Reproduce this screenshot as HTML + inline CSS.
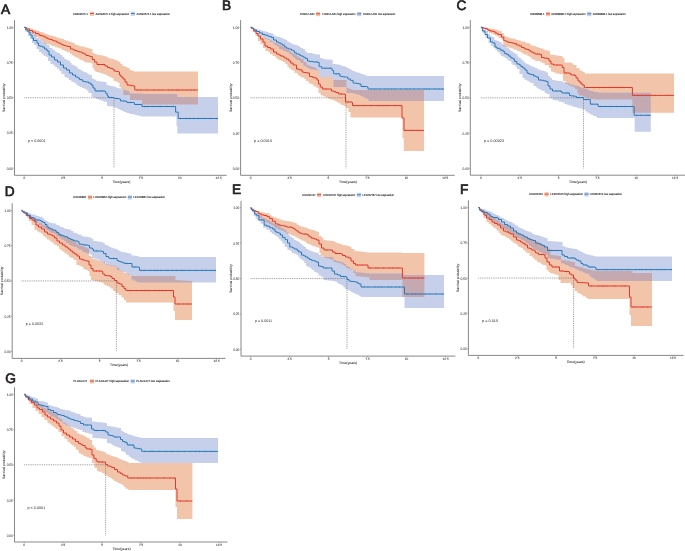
<!DOCTYPE html>
<html><head><meta charset="utf-8"><title>Kaplan-Meier survival curves</title>
<style>html,body{margin:0;padding:0;background:#fff;width:685px;height:551px;overflow:hidden;font-family:"Liberation Sans",sans-serif;}svg{display:block;will-change:transform}</style>
</head><body>
<svg width="685" height="551" viewBox="0 0 685 551" font-family="Liberation Sans, sans-serif" text-rendering="geometricPrecision">
<rect width="685" height="551" fill="#fff"/>
<clipPath id="cA"><path d="M24.3 27.3 L24.84 27.3 L24.84 27.52 L27.18 27.52 L27.18 27.69 L28.92 27.69 L28.92 28 L30 28 L30.67 28 L30.67 28.71 L33.67 28.71 L33.67 30 L35 30 L36.33 30 L36.33 30.55 L37.62 30.55 L37.62 31.11 L39.72 31.11 L39.72 32 L41 32 L41.9 32 L41.9 32.62 L44.48 32.62 L44.48 33.41 L45.55 33.41 L45.55 34 L47 34 L47.62 34 L47.62 34.97 L49.81 34.97 L49.81 35.54 L52.32 35.54 L52.32 36 L53 36 L53.87 36 L53.87 36.47 L56.05 36.47 L56.05 37.21 L57.56 37.21 L57.56 38 L59 38 L59.93 38 L59.93 38.46 L61.81 38.46 L61.81 39.03 L64.09 39.03 L64.09 40 L65 40 L66.2 40 L66.2 40.63 L67.74 40.63 L67.74 41.15 L70.07 41.15 L70.07 42 L71 42 L71.79 42 L71.79 42.85 L74.48 42.85 L74.48 43.98 L75.62 43.98 L75.62 45 L77 45 L77.99 45 L77.99 45.49 L79.54 45.49 L79.54 46.15 L82.17 46.15 L82.17 46.5 L83 46.5 L84.34 46.5 L84.34 47.2 L86.48 47.2 L86.48 47.79 L88.71 47.79 L88.71 48.55 L90.83 48.55 L90.83 49 L92 49 L92.5 49 L92.5 53 L93 53 L94.22 53 L94.22 53.96 L96.96 53.96 L96.96 55 L98 55 L99.74 55 L99.74 55.19 L101.88 55.19 L101.88 55.61 L103.58 55.61 L103.58 56 L105 56 L105.52 56 L105.52 56.86 L107.96 56.86 L107.96 58 L109 58 L109.56 58 L109.56 58.52 L112.27 58.52 L112.27 59 L113 59 L113.89 59 L113.89 59.69 L116.37 59.69 L116.37 60.5 L117 60.5 L118.5 60.5 L118.5 62 L120 62 L120.5 62 L120.5 64 L121 64 L122.5 64 L122.5 66 L124 66 L125.05 66 L125.05 66.76 L127.38 66.76 L127.38 68 L128 68 L129.5 68 L129.5 70 L131 70 L131.78 70 L131.78 70.74 L133.92 70.74 L133.92 71.5 L135 71.5 L198 71.5 L198 72 L198 104.5 L142 104.5 L142 100 L141.5 100 L130 100 L130 95 L129.5 95 L124.5 95 L123.25 95 L123.25 89 L122 89 L121 89 L121 87 L120 87 L119.5 87 L119.5 83 L119 83 L118.24 83 L118.24 82.02 L116.32 82.02 L116.32 81 L115 81 L113.5 81 L113.5 78 L112 78 L111.48 78 L111.48 77.07 L109.31 77.07 L109.31 76 L108 76 L107.28 76 L107.28 74.69 L105.03 74.69 L105.03 74 L104 74 L102.68 74 L102.68 73.3 L100.22 73.3 L100.22 72.53 L98.4 72.53 L98.4 72 L97 72 L95.53 72 L95.53 70.46 L94.04 70.46 L94.04 68 L93 68 L92.5 68 L92.5 63.5 L92 63.5 L91.36 63.5 L91.36 62.82 L87.94 62.82 L87.94 62.43 L85.77 62.43 L85.77 62 L85 62 L84 62 L84 60.5 L83 60.5 L81.6 60.5 L81.6 59.74 L79.59 59.74 L79.59 58.56 L77.98 58.56 L77.98 57.5 L77 57.5 L75.62 57.5 L75.62 56.45 L73.86 56.45 L73.86 55.55 L71.85 55.55 L71.85 54 L71 54 L70.22 54 L70.22 52.23 L66.66 52.23 L66.66 51 L66 51 L64.31 51 L64.31 50.01 L61.63 50.01 L61.63 48.5 L61 48.5 L59.33 48.5 L59.33 47.75 L56.89 47.75 L56.89 47 L56 47 L54.92 47 L54.92 46 L51.75 46 L51.75 45 L51 45 L50.12 45 L50.12 44.28 L47.72 44.28 L47.72 43.5 L46 43.5 L44.19 43.5 L44.19 41.67 L42.47 41.67 L42.47 40 L41 40 L40.19 40 L40.19 38.35 L38.45 38.35 L38.45 37 L37 37 L35.92 37 L35.92 35.76 L33.5 35.76 L33.5 34 L33 34 L31.98 34 L31.98 32.44 L29.73 32.44 L29.73 31 L29 31 L27.41 31 L27.41 28.72 L26.01 28.72 L26.01 27.3 L24.3 27.3 Z"/></clipPath>
<path d="M24.3 27.3 L24.84 27.3 L24.84 27.52 L27.18 27.52 L27.18 27.69 L28.92 27.69 L28.92 28 L30 28 L30.67 28 L30.67 28.71 L33.67 28.71 L33.67 30 L35 30 L36.33 30 L36.33 30.55 L37.62 30.55 L37.62 31.11 L39.72 31.11 L39.72 32 L41 32 L41.9 32 L41.9 32.62 L44.48 32.62 L44.48 33.41 L45.55 33.41 L45.55 34 L47 34 L47.62 34 L47.62 34.97 L49.81 34.97 L49.81 35.54 L52.32 35.54 L52.32 36 L53 36 L53.87 36 L53.87 36.47 L56.05 36.47 L56.05 37.21 L57.56 37.21 L57.56 38 L59 38 L59.93 38 L59.93 38.46 L61.81 38.46 L61.81 39.03 L64.09 39.03 L64.09 40 L65 40 L66.2 40 L66.2 40.63 L67.74 40.63 L67.74 41.15 L70.07 41.15 L70.07 42 L71 42 L71.79 42 L71.79 42.85 L74.48 42.85 L74.48 43.98 L75.62 43.98 L75.62 45 L77 45 L77.99 45 L77.99 45.49 L79.54 45.49 L79.54 46.15 L82.17 46.15 L82.17 46.5 L83 46.5 L84.34 46.5 L84.34 47.2 L86.48 47.2 L86.48 47.79 L88.71 47.79 L88.71 48.55 L90.83 48.55 L90.83 49 L92 49 L92.5 49 L92.5 53 L93 53 L94.22 53 L94.22 53.96 L96.96 53.96 L96.96 55 L98 55 L99.74 55 L99.74 55.19 L101.88 55.19 L101.88 55.61 L103.58 55.61 L103.58 56 L105 56 L105.52 56 L105.52 56.86 L107.96 56.86 L107.96 58 L109 58 L109.56 58 L109.56 58.52 L112.27 58.52 L112.27 59 L113 59 L113.89 59 L113.89 59.69 L116.37 59.69 L116.37 60.5 L117 60.5 L118.5 60.5 L118.5 62 L120 62 L120.5 62 L120.5 64 L121 64 L122.5 64 L122.5 66 L124 66 L125.05 66 L125.05 66.76 L127.38 66.76 L127.38 68 L128 68 L129.5 68 L129.5 70 L131 70 L131.78 70 L131.78 70.74 L133.92 70.74 L133.92 71.5 L135 71.5 L198 71.5 L198 72 L198 104.5 L142 104.5 L142 100 L141.5 100 L130 100 L130 95 L129.5 95 L124.5 95 L123.25 95 L123.25 89 L122 89 L121 89 L121 87 L120 87 L119.5 87 L119.5 83 L119 83 L118.24 83 L118.24 82.02 L116.32 82.02 L116.32 81 L115 81 L113.5 81 L113.5 78 L112 78 L111.48 78 L111.48 77.07 L109.31 77.07 L109.31 76 L108 76 L107.28 76 L107.28 74.69 L105.03 74.69 L105.03 74 L104 74 L102.68 74 L102.68 73.3 L100.22 73.3 L100.22 72.53 L98.4 72.53 L98.4 72 L97 72 L95.53 72 L95.53 70.46 L94.04 70.46 L94.04 68 L93 68 L92.5 68 L92.5 63.5 L92 63.5 L91.36 63.5 L91.36 62.82 L87.94 62.82 L87.94 62.43 L85.77 62.43 L85.77 62 L85 62 L84 62 L84 60.5 L83 60.5 L81.6 60.5 L81.6 59.74 L79.59 59.74 L79.59 58.56 L77.98 58.56 L77.98 57.5 L77 57.5 L75.62 57.5 L75.62 56.45 L73.86 56.45 L73.86 55.55 L71.85 55.55 L71.85 54 L71 54 L70.22 54 L70.22 52.23 L66.66 52.23 L66.66 51 L66 51 L64.31 51 L64.31 50.01 L61.63 50.01 L61.63 48.5 L61 48.5 L59.33 48.5 L59.33 47.75 L56.89 47.75 L56.89 47 L56 47 L54.92 47 L54.92 46 L51.75 46 L51.75 45 L51 45 L50.12 45 L50.12 44.28 L47.72 44.28 L47.72 43.5 L46 43.5 L44.19 43.5 L44.19 41.67 L42.47 41.67 L42.47 40 L41 40 L40.19 40 L40.19 38.35 L38.45 38.35 L38.45 37 L37 37 L35.92 37 L35.92 35.76 L33.5 35.76 L33.5 34 L33 34 L31.98 34 L31.98 32.44 L29.73 32.44 L29.73 31 L29 31 L27.41 31 L27.41 28.72 L26.01 28.72 L26.01 27.3 L24.3 27.3 Z" fill="#f2c5aa"/>
<path d="M24.3 27.3 L25.31 27.3 L25.31 28.42 L27.27 28.42 L27.27 30 L29 30 L30.5 30 L30.5 32 L32 32 L33.5 32 L33.5 35 L35 35 L36.5 35 L36.5 38 L38 38 L39.5 38 L39.5 40 L41 40 L42.5 40 L42.5 42 L44 42 L44.76 42 L44.76 43.21 L47.19 43.21 L47.19 45 L48 45 L49.5 45 L49.5 48 L51 48 L52.44 48 L52.44 49.82 L54.49 49.82 L54.49 51 L55 51 L55.72 51 L55.72 52.25 L57.73 52.25 L57.73 53 L59 53 L60.12 53 L60.12 54.99 L62.4 54.99 L62.4 57 L63 57 L64.15 57 L64.15 58.73 L66.3 58.73 L66.3 60 L67 60 L68.41 60 L68.41 61.01 L70.28 61.01 L70.28 63 L71 63 L71.68 63 L71.68 64.68 L74.29 64.68 L74.29 66 L75 66 L76.47 66 L76.47 67.17 L77.9 67.17 L77.9 69 L79 69 L79.67 69 L79.67 69.76 L81.63 69.76 L81.63 70.97 L83.65 70.97 L83.65 72 L85 72 L86.33 72 L86.33 73.26 L88.48 73.26 L88.48 74.42 L90.16 74.42 L90.16 75 L91 75 L92 75 L92 78.5 L93 78.5 L93.79 78.5 L93.79 79.62 L96.14 79.62 L96.14 81 L98 81 L99.67 81 L99.67 81.4 L101.42 81.4 L101.42 81.72 L104.27 81.72 L104.27 82 L105 82 L106.5 82 L106.5 85 L108 85 L108.79 85 L108.79 85.71 L110.74 85.71 L110.74 86.1 L113.09 86.1 L113.09 86.5 L114 86.5 L115.41 86.5 L115.41 87.16 L116.85 87.16 L116.85 87.95 L118.96 87.95 L118.96 88.5 L120 88.5 L121.04 88.5 L121.04 89.15 L123.84 89.15 L123.84 90 L124.5 90 L125.65 90 L125.65 90.49 L127.33 90.49 L127.33 91 L129 91 L129.5 91 L129.5 93.5 L130 93.5 L142 93.5 L142 94 L177 94 L177 94.5 L177.5 94.5 L177.5 97 L178 97 L218 97 L218 133.6 L178.2 133.6 L177.35 133.6 L177.35 126 L176.5 126 L176.5 116.6 L176 116.6 L176 116.5 L142 116.5 L140.77 116.5 L140.77 115.79 L138.6 115.79 L138.6 115.52 L137.47 115.52 L137.47 115.04 L135.29 115.04 L135.29 114.5 L134 114.5 L132.83 114.5 L132.83 113.93 L130.52 113.93 L130.52 113.66 L128.94 113.66 L128.94 113 L128 113 L126.52 113 L126.52 112.1 L123.87 112.1 L123.87 111 L123 111 L121.93 111 L121.93 110.06 L119.66 110.06 L119.66 109 L119 109 L117.73 109 L117.73 107.66 L115.12 107.66 L115.12 107 L114 107 L113.47 107 L113.47 106.62 L111.38 106.62 L111.38 106.22 L108.64 106.22 L108.64 106 L108 106 L107 106 L107 102 L106 102 L105.4 102 L105.4 101.39 L103.28 101.39 L103.28 100.61 L101.17 100.61 L101.17 100 L100 100 L98.77 100 L98.77 98.95 L96.06 98.95 L96.06 97.83 L93.74 97.83 L93.74 97 L93 97 L91.5 97 L91.5 93 L90 93 L88.45 93 L88.45 90.86 L86.8 90.86 L86.8 89 L85 89 L84.44 89 L84.44 88.1 L81.98 88.1 L81.98 86.96 L80.03 86.96 L80.03 86 L79 86 L78.01 86 L78.01 84.8 L76.11 84.8 L76.11 83 L75 83 L74.07 83 L74.07 81.67 L71.33 81.67 L71.33 80 L70 80 L68.78 80 L68.78 78.09 L66.75 78.09 L66.75 77 L66 77 L64.5 77 L64.5 74 L63 74 L61.5 74 L61.5 71 L60 71 L59.28 71 L59.28 68.79 L57.06 68.79 L57.06 67 L56 67 L55.06 67 L55.06 65.23 L53.23 65.23 L53.23 64 L52 64 L50.5 64 L50.5 61 L49 61 L48 61 L48 57 L47 57 L46.3 57 L46.3 55.74 L43.5 55.74 L43.5 54 L43 54 L41.5 54 L41.5 52 L40 52 L39 52 L39 49 L38 49 L36.5 49 L36.5 45 L35 45 L34 45 L34 43 L33 43 L32 43 L32 39 L31 39 L30 39 L30 36 L29 36 L28 36 L28 32 L27 32 L25.65 32 L25.65 27.3 L24.3 27.3 Z" fill="#c7d0ea"/>
<path d="M24.3 27.3 L25.31 27.3 L25.31 28.42 L27.27 28.42 L27.27 30 L29 30 L30.5 30 L30.5 32 L32 32 L33.5 32 L33.5 35 L35 35 L36.5 35 L36.5 38 L38 38 L39.5 38 L39.5 40 L41 40 L42.5 40 L42.5 42 L44 42 L44.76 42 L44.76 43.21 L47.19 43.21 L47.19 45 L48 45 L49.5 45 L49.5 48 L51 48 L52.44 48 L52.44 49.82 L54.49 49.82 L54.49 51 L55 51 L55.72 51 L55.72 52.25 L57.73 52.25 L57.73 53 L59 53 L60.12 53 L60.12 54.99 L62.4 54.99 L62.4 57 L63 57 L64.15 57 L64.15 58.73 L66.3 58.73 L66.3 60 L67 60 L68.41 60 L68.41 61.01 L70.28 61.01 L70.28 63 L71 63 L71.68 63 L71.68 64.68 L74.29 64.68 L74.29 66 L75 66 L76.47 66 L76.47 67.17 L77.9 67.17 L77.9 69 L79 69 L79.67 69 L79.67 69.76 L81.63 69.76 L81.63 70.97 L83.65 70.97 L83.65 72 L85 72 L86.33 72 L86.33 73.26 L88.48 73.26 L88.48 74.42 L90.16 74.42 L90.16 75 L91 75 L92 75 L92 78.5 L93 78.5 L93.79 78.5 L93.79 79.62 L96.14 79.62 L96.14 81 L98 81 L99.67 81 L99.67 81.4 L101.42 81.4 L101.42 81.72 L104.27 81.72 L104.27 82 L105 82 L106.5 82 L106.5 85 L108 85 L108.79 85 L108.79 85.71 L110.74 85.71 L110.74 86.1 L113.09 86.1 L113.09 86.5 L114 86.5 L115.41 86.5 L115.41 87.16 L116.85 87.16 L116.85 87.95 L118.96 87.95 L118.96 88.5 L120 88.5 L121.04 88.5 L121.04 89.15 L123.84 89.15 L123.84 90 L124.5 90 L125.65 90 L125.65 90.49 L127.33 90.49 L127.33 91 L129 91 L129.5 91 L129.5 93.5 L130 93.5 L142 93.5 L142 94 L177 94 L177 94.5 L177.5 94.5 L177.5 97 L178 97 L218 97 L218 133.6 L178.2 133.6 L177.35 133.6 L177.35 126 L176.5 126 L176.5 116.6 L176 116.6 L176 116.5 L142 116.5 L140.77 116.5 L140.77 115.79 L138.6 115.79 L138.6 115.52 L137.47 115.52 L137.47 115.04 L135.29 115.04 L135.29 114.5 L134 114.5 L132.83 114.5 L132.83 113.93 L130.52 113.93 L130.52 113.66 L128.94 113.66 L128.94 113 L128 113 L126.52 113 L126.52 112.1 L123.87 112.1 L123.87 111 L123 111 L121.93 111 L121.93 110.06 L119.66 110.06 L119.66 109 L119 109 L117.73 109 L117.73 107.66 L115.12 107.66 L115.12 107 L114 107 L113.47 107 L113.47 106.62 L111.38 106.62 L111.38 106.22 L108.64 106.22 L108.64 106 L108 106 L107 106 L107 102 L106 102 L105.4 102 L105.4 101.39 L103.28 101.39 L103.28 100.61 L101.17 100.61 L101.17 100 L100 100 L98.77 100 L98.77 98.95 L96.06 98.95 L96.06 97.83 L93.74 97.83 L93.74 97 L93 97 L91.5 97 L91.5 93 L90 93 L88.45 93 L88.45 90.86 L86.8 90.86 L86.8 89 L85 89 L84.44 89 L84.44 88.1 L81.98 88.1 L81.98 86.96 L80.03 86.96 L80.03 86 L79 86 L78.01 86 L78.01 84.8 L76.11 84.8 L76.11 83 L75 83 L74.07 83 L74.07 81.67 L71.33 81.67 L71.33 80 L70 80 L68.78 80 L68.78 78.09 L66.75 78.09 L66.75 77 L66 77 L64.5 77 L64.5 74 L63 74 L61.5 74 L61.5 71 L60 71 L59.28 71 L59.28 68.79 L57.06 68.79 L57.06 67 L56 67 L55.06 67 L55.06 65.23 L53.23 65.23 L53.23 64 L52 64 L50.5 64 L50.5 61 L49 61 L48 61 L48 57 L47 57 L46.3 57 L46.3 55.74 L43.5 55.74 L43.5 54 L43 54 L41.5 54 L41.5 52 L40 52 L39 52 L39 49 L38 49 L36.5 49 L36.5 45 L35 45 L34 45 L34 43 L33 43 L32 43 L32 39 L31 39 L30 39 L30 36 L29 36 L28 36 L28 32 L27 32 L25.65 32 L25.65 27.3 L24.3 27.3 Z" fill="#c4a9b1" clip-path="url(#cA)"/>
<path d="M24.3 97.75 H114 V168.2" fill="none" stroke="#6a6a6a" stroke-width="0.7" stroke-dasharray="0.9 0.9"/>
<path d="M24.3 27.3 L25.01 27.3 L25.01 27.8 L26.73 27.8 L26.73 29 L28 29 L29.5 29 L29.5 30.5 L31 30.5 L32.5 30.5 L32.5 32 L34 32 L35.5 32 L35.5 33.5 L37 33.5 L38.32 33.5 L38.32 34.29 L39.76 34.29 L39.76 35.5 L41 35.5 L42.07 35.5 L42.07 35.97 L44.2 35.97 L44.2 37 L45 37 L46.19 37 L46.19 38.03 L47.93 38.03 L47.93 39 L49 39 L50.13 39 L50.13 39.43 L52.3 39.43 L52.3 40.5 L53 40.5 L53.57 40.5 L53.57 40.95 L56.36 40.95 L56.36 42 L57 42 L58.05 42 L58.05 43.06 L60.43 43.06 L60.43 44 L61 44 L62.03 44 L62.03 44.82 L63.74 44.82 L63.74 45.5 L65 45.5 L65.55 45.5 L65.55 45.98 L67.7 45.98 L67.7 46.5 L69 46.5 L70.5 46.5 L70.5 49 L72 49 L73.26 49 L73.26 49.75 L74.79 49.75 L74.79 50.5 L76 50.5 L77.06 50.5 L77.06 51.39 L79.15 51.39 L79.15 52 L81 52 L82.23 52 L82.23 53.19 L84.05 53.19 L84.05 54 L85 54 L86 54 L86 55.5 L87 55.5 L88.61 55.5 L88.61 55.91 L89.93 55.91 L89.93 56.5 L91.5 56.5 L92.25 56.5 L92.25 59.5 L93 59.5 L94.5 59.5 L94.5 62 L96 62 L97 62 L97 64.5 L98 64.5 L104 64.5 L105 64.5 L105 66 L106 66 L107.5 66 L107.5 67.5 L109 67.5 L110 67.5 L110 68.38 L112.33 68.38 L112.33 69 L113 69 L114 69 L114 71 L115 71 L116.19 71 L116.19 71.47 L118.48 71.47 L118.48 72 L119 72 L119.5 72 L119.5 75 L120 75 L121 75 L121 77 L122 77 L123 77 L123 79 L124 79 L125 79 L125 82 L126 82 L127 82 L127 85 L128 85 L129.14 85 L129.14 85.25 L130.9 85.25 L130.9 85.64 L132.85 85.64 L132.85 86 L134 86 L134.75 86 L134.75 90 L135.5 90 L198 90" fill="none" stroke="#e2392c" stroke-width="1.0"/>
<path d="M24.3 27.3 L25.65 27.3 L25.65 30 L27 30 L28 30 L28 32 L29 32 L30 32 L30 35 L31 35 L32 35 L32 38 L33 38 L33.5 38 L33.5 40.5 L34 40.5 L36 40.5 L37 40.5 L37 43 L38 43 L38.5 43 L38.5 45.5 L39 45.5 L39.57 45.5 L39.57 46.2 L42.24 46.2 L42.24 47 L43 47 L44.5 47 L44.5 49 L46 49 L47 49 L47 51 L48 51 L49 51 L49 55 L50 55 L51.5 55 L51.5 57 L53 57 L54.5 57 L54.5 60 L56 60 L57.5 60 L57.5 62 L59 62 L60.5 62 L60.5 65 L62 65 L63.5 65 L63.5 68 L65 68 L66.5 68 L66.5 70 L68 70 L69.5 70 L69.5 73 L71 73 L72.5 73 L72.5 75 L74 75 L75.5 75 L75.5 77 L77 77 L78 77 L78 78 L79 78 L79.58 78 L79.58 79.6 L82.34 79.6 L82.34 81 L83 81 L83.78 81 L83.78 81.54 L85.74 81.54 L85.74 82 L87 82 L88.5 82 L88.5 83 L90 83 L91 83 L91 85 L92 85 L93 85 L93 88 L94 88 L95 88 L95 91 L96 91 L105 91 L105 91.5 L105.75 91.5 L105.75 93.5 L106.5 93.5 L107.25 93.5 L107.25 96 L108 96 L108.5 96 L108.5 97.5 L113.5 97.5 L113.5 98 L115 98 L115 98.5 L119 98.5 L119 99 L120.5 99 L120.5 101 L122 101 L126 101 L126 101.5 L127 101.5 L127 102.5 L128 102.5 L134 102.5 L134 103 L134.5 103 L134.5 104.5 L141.5 104.5 L142 104.5 L142 106.5 L175.6 106.5 L175.6 112.1 L178.2 112.1 L178.2 118.5 L218 118.5" fill="none" stroke="#2a7ab8" stroke-width="1.0"/>
<path d="M99.39 63.7 v1.6 M103.68 63.7 v1.6 M137.19 89.2 v1.6 M140.51 89.2 v1.6 M147.32 89.2 v1.6 M154.18 89.2 v1.6 M158.92 89.2 v1.6 M162.14 89.2 v1.6 M168.97 89.2 v1.6 M172.51 89.2 v1.6 M176.3 89.2 v1.6 M178.3 89.2 v1.6 M182.21 89.2 v1.6 M186.58 89.2 v1.6 M191.1 89.2 v1.6 M194.1 89.2 v1.6" stroke="#e2392c" stroke-width="0.5" fill="none"/>
<path d="M96.81 90.2 v1.6 M100.13 90.2 v1.6 M102.58 90.2 v1.6 M109.38 96.7 v1.6 M111.5 96.7 v1.6 M116.27 97.7 v1.6 M123.86 100.2 v1.6 M130.12 101.7 v1.6 M137.06 103.7 v1.6 M141.01 103.7 v1.6 M144.77 105.7 v1.6 M147.52 105.7 v1.6 M153.14 105.7 v1.6 M158.35 105.7 v1.6 M160.57 105.7 v1.6 M166.75 105.7 v1.6 M173.21 105.7 v1.6 M180.47 117.7 v1.6 M186.53 117.7 v1.6 M189.23 117.7 v1.6 M193.84 117.7 v1.6 M198.37 117.7 v1.6 M204.54 117.7 v1.6 M210.56 117.7 v1.6 M216.7 117.7 v1.6" stroke="#2a7ab8" stroke-width="0.5" fill="none"/>
<path d="M14.5 20.1 V175.3 H226.7" fill="none" stroke="#7a7a7a" stroke-width="0.9"/>
<text x="6.7" y="169.65" font-size="3.5" fill="#333" stroke="#333" stroke-width="0.04" textLength="6.2" lengthAdjust="spacingAndGlyphs">0.00</text>
<text x="6.7" y="134.42" font-size="3.5" fill="#333" stroke="#333" stroke-width="0.04" textLength="6.2" lengthAdjust="spacingAndGlyphs">0.25</text>
<text x="6.7" y="99.2" font-size="3.5" fill="#333" stroke="#333" stroke-width="0.04" textLength="6.2" lengthAdjust="spacingAndGlyphs">0.50</text>
<text x="6.7" y="63.98" font-size="3.5" fill="#333" stroke="#333" stroke-width="0.04" textLength="6.2" lengthAdjust="spacingAndGlyphs">0.75</text>
<text x="6.7" y="28.75" font-size="3.5" fill="#333" stroke="#333" stroke-width="0.04" textLength="6.2" lengthAdjust="spacingAndGlyphs">1.00</text>
<text x="24.3" y="179.2" font-size="3.1" text-anchor="middle" fill="#333" stroke="#333" stroke-width="0.05">0</text>
<text x="63.16" y="179.2" font-size="3.1" text-anchor="middle" fill="#333" stroke="#333" stroke-width="0.05">2.5</text>
<text x="102.02" y="179.2" font-size="3.1" text-anchor="middle" fill="#333" stroke="#333" stroke-width="0.05">5</text>
<text x="140.88" y="179.2" font-size="3.1" text-anchor="middle" fill="#333" stroke="#333" stroke-width="0.05">7.5</text>
<text x="179.74" y="179.2" font-size="3.1" text-anchor="middle" fill="#333" stroke="#333" stroke-width="0.05">10</text>
<text x="218.6" y="179.2" font-size="3.1" text-anchor="middle" fill="#333" stroke="#333" stroke-width="0.05">12.5</text>
<path d="M13.3 168.2 H14.5 M13.3 132.97 H14.5 M13.3 97.75 H14.5 M13.3 62.53 H14.5 M13.3 27.3 H14.5 M24.3 175.3 V176.5 M63.16 175.3 V176.5 M102.02 175.3 V176.5 M140.88 175.3 V176.5 M179.74 175.3 V176.5 M218.6 175.3 V176.5" stroke="#7a7a7a" stroke-width="0.6"/>
<text x="121.45" y="182.9" font-size="3.4" text-anchor="middle" fill="#222" stroke="#222" stroke-width="0.05">Time(years)</text>
<text transform="translate(4.2 97.75) rotate(-90)" x="0" y="1.2" font-size="3.4" text-anchor="middle" fill="#222" stroke="#222" stroke-width="0.06">Survival probability</text>
<text x="28" y="141.9" font-size="3.7" fill="#222" textLength="17.5" lengthAdjust="spacingAndGlyphs">p < 0.0001</text>
<text x="73.1" y="14.5" font-size="2.9" fill="#111" stroke="#111" stroke-width="0.08" textLength="14.9" lengthAdjust="spacingAndGlyphs">AC092675.1</text>
<rect x="89.9" y="11.6" width="4.1" height="4.3" fill="#f2c5aa"/>
<path d="M89.9 13.5 h4.1" stroke="#e2392c" stroke-width="0.9"/>
<text x="95.6" y="14.5" font-size="2.9" fill="#111" stroke="#111" stroke-width="0.08" textLength="33.6" lengthAdjust="spacingAndGlyphs">AC092675.1 high expression</text>
<rect x="130.8" y="11.6" width="4.1" height="4.3" fill="#c7d0ea"/>
<path d="M130.8 13.5 h4.1" stroke="#2a7ab8" stroke-width="0.9"/>
<text x="136.6" y="14.5" font-size="2.9" fill="#111" stroke="#111" stroke-width="0.08" textLength="33.4" lengthAdjust="spacingAndGlyphs">AC092675.1 low expression</text>
<text x="0.9" y="14" font-size="13.7" fill="#231f20" stroke="#231f20" stroke-width="0.7">A</text>
<clipPath id="cB"><path d="M250.6 27.3 L251.91 27.3 L251.91 28.49 L253.6 28.49 L253.6 29.5 L255 29.5 L256.5 29.5 L256.5 33 L258 33 L259.5 33 L259.5 35.5 L261 35.5 L262.5 35.5 L262.5 37 L264 37 L264.86 37 L264.86 37.91 L266.6 37.91 L266.6 39 L268 39 L269.41 39 L269.41 40.39 L271.91 40.39 L271.91 41.5 L273 41.5 L273.63 41.5 L273.63 42.86 L277.12 42.86 L277.12 44 L278 44 L279.04 44 L279.04 45.11 L281.16 45.11 L281.16 46 L282 46 L282.75 46 L282.75 46.78 L284.57 46.78 L284.57 48.5 L286 48.5 L286.71 48.5 L286.71 49.46 L289.24 49.46 L289.24 51 L290 51 L290.88 51 L290.88 52.79 L292.98 52.79 L292.98 54 L294 54 L295.12 54 L295.12 55.21 L297.14 55.21 L297.14 56.5 L298 56.5 L298.75 56.5 L298.75 57.68 L301.24 57.68 L301.24 59 L302 59 L303.5 59 L303.5 62 L305 62 L306.5 62 L306.5 65 L308 65 L308.64 65 L308.64 65.86 L311.2 65.86 L311.2 67 L313 67 L314.49 67 L314.49 68.19 L316.97 68.19 L316.97 70 L318 70 L319 70 L319 77 L320 77 L333 77 L333.5 77 L333.5 80 L346 80 L346.5 80 L346.5 87.5 L347.55 87.5 L347.55 88.21 L349.34 88.21 L349.34 89.13 L352.34 89.13 L352.34 90 L353 90 L424 90 L424 151 L405 151 L403.75 151 L403.75 138 L402.5 138 L402.5 118 L402 118 L402 117.5 L352 117.5 L350.48 117.5 L350.48 112.1 L348.43 112.1 L348.43 108 L347 108 L346 108 L346 106 L345 106 L344.23 106 L344.23 105.19 L341.55 105.19 L341.55 104.5 L341 104.5 L340.44 104.5 L340.44 103.34 L338.41 103.34 L338.41 102 L337 102 L336.38 102 L336.38 100.88 L334.46 100.88 L334.46 100 L333 100 L331.76 100 L331.76 99.31 L328.96 99.31 L328.96 98 L328 98 L326.79 98 L326.79 97.27 L325.33 97.27 L325.33 96.24 L322.6 96.24 L322.6 95 L322 95 L320.5 95 L320.5 93 L319 93 L318.5 93 L318.5 88 L318 88 L316.5 88 L316.5 86.5 L315 86.5 L313.58 86.5 L313.58 84.62 L311.36 84.62 L311.36 83.5 L310 83.5 L308.59 83.5 L308.59 81.09 L305.99 81.09 L305.99 79 L305 79 L304.28 79 L304.28 77.45 L300.78 77.45 L300.78 76 L300 76 L298.5 76 L298.5 74.53 L297.34 74.53 L297.34 73 L296 73 L294.64 73 L294.64 70.79 L292.8 70.79 L292.8 69.67 L290.95 69.67 L290.95 68.5 L290 68.5 L288.99 68.5 L288.99 66.8 L287.4 66.8 L287.4 64 L286 64 L285.39 64 L285.39 61.97 L283.01 61.97 L283.01 61 L282 61 L281.45 61 L281.45 60.26 L279.02 60.26 L279.02 59 L278 59 L276.71 59 L276.71 57.56 L275.45 57.56 L275.45 56 L274 56 L272.5 56 L272.5 54 L271 54 L269.95 54 L269.95 52.26 L268.47 52.26 L268.47 51 L267 51 L265.5 51 L265.5 48 L264 48 L263 48 L263 44 L262 44 L260.5 44 L260.5 41 L259 41 L258 41 L258 36 L257 36 L255.5 36 L255.5 32 L254 32 L252.74 32 L252.74 28.81 L251.82 28.81 L251.82 27.3 L250.6 27.3 Z"/></clipPath>
<path d="M250.6 27.3 L251.91 27.3 L251.91 28.49 L253.6 28.49 L253.6 29.5 L255 29.5 L256.5 29.5 L256.5 33 L258 33 L259.5 33 L259.5 35.5 L261 35.5 L262.5 35.5 L262.5 37 L264 37 L264.86 37 L264.86 37.91 L266.6 37.91 L266.6 39 L268 39 L269.41 39 L269.41 40.39 L271.91 40.39 L271.91 41.5 L273 41.5 L273.63 41.5 L273.63 42.86 L277.12 42.86 L277.12 44 L278 44 L279.04 44 L279.04 45.11 L281.16 45.11 L281.16 46 L282 46 L282.75 46 L282.75 46.78 L284.57 46.78 L284.57 48.5 L286 48.5 L286.71 48.5 L286.71 49.46 L289.24 49.46 L289.24 51 L290 51 L290.88 51 L290.88 52.79 L292.98 52.79 L292.98 54 L294 54 L295.12 54 L295.12 55.21 L297.14 55.21 L297.14 56.5 L298 56.5 L298.75 56.5 L298.75 57.68 L301.24 57.68 L301.24 59 L302 59 L303.5 59 L303.5 62 L305 62 L306.5 62 L306.5 65 L308 65 L308.64 65 L308.64 65.86 L311.2 65.86 L311.2 67 L313 67 L314.49 67 L314.49 68.19 L316.97 68.19 L316.97 70 L318 70 L319 70 L319 77 L320 77 L333 77 L333.5 77 L333.5 80 L346 80 L346.5 80 L346.5 87.5 L347.55 87.5 L347.55 88.21 L349.34 88.21 L349.34 89.13 L352.34 89.13 L352.34 90 L353 90 L424 90 L424 151 L405 151 L403.75 151 L403.75 138 L402.5 138 L402.5 118 L402 118 L402 117.5 L352 117.5 L350.48 117.5 L350.48 112.1 L348.43 112.1 L348.43 108 L347 108 L346 108 L346 106 L345 106 L344.23 106 L344.23 105.19 L341.55 105.19 L341.55 104.5 L341 104.5 L340.44 104.5 L340.44 103.34 L338.41 103.34 L338.41 102 L337 102 L336.38 102 L336.38 100.88 L334.46 100.88 L334.46 100 L333 100 L331.76 100 L331.76 99.31 L328.96 99.31 L328.96 98 L328 98 L326.79 98 L326.79 97.27 L325.33 97.27 L325.33 96.24 L322.6 96.24 L322.6 95 L322 95 L320.5 95 L320.5 93 L319 93 L318.5 93 L318.5 88 L318 88 L316.5 88 L316.5 86.5 L315 86.5 L313.58 86.5 L313.58 84.62 L311.36 84.62 L311.36 83.5 L310 83.5 L308.59 83.5 L308.59 81.09 L305.99 81.09 L305.99 79 L305 79 L304.28 79 L304.28 77.45 L300.78 77.45 L300.78 76 L300 76 L298.5 76 L298.5 74.53 L297.34 74.53 L297.34 73 L296 73 L294.64 73 L294.64 70.79 L292.8 70.79 L292.8 69.67 L290.95 69.67 L290.95 68.5 L290 68.5 L288.99 68.5 L288.99 66.8 L287.4 66.8 L287.4 64 L286 64 L285.39 64 L285.39 61.97 L283.01 61.97 L283.01 61 L282 61 L281.45 61 L281.45 60.26 L279.02 60.26 L279.02 59 L278 59 L276.71 59 L276.71 57.56 L275.45 57.56 L275.45 56 L274 56 L272.5 56 L272.5 54 L271 54 L269.95 54 L269.95 52.26 L268.47 52.26 L268.47 51 L267 51 L265.5 51 L265.5 48 L264 48 L263 48 L263 44 L262 44 L260.5 44 L260.5 41 L259 41 L258 41 L258 36 L257 36 L255.5 36 L255.5 32 L254 32 L252.74 32 L252.74 28.81 L251.82 28.81 L251.82 27.3 L250.6 27.3 Z" fill="#f2c5aa"/>
<path d="M250.6 27.3 L251.64 27.3 L251.64 27.66 L253.63 27.66 L253.63 28.59 L255.72 28.59 L255.72 29 L257 29 L257.95 29 L257.95 29.68 L260.94 29.68 L260.94 30.5 L262 30.5 L262.67 30.5 L262.67 30.94 L264.66 30.94 L264.66 31.51 L266.71 31.51 L266.71 32 L268 32 L268.72 32 L268.72 32.88 L271.41 32.88 L271.41 33.5 L272 33.5 L273.5 33.5 L273.5 35.5 L275 35.5 L275.8 35.5 L275.8 36.42 L278.37 36.42 L278.37 37 L280 37 L280.59 37 L280.59 37.82 L282.74 37.82 L282.74 39 L284 39 L285.39 39 L285.39 40.04 L287.25 40.04 L287.25 41.5 L288 41.5 L289.02 41.5 L289.02 42.5 L290.88 42.5 L290.88 43.5 L292 43.5 L292.78 43.5 L292.78 44.4 L295.47 44.4 L295.47 45 L296 45 L297.13 45 L297.13 45.77 L299.36 45.77 L299.36 47 L300 47 L300.75 47 L300.75 47.96 L302.9 47.96 L302.9 49 L304 49 L305 49 L305 51.5 L306 51.5 L307 51.5 L307 53 L308 53 L312 53 L312 53.5 L313.6 53.5 L313.6 53.75 L314.94 53.75 L314.94 54.14 L317.29 54.14 L317.29 54.5 L319 54.5 L320 54.5 L320 58 L321 58 L322.22 58 L322.22 58.7 L324.86 58.7 L324.86 59.5 L326 59.5 L331.5 59.5 L331.5 60 L332.75 60 L332.75 64 L334 64 L335.33 64 L335.33 64.18 L337.36 64.18 L337.36 64.49 L339.47 64.49 L339.47 65 L340 65 L341.02 65 L341.02 65.74 L343.18 65.74 L343.18 66.35 L345.44 66.35 L345.44 67 L346 67 L347.26 67 L347.26 68.03 L348.96 68.03 L348.96 69 L350 69 L351.28 69 L351.28 70.32 L352.73 70.32 L352.73 71 L354 71 L354.63 71 L354.63 71.84 L356.75 71.84 L356.75 72.52 L359.14 72.52 L359.14 73 L360 73 L360.57 73 L360.57 73.99 L363.02 73.99 L363.02 74.5 L364 74.5 L364.72 74.5 L364.72 75.32 L367.1 75.32 L367.1 76 L368 76 L444 76 L444 101 L369 101 L368.5 101 L368.5 99 L368 99 L367.46 99 L367.46 98.18 L364.85 98.18 L364.85 97.15 L362.78 97.15 L362.78 96.08 L360.5 96.08 L360.5 95 L360 95 L359.16 95 L359.16 94.54 L356.53 94.54 L356.53 94 L356 94 L354.69 94 L354.69 93.51 L352.83 93.51 L352.83 93 L352 93 L346.5 93 L346.5 87 L346 87 L333.5 87 L333.5 77 L333 77 L320 77 L319 77 L319 70.5 L318 70.5 L317.23 70.5 L317.23 70.05 L315.38 70.05 L315.38 69.78 L313.4 69.78 L313.4 69.5 L312 69.5 L310.64 69.5 L310.64 68.83 L309.47 68.83 L309.47 68 L308 68 L306.5 68 L306.5 66 L305 66 L303.5 66 L303.5 63 L302 63 L300.65 63 L300.65 61.32 L299.45 61.32 L299.45 60 L298 60 L296.72 60 L296.72 58.78 L294.69 58.78 L294.69 57 L294 57 L292.79 57 L292.79 55.51 L291.26 55.51 L291.26 54 L290 54 L289.15 54 L289.15 51.97 L286.01 51.97 L286.01 51 L285 51 L283.76 51 L283.76 49.7 L281.55 49.7 L281.55 49 L280 49 L279.18 49 L279.18 46.56 L276.92 46.56 L276.92 45 L276 45 L274.41 45 L274.41 43.18 L272.78 43.18 L272.78 42 L271 42 L269.65 42 L269.65 40.03 L267.47 40.03 L267.47 39 L266 39 L264.81 39 L264.81 37.02 L263.2 37.02 L263.2 36 L262 36 L260.73 36 L260.73 34.63 L258.98 34.63 L258.98 33.5 L258 33.5 L256.5 33.5 L256.5 31.5 L255 31.5 L254.4 31.5 L254.4 28.93 L251.66 28.93 L251.66 27.3 L250.6 27.3 Z" fill="#c7d0ea"/>
<path d="M250.6 27.3 L251.64 27.3 L251.64 27.66 L253.63 27.66 L253.63 28.59 L255.72 28.59 L255.72 29 L257 29 L257.95 29 L257.95 29.68 L260.94 29.68 L260.94 30.5 L262 30.5 L262.67 30.5 L262.67 30.94 L264.66 30.94 L264.66 31.51 L266.71 31.51 L266.71 32 L268 32 L268.72 32 L268.72 32.88 L271.41 32.88 L271.41 33.5 L272 33.5 L273.5 33.5 L273.5 35.5 L275 35.5 L275.8 35.5 L275.8 36.42 L278.37 36.42 L278.37 37 L280 37 L280.59 37 L280.59 37.82 L282.74 37.82 L282.74 39 L284 39 L285.39 39 L285.39 40.04 L287.25 40.04 L287.25 41.5 L288 41.5 L289.02 41.5 L289.02 42.5 L290.88 42.5 L290.88 43.5 L292 43.5 L292.78 43.5 L292.78 44.4 L295.47 44.4 L295.47 45 L296 45 L297.13 45 L297.13 45.77 L299.36 45.77 L299.36 47 L300 47 L300.75 47 L300.75 47.96 L302.9 47.96 L302.9 49 L304 49 L305 49 L305 51.5 L306 51.5 L307 51.5 L307 53 L308 53 L312 53 L312 53.5 L313.6 53.5 L313.6 53.75 L314.94 53.75 L314.94 54.14 L317.29 54.14 L317.29 54.5 L319 54.5 L320 54.5 L320 58 L321 58 L322.22 58 L322.22 58.7 L324.86 58.7 L324.86 59.5 L326 59.5 L331.5 59.5 L331.5 60 L332.75 60 L332.75 64 L334 64 L335.33 64 L335.33 64.18 L337.36 64.18 L337.36 64.49 L339.47 64.49 L339.47 65 L340 65 L341.02 65 L341.02 65.74 L343.18 65.74 L343.18 66.35 L345.44 66.35 L345.44 67 L346 67 L347.26 67 L347.26 68.03 L348.96 68.03 L348.96 69 L350 69 L351.28 69 L351.28 70.32 L352.73 70.32 L352.73 71 L354 71 L354.63 71 L354.63 71.84 L356.75 71.84 L356.75 72.52 L359.14 72.52 L359.14 73 L360 73 L360.57 73 L360.57 73.99 L363.02 73.99 L363.02 74.5 L364 74.5 L364.72 74.5 L364.72 75.32 L367.1 75.32 L367.1 76 L368 76 L444 76 L444 101 L369 101 L368.5 101 L368.5 99 L368 99 L367.46 99 L367.46 98.18 L364.85 98.18 L364.85 97.15 L362.78 97.15 L362.78 96.08 L360.5 96.08 L360.5 95 L360 95 L359.16 95 L359.16 94.54 L356.53 94.54 L356.53 94 L356 94 L354.69 94 L354.69 93.51 L352.83 93.51 L352.83 93 L352 93 L346.5 93 L346.5 87 L346 87 L333.5 87 L333.5 77 L333 77 L320 77 L319 77 L319 70.5 L318 70.5 L317.23 70.5 L317.23 70.05 L315.38 70.05 L315.38 69.78 L313.4 69.78 L313.4 69.5 L312 69.5 L310.64 69.5 L310.64 68.83 L309.47 68.83 L309.47 68 L308 68 L306.5 68 L306.5 66 L305 66 L303.5 66 L303.5 63 L302 63 L300.65 63 L300.65 61.32 L299.45 61.32 L299.45 60 L298 60 L296.72 60 L296.72 58.78 L294.69 58.78 L294.69 57 L294 57 L292.79 57 L292.79 55.51 L291.26 55.51 L291.26 54 L290 54 L289.15 54 L289.15 51.97 L286.01 51.97 L286.01 51 L285 51 L283.76 51 L283.76 49.7 L281.55 49.7 L281.55 49 L280 49 L279.18 49 L279.18 46.56 L276.92 46.56 L276.92 45 L276 45 L274.41 45 L274.41 43.18 L272.78 43.18 L272.78 42 L271 42 L269.65 42 L269.65 40.03 L267.47 40.03 L267.47 39 L266 39 L264.81 39 L264.81 37.02 L263.2 37.02 L263.2 36 L262 36 L260.73 36 L260.73 34.63 L258.98 34.63 L258.98 33.5 L258 33.5 L256.5 33.5 L256.5 31.5 L255 31.5 L254.4 31.5 L254.4 28.93 L251.66 28.93 L251.66 27.3 L250.6 27.3 Z" fill="#c4a9b1" clip-path="url(#cB)"/>
<path d="M250.6 97.8 H346 V168.3" fill="none" stroke="#6a6a6a" stroke-width="0.7" stroke-dasharray="0.9 0.9"/>
<path d="M250.6 27.3 L251.38 27.3 L251.38 28.41 L253.74 28.41 L253.74 31 L255 31 L256 31 L256 33.5 L257 33.5 L258 33.5 L258 36 L259 36 L260.5 36 L260.5 39 L262 39 L263 39 L263 42 L264 42 L265 42 L265 46 L266 46 L267.5 46 L267.5 47.5 L269 47.5 L270.5 47.5 L270.5 49 L272 49 L273.5 49 L273.5 52 L275 52 L276.5 52 L276.5 54 L278 54 L278.93 54 L278.93 55 L280.55 55 L280.55 56 L282 56 L283.42 56 L283.42 57.05 L284.69 57.05 L284.69 58 L286 58 L286.53 58 L286.53 59.15 L288.91 59.15 L288.91 61 L290 61 L290.68 61 L290.68 63.04 L293.17 63.04 L293.17 65 L295 65 L296.5 65 L296.5 69 L298 69 L298.95 69 L298.95 69.85 L302.06 69.85 L302.06 72 L303 72 L303.97 72 L303.97 72.63 L307.32 72.63 L307.32 73 L308 73 L309.5 73 L309.5 76.5 L311 76.5 L312.52 76.5 L312.52 77.39 L314.52 77.39 L314.52 78 L316 78 L317 78 L317 80 L318 80 L318.5 80 L318.5 84 L319 84 L320.26 84 L320.26 87.03 L322.42 87.03 L322.42 89 L323 89 L330 89 L331.5 89 L331.5 91 L333 91 L333.52 91 L333.52 91.66 L335.73 91.66 L335.73 92.5 L337 92.5 L338.5 92.5 L338.5 94 L340 94 L345 94 L345 94.5 L345.5 94.5 L345.5 102 L346 102 L352 102 L352 102.5 L352.5 102.5 L352.5 105.6 L353 105.6 L402 105.6 L402 118 L404 118 L404 130.4 L424 130.4" fill="none" stroke="#e2392c" stroke-width="1.0"/>
<path d="M250.6 27.3 L252.2 27.3 L252.2 28.38 L253.78 28.38 L253.78 30 L255 30 L256.5 30 L256.5 31.5 L258 31.5 L259.5 31.5 L259.5 33 L261 33 L262.5 33 L262.5 34.5 L264 34.5 L264.99 34.5 L264.99 35.17 L267.43 35.17 L267.43 36 L268 36 L269.24 36 L269.24 36.52 L271.32 36.52 L271.32 37.5 L272 37.5 L273.5 37.5 L273.5 40 L275 40 L276.5 40 L276.5 42 L278 42 L278.83 42 L278.83 43.07 L280.82 43.07 L280.82 44 L282 44 L282.58 44 L282.58 45.21 L284.7 45.21 L284.7 47 L286 47 L286.56 47 L286.56 48.25 L288.53 48.25 L288.53 49 L290 49 L291.48 49 L291.48 50.12 L293.38 50.12 L293.38 51 L294 51 L294.58 51 L294.58 52.98 L296.6 52.98 L296.6 54 L298 54 L298.95 54 L298.95 54.9 L300.73 54.9 L300.73 56 L302 56 L303.17 56 L303.17 57.13 L305.25 57.13 L305.25 58.5 L306 58.5 L307.5 58.5 L307.5 61 L309 61 L309.78 61 L309.78 61.54 L313.18 61.54 L313.18 62 L314 62 L318 62 L318 62.5 L319.15 62.5 L319.15 66.6 L320.3 66.6 L321.65 66.6 L321.65 68.2 L323 68.2 L331.4 68.2 L332.05 68.2 L332.05 70.5 L332.7 70.5 L333.7 70.5 L333.7 73.8 L334.7 73.8 L339.3 73.8 L339.3 74.1 L339.95 74.1 L339.95 76.4 L340.6 76.4 L341.82 76.4 L341.82 76.6 L343.25 76.6 L343.25 76.88 L345.27 76.88 L345.27 77.1 L346.5 77.1 L347.85 77.1 L347.85 79 L349.2 79 L350.5 79 L350.5 80.4 L351.8 80.4 L353.1 80.4 L353.1 83 L354.4 83 L355.41 83 L355.41 83.27 L357.04 83.27 L357.04 83.5 L358.97 83.5 L358.97 84 L360 84 L361 84 L361 86.5 L362 86.5 L367 86.5 L367 87 L368 87 L368 89 L369 89 L444 89" fill="none" stroke="#2a7ab8" stroke-width="1.0"/>
<path d="M325.78 88.2 v1.6 M341.26 93.2 v1.6 M348.11 101.2 v1.6 M354 104.8 v1.6 M358.38 104.8 v1.6 M364.47 104.8 v1.6 M370.68 104.8 v1.6 M377.25 104.8 v1.6 M379.45 104.8 v1.6 M382.92 104.8 v1.6 M385.51 104.8 v1.6 M388.46 104.8 v1.6 M395.33 104.8 v1.6 M400.24 104.8 v1.6 M405.54 129.6 v1.6 M411.88 129.6 v1.6 M416.12 129.6 v1.6 M419.42 129.6 v1.6" stroke="#e2392c" stroke-width="0.5" fill="none"/>
<path d="M316.69 61.2 v1.6 M324.99 67.4 v1.6 M330.09 67.4 v1.6 M336.24 73 v1.6 M338.94 73 v1.6 M363.31 85.7 v1.6 M371.1 88.2 v1.6 M374.12 88.2 v1.6 M376.18 88.2 v1.6 M379.81 88.2 v1.6 M385.21 88.2 v1.6 M388.13 88.2 v1.6 M391.69 88.2 v1.6 M394.71 88.2 v1.6 M400.69 88.2 v1.6 M405.43 88.2 v1.6 M407.74 88.2 v1.6 M410.25 88.2 v1.6 M414.23 88.2 v1.6 M418.98 88.2 v1.6 M424.17 88.2 v1.6 M426.63 88.2 v1.6 M429.45 88.2 v1.6 M434.92 88.2 v1.6 M438.97 88.2 v1.6 M442.39 88.2 v1.6" stroke="#2a7ab8" stroke-width="0.5" fill="none"/>
<path d="M240.6 20.1 V175.3 H454.7" fill="none" stroke="#7a7a7a" stroke-width="0.9"/>
<text x="232.8" y="169.75" font-size="3.5" fill="#333" stroke="#333" stroke-width="0.04" textLength="6.2" lengthAdjust="spacingAndGlyphs">0.00</text>
<text x="232.8" y="134.5" font-size="3.5" fill="#333" stroke="#333" stroke-width="0.04" textLength="6.2" lengthAdjust="spacingAndGlyphs">0.25</text>
<text x="232.8" y="99.25" font-size="3.5" fill="#333" stroke="#333" stroke-width="0.04" textLength="6.2" lengthAdjust="spacingAndGlyphs">0.50</text>
<text x="232.8" y="64" font-size="3.5" fill="#333" stroke="#333" stroke-width="0.04" textLength="6.2" lengthAdjust="spacingAndGlyphs">0.75</text>
<text x="232.8" y="28.75" font-size="3.5" fill="#333" stroke="#333" stroke-width="0.04" textLength="6.2" lengthAdjust="spacingAndGlyphs">1.00</text>
<text x="250.6" y="179.2" font-size="3.1" text-anchor="middle" fill="#333" stroke="#333" stroke-width="0.05">0</text>
<text x="289.54" y="179.2" font-size="3.1" text-anchor="middle" fill="#333" stroke="#333" stroke-width="0.05">2.5</text>
<text x="328.48" y="179.2" font-size="3.1" text-anchor="middle" fill="#333" stroke="#333" stroke-width="0.05">5</text>
<text x="367.42" y="179.2" font-size="3.1" text-anchor="middle" fill="#333" stroke="#333" stroke-width="0.05">7.5</text>
<text x="406.36" y="179.2" font-size="3.1" text-anchor="middle" fill="#333" stroke="#333" stroke-width="0.05">10</text>
<text x="445.3" y="179.2" font-size="3.1" text-anchor="middle" fill="#333" stroke="#333" stroke-width="0.05">12.5</text>
<path d="M239.4 168.3 H240.6 M239.4 133.05 H240.6 M239.4 97.8 H240.6 M239.4 62.55 H240.6 M239.4 27.3 H240.6 M250.6 175.3 V176.5 M289.54 175.3 V176.5 M328.48 175.3 V176.5 M367.42 175.3 V176.5 M406.36 175.3 V176.5 M445.3 175.3 V176.5" stroke="#7a7a7a" stroke-width="0.6"/>
<text x="347.95" y="182.9" font-size="3.4" text-anchor="middle" fill="#222" stroke="#222" stroke-width="0.05">Time(years)</text>
<text transform="translate(230.3 97.8) rotate(-90)" x="0" y="1.2" font-size="3.4" text-anchor="middle" fill="#222" stroke="#222" stroke-width="0.06">Survival probability</text>
<text x="254" y="141.8" font-size="3.7" fill="#222" textLength="18.1" lengthAdjust="spacingAndGlyphs">p = 0.0015</text>
<text x="299.9" y="14.8" font-size="2.9" fill="#111" stroke="#111" stroke-width="0.08" textLength="14.8" lengthAdjust="spacingAndGlyphs">FOXD2-AS1</text>
<rect x="316" y="11.9" width="4.1" height="4.3" fill="#f2c5aa"/>
<path d="M316 13.8 h4.1" stroke="#e2392c" stroke-width="0.9"/>
<text x="322.3" y="14.8" font-size="2.9" fill="#111" stroke="#111" stroke-width="0.08" textLength="33.2" lengthAdjust="spacingAndGlyphs">FOXD2-AS1 high expression</text>
<rect x="357.2" y="11.9" width="4.1" height="4.3" fill="#c7d0ea"/>
<path d="M357.2 13.8 h4.1" stroke="#2a7ab8" stroke-width="0.9"/>
<text x="363" y="14.8" font-size="2.9" fill="#111" stroke="#111" stroke-width="0.08" textLength="32.3" lengthAdjust="spacingAndGlyphs">FOXD2-AS1 low expression</text>
<text x="222.1" y="9.9" font-size="13.7" fill="#231f20" stroke="#231f20" stroke-width="0.7">B</text>
<clipPath id="cC"><path d="M480.9 27.3 L486 27.3 L486 27.5 L487.33 27.5 L487.33 28.14 L489.57 28.14 L489.57 28.5 L491 28.5 L492.87 28.5 L492.87 28.9 L494.58 28.9 L494.58 29.5 L496 29.5 L496.7 29.5 L496.7 30.04 L498.51 30.04 L498.51 31 L500 31 L501.5 31 L501.5 33 L503 33 L503.75 33 L503.75 36 L504.5 36 L505.66 36 L505.66 36.6 L507.04 36.6 L507.04 37 L508 37 L508.83 37 L508.83 37.89 L511.14 37.89 L511.14 38.5 L513 38.5 L514.76 38.5 L514.76 39.22 L516.24 39.22 L516.24 40 L518 40 L519.26 40 L519.26 40.84 L521.31 40.84 L521.31 41.5 L523 41.5 L524.78 41.5 L524.78 42.15 L526.26 42.15 L526.26 43 L528 43 L529.47 43 L529.47 44.08 L530.7 44.08 L530.7 45.5 L532 45.5 L533.84 45.5 L533.84 45.95 L535.73 45.95 L535.73 47 L537 47 L538.5 47 L538.5 48 L540 48 L540.89 48 L540.89 48.42 L543.4 48.42 L543.4 49.5 L544 49.5 L544.83 49.5 L544.83 50.19 L548.11 50.19 L548.11 51 L549 51 L550 51 L550 54.5 L551 54.5 L551.72 54.5 L551.72 54.72 L553.9 54.72 L553.9 54.99 L556.02 54.99 L556.02 55.39 L557.88 55.39 L557.88 55.79 L559.62 55.79 L559.62 56 L561 56 L562.5 56 L562.5 58 L564 58 L564.5 58 L564.5 62.5 L565 62.5 L571 62.5 L571 63 L572.4 63 L572.4 63.76 L573.54 63.76 L573.54 65 L575 65 L576.5 65 L576.5 68 L578 68 L579.5 68 L579.5 70.5 L581 70.5 L582.5 70.5 L582.5 72 L584 72 L584.75 72 L584.75 73.5 L585.5 73.5 L674 73.5 L674 112.7 L632.4 112.7 L632.4 99.6 L632 99.6 L598 99.6 L596.86 99.6 L596.86 99.42 L595.08 99.42 L595.08 99.2 L593.49 99.2 L593.49 98.9 L590.76 98.9 L590.76 98.78 L589.3 98.78 L589.3 98.5 L588 98.5 L586.85 98.5 L586.85 97.65 L584.32 97.65 L584.32 96.52 L582.22 96.52 L582.22 95.5 L580.5 95.5 L578.94 95.5 L578.94 93.39 L577.45 93.39 L577.45 89 L576 89 L575.18 89 L575.18 87.62 L573.44 87.62 L573.44 86.2 L572 86.2 L570.17 86.2 L570.17 84.95 L568.02 84.95 L568.02 84 L567 84 L565.75 84 L565.75 81 L564.5 81 L563 81 L563 74.3 L561.5 74.3 L559.72 74.3 L559.72 73.81 L557.95 73.81 L557.95 73.5 L556 73.5 L555.32 73.5 L555.32 72.14 L552.77 72.14 L552.77 71.5 L552 71.5 L551 71.5 L551 68 L550 68 L549 68 L549 65.5 L548 65.5 L547.26 65.5 L547.26 64.93 L544.85 64.93 L544.85 63.5 L544 63.5 L543.29 63.5 L543.29 62.51 L540.67 62.51 L540.67 61.5 L540 61.5 L540 61 L537 61 L535.74 61 L535.74 60.31 L533.85 60.31 L533.85 59 L532 59 L531.23 59 L531.23 56.96 L529.5 56.96 L529.5 56 L528 56 L527.31 56 L527.31 54.39 L524.1 54.39 L524.1 53.5 L523 53.5 L521.76 53.5 L521.76 51.8 L519.6 51.8 L519.6 51 L518 51 L516.92 51 L516.92 49.71 L513.68 49.71 L513.68 48.5 L513 48.5 L511.24 48.5 L511.24 47.74 L509.16 47.74 L509.16 47 L508 47 L507.1 47 L507.1 46.57 L505.09 46.57 L505.09 46 L504.5 46 L503.25 46 L503.25 39.5 L502 39.5 L501.26 39.5 L501.26 38.09 L498.74 38.09 L498.74 36.5 L498 36.5 L496.52 36.5 L496.52 35.6 L494.94 35.6 L494.94 34.5 L494 34.5 L492.93 34.5 L492.93 33.7 L491.08 33.7 L491.08 33 L490 33 L489.13 33 L489.13 31.4 L487.05 31.4 L487.05 30.5 L486 30.5 L485.16 30.5 L485.16 28.77 L481.59 28.77 L481.59 27.3 L480.9 27.3 Z"/></clipPath>
<path d="M480.9 27.3 L486 27.3 L486 27.5 L487.33 27.5 L487.33 28.14 L489.57 28.14 L489.57 28.5 L491 28.5 L492.87 28.5 L492.87 28.9 L494.58 28.9 L494.58 29.5 L496 29.5 L496.7 29.5 L496.7 30.04 L498.51 30.04 L498.51 31 L500 31 L501.5 31 L501.5 33 L503 33 L503.75 33 L503.75 36 L504.5 36 L505.66 36 L505.66 36.6 L507.04 36.6 L507.04 37 L508 37 L508.83 37 L508.83 37.89 L511.14 37.89 L511.14 38.5 L513 38.5 L514.76 38.5 L514.76 39.22 L516.24 39.22 L516.24 40 L518 40 L519.26 40 L519.26 40.84 L521.31 40.84 L521.31 41.5 L523 41.5 L524.78 41.5 L524.78 42.15 L526.26 42.15 L526.26 43 L528 43 L529.47 43 L529.47 44.08 L530.7 44.08 L530.7 45.5 L532 45.5 L533.84 45.5 L533.84 45.95 L535.73 45.95 L535.73 47 L537 47 L538.5 47 L538.5 48 L540 48 L540.89 48 L540.89 48.42 L543.4 48.42 L543.4 49.5 L544 49.5 L544.83 49.5 L544.83 50.19 L548.11 50.19 L548.11 51 L549 51 L550 51 L550 54.5 L551 54.5 L551.72 54.5 L551.72 54.72 L553.9 54.72 L553.9 54.99 L556.02 54.99 L556.02 55.39 L557.88 55.39 L557.88 55.79 L559.62 55.79 L559.62 56 L561 56 L562.5 56 L562.5 58 L564 58 L564.5 58 L564.5 62.5 L565 62.5 L571 62.5 L571 63 L572.4 63 L572.4 63.76 L573.54 63.76 L573.54 65 L575 65 L576.5 65 L576.5 68 L578 68 L579.5 68 L579.5 70.5 L581 70.5 L582.5 70.5 L582.5 72 L584 72 L584.75 72 L584.75 73.5 L585.5 73.5 L674 73.5 L674 112.7 L632.4 112.7 L632.4 99.6 L632 99.6 L598 99.6 L596.86 99.6 L596.86 99.42 L595.08 99.42 L595.08 99.2 L593.49 99.2 L593.49 98.9 L590.76 98.9 L590.76 98.78 L589.3 98.78 L589.3 98.5 L588 98.5 L586.85 98.5 L586.85 97.65 L584.32 97.65 L584.32 96.52 L582.22 96.52 L582.22 95.5 L580.5 95.5 L578.94 95.5 L578.94 93.39 L577.45 93.39 L577.45 89 L576 89 L575.18 89 L575.18 87.62 L573.44 87.62 L573.44 86.2 L572 86.2 L570.17 86.2 L570.17 84.95 L568.02 84.95 L568.02 84 L567 84 L565.75 84 L565.75 81 L564.5 81 L563 81 L563 74.3 L561.5 74.3 L559.72 74.3 L559.72 73.81 L557.95 73.81 L557.95 73.5 L556 73.5 L555.32 73.5 L555.32 72.14 L552.77 72.14 L552.77 71.5 L552 71.5 L551 71.5 L551 68 L550 68 L549 68 L549 65.5 L548 65.5 L547.26 65.5 L547.26 64.93 L544.85 64.93 L544.85 63.5 L544 63.5 L543.29 63.5 L543.29 62.51 L540.67 62.51 L540.67 61.5 L540 61.5 L540 61 L537 61 L535.74 61 L535.74 60.31 L533.85 60.31 L533.85 59 L532 59 L531.23 59 L531.23 56.96 L529.5 56.96 L529.5 56 L528 56 L527.31 56 L527.31 54.39 L524.1 54.39 L524.1 53.5 L523 53.5 L521.76 53.5 L521.76 51.8 L519.6 51.8 L519.6 51 L518 51 L516.92 51 L516.92 49.71 L513.68 49.71 L513.68 48.5 L513 48.5 L511.24 48.5 L511.24 47.74 L509.16 47.74 L509.16 47 L508 47 L507.1 47 L507.1 46.57 L505.09 46.57 L505.09 46 L504.5 46 L503.25 46 L503.25 39.5 L502 39.5 L501.26 39.5 L501.26 38.09 L498.74 38.09 L498.74 36.5 L498 36.5 L496.52 36.5 L496.52 35.6 L494.94 35.6 L494.94 34.5 L494 34.5 L492.93 34.5 L492.93 33.7 L491.08 33.7 L491.08 33 L490 33 L489.13 33 L489.13 31.4 L487.05 31.4 L487.05 30.5 L486 30.5 L485.16 30.5 L485.16 28.77 L481.59 28.77 L481.59 27.3 L480.9 27.3 Z" fill="#f2c5aa"/>
<path d="M480.9 27.3 L481.59 27.3 L481.59 28.85 L484.22 28.85 L484.22 30 L485 30 L485.75 30 L485.75 31.17 L488.14 31.17 L488.14 34 L489 34 L490.16 34 L490.16 35.73 L491.81 35.73 L491.81 37 L493 37 L494.5 37 L494.5 40 L496 40 L496.65 40 L496.65 40.97 L499.12 40.97 L499.12 42 L500 42 L501.4 42 L501.4 43.44 L502.63 43.44 L502.63 45 L504 45 L504.52 45 L504.52 45.97 L506.5 45.97 L506.5 47.5 L508 47.5 L508.86 47.5 L508.86 49.55 L510.72 49.55 L510.72 51 L512 51 L512.7 51 L512.7 52.5 L515.12 52.5 L515.12 54 L516 54 L517.44 54 L517.44 56.42 L518.74 56.42 L518.74 58 L520 58 L521.14 58 L521.14 59.83 L523.37 59.83 L523.37 61.5 L524 61.5 L524.76 61.5 L524.76 62.97 L526.51 62.97 L526.51 64 L528 64 L528.85 64 L528.85 65.3 L531.15 65.3 L531.15 66.5 L532 66.5 L533.23 66.5 L533.23 67.09 L534.75 67.09 L534.75 68 L536 68 L537.29 68 L537.29 69.44 L539.63 69.44 L539.63 70 L541 70 L541.51 70 L541.51 70.72 L544.05 70.72 L544.05 71.26 L546.44 71.26 L546.44 72.5 L547 72.5 L548 72.5 L548 76 L549 76 L550.11 76 L550.11 77.91 L552.01 77.91 L552.01 80 L553 80 L553.94 80 L553.94 80.36 L556.27 80.36 L556.27 80.78 L558.31 80.78 L558.31 81 L560 81 L561.52 81 L561.52 81.62 L563.13 81.62 L563.13 82.2 L565 82.2 L566.21 82.2 L566.21 83.13 L569.05 83.13 L569.05 84 L570 84 L570.76 84 L570.76 84.85 L573.42 84.85 L573.42 85.5 L575 85.5 L576.56 85.5 L576.56 86.09 L578.99 86.09 L578.99 87 L580 87 L580.96 87 L580.96 87.79 L583.82 87.79 L583.82 88.5 L585 88.5 L586.28 88.5 L586.28 89.34 L588.46 89.34 L588.46 90.5 L590 90.5 L590.9 90.5 L590.9 91.16 L594.23 91.16 L594.23 92 L595 92 L595.92 92 L595.92 92.28 L599.05 92.28 L599.05 92.7 L600 92.7 L650.8 92.7 L650.8 93 L650.8 131.8 L635 131.8 L634.7 131.8 L634.7 118 L634.4 118 L598.9 118 L597.11 118 L597.11 116.76 L595.87 116.76 L595.87 115.88 L593.21 115.88 L593.21 114.7 L591.7 114.7 L590.7 114.7 L590.7 113.4 L589.7 113.4 L589.05 113.4 L589.05 112.46 L586.46 112.46 L586.46 111.09 L585.29 111.09 L585.29 109.5 L584 109.5 L582.65 109.5 L582.65 108.79 L580.82 108.79 L580.82 108.37 L578.09 108.37 L578.09 107.5 L577 107.5 L576.24 107.5 L576.24 106.93 L573.5 106.93 L573.5 106.34 L571.71 106.34 L571.71 105.5 L570 105.5 L568.78 105.5 L568.78 104.65 L566.76 104.65 L566.76 103.92 L564.52 103.92 L564.52 102.62 L562.92 102.62 L562.92 102 L562 102 L560.6 102 L560.6 101.48 L558.79 101.48 L558.79 100.87 L557.13 100.87 L557.13 100.25 L555.33 100.25 L555.33 100 L554 100 L552.5 100 L552.5 98 L551 98 L549.5 98 L549.5 94 L548 94 L546.61 94 L546.61 93.11 L544.71 93.11 L544.71 91 L544 91 L543.27 91 L543.27 90.42 L540.71 90.42 L540.71 89 L539 89 L538.32 89 L538.32 87.67 L536.32 87.67 L536.32 86 L535 86 L533.5 86 L533.5 83 L532 83 L530.57 83 L530.57 81.97 L529.24 81.97 L529.24 81 L528 81 L527.19 81 L527.19 79.64 L524.54 79.64 L524.54 78 L524 78 L522.5 78 L522.5 74 L521 74 L519.5 74 L519.5 69 L518 69 L516.84 69 L516.84 66.86 L515.43 66.86 L515.43 65 L514 65 L512.64 65 L512.64 63.64 L511.41 63.64 L511.41 61 L510 61 L508.71 61 L508.71 59.6 L506.81 59.6 L506.81 58 L506 58 L504.94 58 L504.94 57.06 L503.36 57.06 L503.36 56 L502 56 L500.97 56 L500.97 54.02 L499.48 54.02 L499.48 52 L498 52 L497.13 52 L497.13 50.11 L495.41 50.11 L495.41 48 L494 48 L493.38 48 L493.38 45.68 L490.83 45.68 L490.83 43 L490 43 L488.5 43 L488.5 38 L487 38 L485.5 38 L485.5 33 L484 33 L482.45 33 L482.45 27.3 L480.9 27.3 Z" fill="#c7d0ea"/>
<path d="M480.9 27.3 L481.59 27.3 L481.59 28.85 L484.22 28.85 L484.22 30 L485 30 L485.75 30 L485.75 31.17 L488.14 31.17 L488.14 34 L489 34 L490.16 34 L490.16 35.73 L491.81 35.73 L491.81 37 L493 37 L494.5 37 L494.5 40 L496 40 L496.65 40 L496.65 40.97 L499.12 40.97 L499.12 42 L500 42 L501.4 42 L501.4 43.44 L502.63 43.44 L502.63 45 L504 45 L504.52 45 L504.52 45.97 L506.5 45.97 L506.5 47.5 L508 47.5 L508.86 47.5 L508.86 49.55 L510.72 49.55 L510.72 51 L512 51 L512.7 51 L512.7 52.5 L515.12 52.5 L515.12 54 L516 54 L517.44 54 L517.44 56.42 L518.74 56.42 L518.74 58 L520 58 L521.14 58 L521.14 59.83 L523.37 59.83 L523.37 61.5 L524 61.5 L524.76 61.5 L524.76 62.97 L526.51 62.97 L526.51 64 L528 64 L528.85 64 L528.85 65.3 L531.15 65.3 L531.15 66.5 L532 66.5 L533.23 66.5 L533.23 67.09 L534.75 67.09 L534.75 68 L536 68 L537.29 68 L537.29 69.44 L539.63 69.44 L539.63 70 L541 70 L541.51 70 L541.51 70.72 L544.05 70.72 L544.05 71.26 L546.44 71.26 L546.44 72.5 L547 72.5 L548 72.5 L548 76 L549 76 L550.11 76 L550.11 77.91 L552.01 77.91 L552.01 80 L553 80 L553.94 80 L553.94 80.36 L556.27 80.36 L556.27 80.78 L558.31 80.78 L558.31 81 L560 81 L561.52 81 L561.52 81.62 L563.13 81.62 L563.13 82.2 L565 82.2 L566.21 82.2 L566.21 83.13 L569.05 83.13 L569.05 84 L570 84 L570.76 84 L570.76 84.85 L573.42 84.85 L573.42 85.5 L575 85.5 L576.56 85.5 L576.56 86.09 L578.99 86.09 L578.99 87 L580 87 L580.96 87 L580.96 87.79 L583.82 87.79 L583.82 88.5 L585 88.5 L586.28 88.5 L586.28 89.34 L588.46 89.34 L588.46 90.5 L590 90.5 L590.9 90.5 L590.9 91.16 L594.23 91.16 L594.23 92 L595 92 L595.92 92 L595.92 92.28 L599.05 92.28 L599.05 92.7 L600 92.7 L650.8 92.7 L650.8 93 L650.8 131.8 L635 131.8 L634.7 131.8 L634.7 118 L634.4 118 L598.9 118 L597.11 118 L597.11 116.76 L595.87 116.76 L595.87 115.88 L593.21 115.88 L593.21 114.7 L591.7 114.7 L590.7 114.7 L590.7 113.4 L589.7 113.4 L589.05 113.4 L589.05 112.46 L586.46 112.46 L586.46 111.09 L585.29 111.09 L585.29 109.5 L584 109.5 L582.65 109.5 L582.65 108.79 L580.82 108.79 L580.82 108.37 L578.09 108.37 L578.09 107.5 L577 107.5 L576.24 107.5 L576.24 106.93 L573.5 106.93 L573.5 106.34 L571.71 106.34 L571.71 105.5 L570 105.5 L568.78 105.5 L568.78 104.65 L566.76 104.65 L566.76 103.92 L564.52 103.92 L564.52 102.62 L562.92 102.62 L562.92 102 L562 102 L560.6 102 L560.6 101.48 L558.79 101.48 L558.79 100.87 L557.13 100.87 L557.13 100.25 L555.33 100.25 L555.33 100 L554 100 L552.5 100 L552.5 98 L551 98 L549.5 98 L549.5 94 L548 94 L546.61 94 L546.61 93.11 L544.71 93.11 L544.71 91 L544 91 L543.27 91 L543.27 90.42 L540.71 90.42 L540.71 89 L539 89 L538.32 89 L538.32 87.67 L536.32 87.67 L536.32 86 L535 86 L533.5 86 L533.5 83 L532 83 L530.57 83 L530.57 81.97 L529.24 81.97 L529.24 81 L528 81 L527.19 81 L527.19 79.64 L524.54 79.64 L524.54 78 L524 78 L522.5 78 L522.5 74 L521 74 L519.5 74 L519.5 69 L518 69 L516.84 69 L516.84 66.86 L515.43 66.86 L515.43 65 L514 65 L512.64 65 L512.64 63.64 L511.41 63.64 L511.41 61 L510 61 L508.71 61 L508.71 59.6 L506.81 59.6 L506.81 58 L506 58 L504.94 58 L504.94 57.06 L503.36 57.06 L503.36 56 L502 56 L500.97 56 L500.97 54.02 L499.48 54.02 L499.48 52 L498 52 L497.13 52 L497.13 50.11 L495.41 50.11 L495.41 48 L494 48 L493.38 48 L493.38 45.68 L490.83 45.68 L490.83 43 L490 43 L488.5 43 L488.5 38 L487 38 L485.5 38 L485.5 33 L484 33 L482.45 33 L482.45 27.3 L480.9 27.3 Z" fill="#c4a9b1" clip-path="url(#cC)"/>
<path d="M480.9 97.85 H583.5 V168.4" fill="none" stroke="#6a6a6a" stroke-width="0.7" stroke-dasharray="0.9 0.9"/>
<path d="M480.9 27.3 L482.55 27.3 L482.55 27.9 L484.32 27.9 L484.32 28.5 L486 28.5 L487.33 28.5 L487.33 29.58 L488.76 29.58 L488.76 30.5 L490 30.5 L490.71 30.5 L490.71 31.15 L493.2 31.15 L493.2 31.5 L494 31.5 L495 31.5 L495 33 L496 33 L497.14 33 L497.14 33.93 L498.58 33.93 L498.58 34.5 L500 34.5 L501.5 34.5 L501.5 37 L503 37 L503.75 37 L503.75 40.5 L504.5 40.5 L505.63 40.5 L505.63 41.28 L507.24 41.28 L507.24 42 L508 42 L509.12 42 L509.12 42.49 L512.24 42.49 L512.24 43 L513 43 L513.66 43 L513.66 43.59 L516.38 43.59 L516.38 45 L518 45 L519.25 45 L519.25 45.88 L521.6 45.88 L521.6 47.5 L523 47.5 L524.2 47.5 L524.2 48.81 L526.79 48.81 L526.79 49.5 L528 49.5 L529.15 49.5 L529.15 50.75 L530.85 50.75 L530.85 52 L532 52 L533.34 52 L533.34 53.12 L535.16 53.12 L535.16 54 L536 54 L540 54 L540 54.5 L541.5 54.5 L541.5 57.5 L543 57.5 L544.17 57.5 L544.17 58.15 L547.09 58.15 L547.09 58.5 L548 58.5 L549 58.5 L549 61 L550 61 L551 61 L551 64 L552 64 L553.5 64 L553.5 65 L555 65 L561.5 65 L562.25 65 L562.25 67.5 L563 67.5 L564 67.5 L564 73 L565 73 L570 73 L570 73.5 L571 73.5 L571 75 L572 75 L575 75 L575 75.5 L576 75.5 L576 78 L577 78 L578 78 L578 81 L579 81 L580 81 L580 83 L581 83 L582 83 L582 85 L583 85 L584.25 85 L584.25 87.5 L585.5 87.5 L632 87.5 L632.4 87.5 L632.4 95.4 L674 95.4" fill="none" stroke="#e2392c" stroke-width="1.0"/>
<path d="M480.9 27.3 L482.45 27.3 L482.45 31 L484 31 L485 31 L485 34.5 L486 34.5 L487.5 34.5 L487.5 38 L489 38 L490.5 38 L490.5 42 L492 42 L493 42 L493 43 L494 43 L495 43 L495 47 L496 47 L496.96 47 L496.96 48.27 L499.39 48.27 L499.39 49 L500 49 L500.8 49 L500.8 50.29 L503.2 50.29 L503.2 51.5 L504 51.5 L504.66 51.5 L504.66 53.52 L506.75 53.52 L506.75 54.5 L508 54.5 L508.66 54.5 L508.66 56.06 L510.83 56.06 L510.83 58 L512 58 L513.23 58 L513.23 59.11 L514.6 59.11 L514.6 61.5 L516 61.5 L516.88 61.5 L516.88 63.98 L519.48 63.98 L519.48 65 L520 65 L520.93 65 L520.93 66.54 L522.7 66.54 L522.7 68 L524 68 L525 68 L525 70 L526 70 L527 70 L527 73 L528 73 L528.71 73 L528.71 73.98 L530.89 73.98 L530.89 74.5 L532 74.5 L533.5 74.5 L533.5 76 L535 76 L536 76 L536 77 L537 77 L538.5 77 L538.5 80 L540 80 L541.39 80 L541.39 80.29 L543.5 80.29 L543.5 80.79 L545.99 80.79 L545.99 81.5 L547 81.5 L548 81.5 L548 86 L549 86 L550 86 L550 89 L551 89 L552.5 89 L552.5 91 L554 91 L561 91 L561 91.5 L562 91.5 L562 93 L563 93 L569 93 L569.5 93 L569.5 95.5 L570 95.5 L570.9 95.5 L570.9 95.86 L573.24 95.86 L573.24 96.09 L575.41 96.09 L575.41 96.5 L576 96.5 L576.5 96.5 L576.5 97.5 L577 97.5 L583 97.5 L583.5 97.5 L583.5 99.5 L584 99.5 L589.7 99.5 L589.7 99.6 L590.35 99.6 L590.35 104.2 L591 104.2 L597.6 104.2 L597.6 104.4 L598.1 104.4 L598.1 106.5 L598.6 106.5 L633.7 106.5 L634.15 106.5 L634.15 115.3 L634.6 115.3 L650.8 115.3" fill="none" stroke="#2a7ab8" stroke-width="1.0"/>
<path d="M537.66 53.2 v1.6 M557.3 64.2 v1.6 M566.26 72.2 v1.6 M574.56 74.2 v1.6 M587.7 86.7 v1.6 M593.96 86.7 v1.6 M599.36 86.7 v1.6 M604.57 86.7 v1.6 M608.84 86.7 v1.6 M612.4 86.7 v1.6 M617.54 86.7 v1.6 M620.03 86.7 v1.6 M624.13 86.7 v1.6 M630.04 86.7 v1.6 M634.46 94.6 v1.6 M637.71 94.6 v1.6 M641.83 94.6 v1.6 M646.1 94.6 v1.6 M651.21 94.6 v1.6 M655.26 94.6 v1.6 M660.63 94.6 v1.6 M667.29 94.6 v1.6 M670.2 94.6 v1.6" stroke="#e2392c" stroke-width="0.5" fill="none"/>
<path d="M556.36 90.2 v1.6 M560.3 90.2 v1.6 M565.75 92.2 v1.6 M567.94 92.2 v1.6 M578.12 96.7 v1.6 M586.68 98.7 v1.6 M592 103.4 v1.6 M596.87 103.4 v1.6 M600.83 105.7 v1.6 M605.4 105.7 v1.6 M610.59 105.7 v1.6 M616.74 105.7 v1.6 M621.35 105.7 v1.6 M625.4 105.7 v1.6 M632.14 105.7 v1.6 M636.77 114.5 v1.6 M640.73 114.5 v1.6 M646.54 114.5 v1.6 M649.16 114.5 v1.6" stroke="#2a7ab8" stroke-width="0.5" fill="none"/>
<path d="M470.3 20.1 V175.2 H685" fill="none" stroke="#7a7a7a" stroke-width="0.9"/>
<text x="462.5" y="169.85" font-size="3.5" fill="#333" stroke="#333" stroke-width="0.04" textLength="6.2" lengthAdjust="spacingAndGlyphs">0.00</text>
<text x="462.5" y="134.57" font-size="3.5" fill="#333" stroke="#333" stroke-width="0.04" textLength="6.2" lengthAdjust="spacingAndGlyphs">0.25</text>
<text x="462.5" y="99.3" font-size="3.5" fill="#333" stroke="#333" stroke-width="0.04" textLength="6.2" lengthAdjust="spacingAndGlyphs">0.50</text>
<text x="462.5" y="64.03" font-size="3.5" fill="#333" stroke="#333" stroke-width="0.04" textLength="6.2" lengthAdjust="spacingAndGlyphs">0.75</text>
<text x="462.5" y="28.75" font-size="3.5" fill="#333" stroke="#333" stroke-width="0.04" textLength="6.2" lengthAdjust="spacingAndGlyphs">1.00</text>
<text x="480.9" y="179.1" font-size="3.1" text-anchor="middle" fill="#333" stroke="#333" stroke-width="0.05">0</text>
<text x="519.74" y="179.1" font-size="3.1" text-anchor="middle" fill="#333" stroke="#333" stroke-width="0.05">2.5</text>
<text x="558.58" y="179.1" font-size="3.1" text-anchor="middle" fill="#333" stroke="#333" stroke-width="0.05">5</text>
<text x="597.42" y="179.1" font-size="3.1" text-anchor="middle" fill="#333" stroke="#333" stroke-width="0.05">7.5</text>
<text x="636.26" y="179.1" font-size="3.1" text-anchor="middle" fill="#333" stroke="#333" stroke-width="0.05">10</text>
<text x="675.1" y="179.1" font-size="3.1" text-anchor="middle" fill="#333" stroke="#333" stroke-width="0.05">12.5</text>
<path d="M469.1 168.4 H470.3 M469.1 133.12 H470.3 M469.1 97.85 H470.3 M469.1 62.58 H470.3 M469.1 27.3 H470.3 M480.9 175.2 V176.4 M519.74 175.2 V176.4 M558.58 175.2 V176.4 M597.42 175.2 V176.4 M636.26 175.2 V176.4 M675.1 175.2 V176.4" stroke="#7a7a7a" stroke-width="0.6"/>
<text x="578" y="182.8" font-size="3.4" text-anchor="middle" fill="#222" stroke="#222" stroke-width="0.05">Time(years)</text>
<text transform="translate(460 97.85) rotate(-90)" x="0" y="1.2" font-size="3.4" text-anchor="middle" fill="#222" stroke="#222" stroke-width="0.06">Survival probability</text>
<text x="483.9" y="141.6" font-size="3.7" fill="#222" textLength="20.2" lengthAdjust="spacingAndGlyphs">p = 0.00023</text>
<text x="529.9" y="14.8" font-size="2.9" fill="#111" stroke="#111" stroke-width="0.08" textLength="14.6" lengthAdjust="spacingAndGlyphs">AC008686.1</text>
<rect x="546" y="11.9" width="4.1" height="4.3" fill="#f2c5aa"/>
<path d="M546 13.8 h4.1" stroke="#e2392c" stroke-width="0.9"/>
<text x="551.3" y="14.8" font-size="2.9" fill="#111" stroke="#111" stroke-width="0.08" textLength="34.2" lengthAdjust="spacingAndGlyphs">AC008686.1 high expression</text>
<rect x="587.2" y="11.9" width="4.1" height="4.3" fill="#c7d0ea"/>
<path d="M587.2 13.8 h4.1" stroke="#2a7ab8" stroke-width="0.9"/>
<text x="592.7" y="14.8" font-size="2.9" fill="#111" stroke="#111" stroke-width="0.08" textLength="33" lengthAdjust="spacingAndGlyphs">AC008686.1 low expression</text>
<text x="456.5" y="9.9" font-size="13.7" fill="#231f20" stroke="#231f20" stroke-width="0.7">C</text>
<clipPath id="cD"><path d="M21.5 210.4 L22.56 210.4 L22.56 211.98 L25.49 211.98 L25.49 213 L27 213 L27.92 213 L27.92 214.08 L30.2 214.08 L30.2 216 L31 216 L31.72 216 L31.72 217.58 L34.24 217.58 L34.24 219 L35 219 L36.5 219 L36.5 221.5 L38 221.5 L38.72 221.5 L38.72 222.67 L41.3 222.67 L41.3 223.5 L42 223.5 L42.79 223.5 L42.79 225.17 L46.1 225.17 L46.1 226.5 L47 226.5 L48.21 226.5 L48.21 227.84 L50.83 227.84 L50.83 229 L52 229 L53.07 229 L53.07 229.99 L55.92 229.99 L55.92 232 L57 232 L57.97 232 L57.97 233 L59.79 233 L59.79 234 L61 234 L62.33 234 L62.33 235.25 L63.85 235.25 L63.85 236 L65 236 L66.1 236 L66.1 237.28 L68.44 237.28 L68.44 238 L70 238 L70.5 238 L70.5 239.15 L73.22 239.15 L73.22 240 L74 240 L74.8 240 L74.8 242.3 L76.98 242.3 L76.98 244.5 L78 244.5 L78.86 244.5 L78.86 245.22 L81.43 245.22 L81.43 246.1 L83.35 246.1 L83.35 247 L84 247 L85.41 247 L85.41 247.44 L87.28 247.44 L87.28 248.5 L88 248.5 L89 248.5 L89 256 L90 256 L91.13 256 L91.13 256.97 L92.51 256.97 L92.51 259 L94 259 L94.64 259 L94.64 259.34 L96.73 259.34 L96.73 260.32 L99.28 260.32 L99.28 261.09 L100.85 261.09 L100.85 261.6 L102.65 261.6 L102.65 262 L104 262 L105 262 L105 264 L106 264 L106.67 264 L106.67 264.52 L109.39 264.52 L109.39 265 L110 265 L111.39 265 L111.39 265.47 L113.29 265.47 L113.29 266.01 L115.34 266.01 L115.34 266.5 L116 266.5 L117.03 266.5 L117.03 267.79 L119.24 267.79 L119.24 270 L120 270 L121.32 270 L121.32 271.01 L123.46 271.01 L123.46 272.5 L125 272.5 L125.97 272.5 L125.97 273.38 L127.64 273.38 L127.64 274.14 L129.99 274.14 L129.99 275.33 L132 275.33 L132 276 L133 276 L175 276 L175.5 276 L175.5 280 L177.08 280 L177.08 280.14 L178.89 280.14 L178.89 280.32 L181.3 280.32 L181.3 280.39 L184.29 280.39 L184.29 280.57 L185.61 280.57 L185.61 280.7 L188.63 280.7 L188.63 280.84 L190.98 280.84 L190.98 281 L192 281 L192 320 L176 320 L175 320 L175 311 L174 311 L173.5 311 L173.5 302.5 L173 302.5 L127 302.5 L126 302.5 L126 300 L125 300 L124 300 L124 297.5 L123 297.5 L121.5 297.5 L121.5 295 L120 295 L118.5 295 L118.5 293 L117 293 L115.5 293 L115.5 291 L114 291 L113 291 L113 288.5 L112 288.5 L110.76 288.5 L110.76 287.27 L109.06 287.27 L109.06 286 L108 286 L106.87 286 L106.87 285.21 L105.16 285.21 L105.16 284.5 L104 284.5 L103.5 284.5 L103.5 282.5 L103 282.5 L101.29 282.5 L101.29 281.94 L99.13 281.94 L99.13 281.52 L96.7 281.52 L96.7 281 L96 281 L94.71 281 L94.71 280.52 L93.18 280.52 L93.18 280 L92 280 L91 280 L91 276 L90 276 L89.5 276 L89.5 271 L89 271 L87.91 271 L87.91 270.12 L85.4 270.12 L85.4 269 L84 269 L83.29 269 L83.29 266.83 L81.16 266.83 L81.16 265.77 L79.11 265.77 L79.11 265 L78 265 L76.5 265 L76.5 260 L75 260 L73.5 260 L73.5 258 L72 258 L70.8 258 L70.8 256.71 L68.55 256.71 L68.55 255 L68 255 L67.22 255 L67.22 253.41 L64.54 253.41 L64.54 252 L64 252 L63.09 252 L63.09 250.51 L60.8 250.51 L60.8 249 L60 249 L59.29 249 L59.29 246.62 L57.15 246.62 L57.15 245 L56 245 L54.77 245 L54.77 243.79 L53 243.79 L53 242 L52 242 L50.79 242 L50.79 240.67 L49.33 240.67 L49.33 239.5 L48 239.5 L46.94 239.5 L46.94 237.56 L44.71 237.56 L44.71 236 L44 236 L42.97 236 L42.97 233.83 L40.87 233.83 L40.87 232.5 L40 232.5 L39.13 232.5 L39.13 231.81 L37.22 231.81 L37.22 230 L36 230 L34.5 230 L34.5 225 L33 225 L31.5 225 L31.5 221 L30 221 L28.98 221 L28.98 217.8 L27.01 217.8 L27.01 216 L26 216 L25.36 216 L25.36 212.21 L22.83 212.21 L22.83 210.4 L21.5 210.4 Z"/></clipPath>
<path d="M21.5 210.4 L22.56 210.4 L22.56 211.98 L25.49 211.98 L25.49 213 L27 213 L27.92 213 L27.92 214.08 L30.2 214.08 L30.2 216 L31 216 L31.72 216 L31.72 217.58 L34.24 217.58 L34.24 219 L35 219 L36.5 219 L36.5 221.5 L38 221.5 L38.72 221.5 L38.72 222.67 L41.3 222.67 L41.3 223.5 L42 223.5 L42.79 223.5 L42.79 225.17 L46.1 225.17 L46.1 226.5 L47 226.5 L48.21 226.5 L48.21 227.84 L50.83 227.84 L50.83 229 L52 229 L53.07 229 L53.07 229.99 L55.92 229.99 L55.92 232 L57 232 L57.97 232 L57.97 233 L59.79 233 L59.79 234 L61 234 L62.33 234 L62.33 235.25 L63.85 235.25 L63.85 236 L65 236 L66.1 236 L66.1 237.28 L68.44 237.28 L68.44 238 L70 238 L70.5 238 L70.5 239.15 L73.22 239.15 L73.22 240 L74 240 L74.8 240 L74.8 242.3 L76.98 242.3 L76.98 244.5 L78 244.5 L78.86 244.5 L78.86 245.22 L81.43 245.22 L81.43 246.1 L83.35 246.1 L83.35 247 L84 247 L85.41 247 L85.41 247.44 L87.28 247.44 L87.28 248.5 L88 248.5 L89 248.5 L89 256 L90 256 L91.13 256 L91.13 256.97 L92.51 256.97 L92.51 259 L94 259 L94.64 259 L94.64 259.34 L96.73 259.34 L96.73 260.32 L99.28 260.32 L99.28 261.09 L100.85 261.09 L100.85 261.6 L102.65 261.6 L102.65 262 L104 262 L105 262 L105 264 L106 264 L106.67 264 L106.67 264.52 L109.39 264.52 L109.39 265 L110 265 L111.39 265 L111.39 265.47 L113.29 265.47 L113.29 266.01 L115.34 266.01 L115.34 266.5 L116 266.5 L117.03 266.5 L117.03 267.79 L119.24 267.79 L119.24 270 L120 270 L121.32 270 L121.32 271.01 L123.46 271.01 L123.46 272.5 L125 272.5 L125.97 272.5 L125.97 273.38 L127.64 273.38 L127.64 274.14 L129.99 274.14 L129.99 275.33 L132 275.33 L132 276 L133 276 L175 276 L175.5 276 L175.5 280 L177.08 280 L177.08 280.14 L178.89 280.14 L178.89 280.32 L181.3 280.32 L181.3 280.39 L184.29 280.39 L184.29 280.57 L185.61 280.57 L185.61 280.7 L188.63 280.7 L188.63 280.84 L190.98 280.84 L190.98 281 L192 281 L192 320 L176 320 L175 320 L175 311 L174 311 L173.5 311 L173.5 302.5 L173 302.5 L127 302.5 L126 302.5 L126 300 L125 300 L124 300 L124 297.5 L123 297.5 L121.5 297.5 L121.5 295 L120 295 L118.5 295 L118.5 293 L117 293 L115.5 293 L115.5 291 L114 291 L113 291 L113 288.5 L112 288.5 L110.76 288.5 L110.76 287.27 L109.06 287.27 L109.06 286 L108 286 L106.87 286 L106.87 285.21 L105.16 285.21 L105.16 284.5 L104 284.5 L103.5 284.5 L103.5 282.5 L103 282.5 L101.29 282.5 L101.29 281.94 L99.13 281.94 L99.13 281.52 L96.7 281.52 L96.7 281 L96 281 L94.71 281 L94.71 280.52 L93.18 280.52 L93.18 280 L92 280 L91 280 L91 276 L90 276 L89.5 276 L89.5 271 L89 271 L87.91 271 L87.91 270.12 L85.4 270.12 L85.4 269 L84 269 L83.29 269 L83.29 266.83 L81.16 266.83 L81.16 265.77 L79.11 265.77 L79.11 265 L78 265 L76.5 265 L76.5 260 L75 260 L73.5 260 L73.5 258 L72 258 L70.8 258 L70.8 256.71 L68.55 256.71 L68.55 255 L68 255 L67.22 255 L67.22 253.41 L64.54 253.41 L64.54 252 L64 252 L63.09 252 L63.09 250.51 L60.8 250.51 L60.8 249 L60 249 L59.29 249 L59.29 246.62 L57.15 246.62 L57.15 245 L56 245 L54.77 245 L54.77 243.79 L53 243.79 L53 242 L52 242 L50.79 242 L50.79 240.67 L49.33 240.67 L49.33 239.5 L48 239.5 L46.94 239.5 L46.94 237.56 L44.71 237.56 L44.71 236 L44 236 L42.97 236 L42.97 233.83 L40.87 233.83 L40.87 232.5 L40 232.5 L39.13 232.5 L39.13 231.81 L37.22 231.81 L37.22 230 L36 230 L34.5 230 L34.5 225 L33 225 L31.5 225 L31.5 221 L30 221 L28.98 221 L28.98 217.8 L27.01 217.8 L27.01 216 L26 216 L25.36 216 L25.36 212.21 L22.83 212.21 L22.83 210.4 L21.5 210.4 Z" fill="#f2c5aa"/>
<path d="M21.5 210.4 L22.51 210.4 L22.51 211.06 L24.9 211.06 L24.9 211.82 L27.39 211.82 L27.39 212.5 L28 212.5 L28.67 212.5 L28.67 213.18 L31.27 213.18 L31.27 214.5 L33 214.5 L34.77 214.5 L34.77 215.32 L36.68 215.32 L36.68 216 L38 216 L39.36 216 L39.36 216.73 L42.3 216.73 L42.3 218 L43 218 L43.91 218 L43.91 219.81 L45.6 219.81 L45.6 221 L47 221 L47.81 221 L47.81 222.23 L50.14 222.23 L50.14 223 L52 223 L52.78 223 L52.78 223.6 L56.33 223.6 L56.33 225 L57 225 L57.79 225 L57.79 225.6 L60.15 225.6 L60.15 227 L62 227 L63.54 227 L63.54 228.24 L65.36 228.24 L65.36 229 L67 229 L68.52 229 L68.52 229.6 L71.19 229.6 L71.19 231 L72 231 L73.41 231 L73.41 232.69 L76.01 232.69 L76.01 233.5 L77 233.5 L77.94 233.5 L77.94 234.5 L81.33 234.5 L81.33 236 L82 236 L83.32 236 L83.32 236.54 L84.58 236.54 L84.58 236.76 L86.81 236.76 L86.81 236.99 L89.23 236.99 L89.23 237.5 L90 237.5 L91.23 237.5 L91.23 238.65 L93.2 238.65 L93.2 241 L95 241 L96.37 241 L96.37 241.3 L98.09 241.3 L98.09 241.67 L101.18 241.67 L101.18 242 L102 242 L103.13 242 L103.13 243.29 L104.92 243.29 L104.92 245 L106 245 L107.44 245 L107.44 245.82 L109.28 245.82 L109.28 247 L110 247 L111.2 247 L111.2 247.82 L113.33 247.82 L113.33 248.43 L114.83 248.43 L114.83 248.86 L117.11 248.86 L117.11 250 L118 250 L119.1 250 L119.1 251.05 L120.81 251.05 L120.81 252 L122 252 L123.1 252 L123.1 252.32 L125.4 252.32 L125.4 252.79 L127.31 252.79 L127.31 253.09 L128.78 253.09 L128.78 253.5 L130 253.5 L131.5 253.5 L131.5 255.5 L133 255.5 L134.27 255.5 L134.27 255.84 L136.87 255.84 L136.87 256.37 L139.29 256.37 L139.29 257 L140 257 L216 257 L216 282.5 L140 282.5 L138.66 282.5 L138.66 281.91 L136.22 281.91 L136.22 280.7 L133.63 280.7 L133.63 279.5 L133 279.5 L131.5 279.5 L131.5 275 L130 275 L128.32 275 L128.32 273.7 L126.19 273.7 L126.19 272 L125 272 L124.37 272 L124.37 271.47 L121.66 271.47 L121.66 270.44 L119.24 270.44 L119.24 270 L118 270 L117 270 L117 267 L116 267 L114.9 267 L114.9 266.4 L113.1 266.4 L113.1 266 L110.56 266 L110.56 265.44 L109.41 265.44 L109.41 265 L108 265 L106.19 265 L106.19 263.52 L103.73 263.52 L103.73 262 L103 262 L101.54 262 L101.54 260.94 L99.75 260.94 L99.75 260.27 L98.46 260.27 L98.46 259.33 L96.32 259.33 L96.32 258.78 L94.27 258.78 L94.27 258 L93 258 L91.99 258 L91.99 254.69 L90.37 254.69 L90.37 253.5 L89 253.5 L87.15 253.5 L87.15 252.85 L85.27 252.85 L85.27 252 L84 252 L82.66 252 L82.66 250.37 L81.29 250.37 L81.29 249.5 L80 249.5 L78.59 249.5 L78.59 248.36 L76.87 248.36 L76.87 247 L75 247 L73.77 247 L73.77 245.9 L71.13 245.9 L71.13 245 L70 245 L69 245 L69 243 L65.85 243 L65.85 241 L65 241 L63.86 241 L63.86 239.73 L61.22 239.73 L61.22 238 L60 238 L59.25 238 L59.25 236.54 L56.35 236.54 L56.35 234 L55 234 L54.13 234 L54.13 232.93 L50.73 232.93 L50.73 231.5 L50 231.5 L49.06 231.5 L49.06 230.23 L45.94 230.23 L45.94 228.5 L45 228.5 L43.97 228.5 L43.97 227.31 L41.38 227.31 L41.38 225 L40 225 L39.06 225 L39.06 222.79 L35.88 222.79 L35.88 221 L35 221 L33.23 221 L33.23 219.37 L31.06 219.37 L31.06 218 L30 218 L29.31 218 L29.31 216.53 L27.35 216.53 L27.35 214.5 L26 214.5 L25.29 214.5 L25.29 211.59 L22.98 211.59 L22.98 210.4 L21.5 210.4 Z" fill="#c7d0ea"/>
<path d="M21.5 210.4 L22.51 210.4 L22.51 211.06 L24.9 211.06 L24.9 211.82 L27.39 211.82 L27.39 212.5 L28 212.5 L28.67 212.5 L28.67 213.18 L31.27 213.18 L31.27 214.5 L33 214.5 L34.77 214.5 L34.77 215.32 L36.68 215.32 L36.68 216 L38 216 L39.36 216 L39.36 216.73 L42.3 216.73 L42.3 218 L43 218 L43.91 218 L43.91 219.81 L45.6 219.81 L45.6 221 L47 221 L47.81 221 L47.81 222.23 L50.14 222.23 L50.14 223 L52 223 L52.78 223 L52.78 223.6 L56.33 223.6 L56.33 225 L57 225 L57.79 225 L57.79 225.6 L60.15 225.6 L60.15 227 L62 227 L63.54 227 L63.54 228.24 L65.36 228.24 L65.36 229 L67 229 L68.52 229 L68.52 229.6 L71.19 229.6 L71.19 231 L72 231 L73.41 231 L73.41 232.69 L76.01 232.69 L76.01 233.5 L77 233.5 L77.94 233.5 L77.94 234.5 L81.33 234.5 L81.33 236 L82 236 L83.32 236 L83.32 236.54 L84.58 236.54 L84.58 236.76 L86.81 236.76 L86.81 236.99 L89.23 236.99 L89.23 237.5 L90 237.5 L91.23 237.5 L91.23 238.65 L93.2 238.65 L93.2 241 L95 241 L96.37 241 L96.37 241.3 L98.09 241.3 L98.09 241.67 L101.18 241.67 L101.18 242 L102 242 L103.13 242 L103.13 243.29 L104.92 243.29 L104.92 245 L106 245 L107.44 245 L107.44 245.82 L109.28 245.82 L109.28 247 L110 247 L111.2 247 L111.2 247.82 L113.33 247.82 L113.33 248.43 L114.83 248.43 L114.83 248.86 L117.11 248.86 L117.11 250 L118 250 L119.1 250 L119.1 251.05 L120.81 251.05 L120.81 252 L122 252 L123.1 252 L123.1 252.32 L125.4 252.32 L125.4 252.79 L127.31 252.79 L127.31 253.09 L128.78 253.09 L128.78 253.5 L130 253.5 L131.5 253.5 L131.5 255.5 L133 255.5 L134.27 255.5 L134.27 255.84 L136.87 255.84 L136.87 256.37 L139.29 256.37 L139.29 257 L140 257 L216 257 L216 282.5 L140 282.5 L138.66 282.5 L138.66 281.91 L136.22 281.91 L136.22 280.7 L133.63 280.7 L133.63 279.5 L133 279.5 L131.5 279.5 L131.5 275 L130 275 L128.32 275 L128.32 273.7 L126.19 273.7 L126.19 272 L125 272 L124.37 272 L124.37 271.47 L121.66 271.47 L121.66 270.44 L119.24 270.44 L119.24 270 L118 270 L117 270 L117 267 L116 267 L114.9 267 L114.9 266.4 L113.1 266.4 L113.1 266 L110.56 266 L110.56 265.44 L109.41 265.44 L109.41 265 L108 265 L106.19 265 L106.19 263.52 L103.73 263.52 L103.73 262 L103 262 L101.54 262 L101.54 260.94 L99.75 260.94 L99.75 260.27 L98.46 260.27 L98.46 259.33 L96.32 259.33 L96.32 258.78 L94.27 258.78 L94.27 258 L93 258 L91.99 258 L91.99 254.69 L90.37 254.69 L90.37 253.5 L89 253.5 L87.15 253.5 L87.15 252.85 L85.27 252.85 L85.27 252 L84 252 L82.66 252 L82.66 250.37 L81.29 250.37 L81.29 249.5 L80 249.5 L78.59 249.5 L78.59 248.36 L76.87 248.36 L76.87 247 L75 247 L73.77 247 L73.77 245.9 L71.13 245.9 L71.13 245 L70 245 L69 245 L69 243 L65.85 243 L65.85 241 L65 241 L63.86 241 L63.86 239.73 L61.22 239.73 L61.22 238 L60 238 L59.25 238 L59.25 236.54 L56.35 236.54 L56.35 234 L55 234 L54.13 234 L54.13 232.93 L50.73 232.93 L50.73 231.5 L50 231.5 L49.06 231.5 L49.06 230.23 L45.94 230.23 L45.94 228.5 L45 228.5 L43.97 228.5 L43.97 227.31 L41.38 227.31 L41.38 225 L40 225 L39.06 225 L39.06 222.79 L35.88 222.79 L35.88 221 L35 221 L33.23 221 L33.23 219.37 L31.06 219.37 L31.06 218 L30 218 L29.31 218 L29.31 216.53 L27.35 216.53 L27.35 214.5 L26 214.5 L25.29 214.5 L25.29 211.59 L22.98 211.59 L22.98 210.4 L21.5 210.4 Z" fill="#c4a9b1" clip-path="url(#cD)"/>
<path d="M21.5 280.95 H116.4 V351.5" fill="none" stroke="#6a6a6a" stroke-width="0.7" stroke-dasharray="0.9 0.9"/>
<path d="M21.5 210.4 L22.67 210.4 L22.67 211.7 L23.73 211.7 L23.73 213 L25 213 L26.5 213 L26.5 215.5 L28 215.5 L29.5 215.5 L29.5 218.5 L31 218.5 L32.15 218.5 L32.15 220.05 L34.49 220.05 L34.49 221.5 L35 221.5 L36 221.5 L36 225 L37 225 L38.5 225 L38.5 227 L40 227 L41.5 227 L41.5 229 L43 229 L44.5 229 L44.5 232 L46 232 L47.5 232 L47.5 234 L49 234 L50.25 234 L50.25 234.93 L52.44 234.93 L52.44 236 L53 236 L54.5 236 L54.5 238 L56 238 L57 238 L57 241 L58 241 L59.5 241 L59.5 243 L61 243 L62.5 243 L62.5 245 L64 245 L65.09 245 L65.09 246.79 L67.26 246.79 L67.26 248 L68 248 L68.76 248 L68.76 249.27 L70.62 249.27 L70.62 251 L72 251 L72.74 251 L72.74 252.78 L74.64 252.78 L74.64 254 L76 254 L77 254 L77 256 L78 256 L79.5 256 L79.5 259 L81 259 L82.5 259 L82.5 260 L84 260 L85.22 260 L85.22 260.7 L86.7 260.7 L86.7 261 L88 261 L89 261 L89 265 L90 265 L91 265 L91 268.5 L92 268.5 L93 268.5 L93 271 L94 271 L102 271 L102 271.5 L102.75 271.5 L102.75 274 L103.5 274 L104.75 274 L104.75 275.5 L106 275.5 L106.9 275.5 L106.9 275.77 L110.29 275.77 L110.29 276.5 L111 276.5 L112 276.5 L112 278.5 L113 278.5 L114.5 278.5 L114.5 280.5 L116 280.5 L117 280.5 L117 283 L118 283 L119.5 283 L119.5 284 L121 284 L122 284 L122 286.5 L123 286.5 L124 286.5 L124 288.5 L125 288.5 L125.75 288.5 L125.75 290.5 L126.5 290.5 L173 290.5 L173.5 290.5 L173.5 297 L174 297 L175 297 L175 304 L176 304 L192 304" fill="none" stroke="#e2392c" stroke-width="1.0"/>
<path d="M21.5 210.4 L22.22 210.4 L22.22 211.69 L24.82 211.69 L24.82 213 L26 213 L27.5 213 L27.5 215.5 L29 215.5 L30.5 215.5 L30.5 217.5 L32 217.5 L33.34 217.5 L33.34 218.24 L35.13 218.24 L35.13 220 L36 220 L40 220 L40 220.5 L41.32 220.5 L41.32 221.56 L42.98 221.56 L42.98 222.5 L44 222.5 L45 222.5 L45 224.5 L46 224.5 L47 224.5 L47 227 L48 227 L48.72 227 L48.72 228.27 L50.56 228.27 L50.56 229 L52 229 L52.64 229 L52.64 230.07 L55.37 230.07 L55.37 231 L56 231 L56.66 231 L56.66 232.6 L58.77 232.6 L58.77 234.5 L60 234.5 L60.67 234.5 L60.67 235.42 L62.99 235.42 L62.99 236 L64 236 L64.61 236 L64.61 236.74 L67.48 236.74 L67.48 238 L68 238 L69.17 238 L69.17 238.43 L70.71 238.43 L70.71 239.5 L72 239.5 L72.76 239.5 L72.76 240.33 L74.7 240.33 L74.7 241 L76 241 L78 241 L78 241.5 L79 241.5 L79 244 L80 244 L81.5 244 L81.5 244.37 L83.43 244.37 L83.43 245 L84 245 L88 245 L88 245.5 L89.5 245.5 L89.5 248 L91 248 L92.4 248 L92.4 249.29 L93.56 249.29 L93.56 251 L95 251 L102 251 L102 251.5 L103.5 251.5 L103.5 253.5 L105 253.5 L106 253.5 L106 256.5 L107 256.5 L108.48 256.5 L108.48 257.71 L109.52 257.71 L109.52 258.5 L111 258.5 L116 258.5 L117 258.5 L117 260.5 L118 260.5 L118.64 260.5 L118.64 261.41 L120.5 261.41 L120.5 262 L122 262 L122.69 262 L122.69 262.85 L124.94 262.85 L124.94 263.5 L126 263.5 L131 263.5 L132 263.5 L132 267 L133 267 L139 267 L139 267.5 L139.5 267.5 L139.5 270.4 L140 270.4 L216 270.4" fill="none" stroke="#2a7ab8" stroke-width="1.0"/>
<path d="M96.62 270.2 v1.6 M99.72 270.2 v1.6 M127.58 289.7 v1.6 M130.48 289.7 v1.6 M136.33 289.7 v1.6 M141.89 289.7 v1.6 M144.87 289.7 v1.6 M147.27 289.7 v1.6 M149.7 289.7 v1.6 M154.75 289.7 v1.6 M159.22 289.7 v1.6 M162.59 289.7 v1.6 M165.62 289.7 v1.6 M170.69 289.7 v1.6 M178.42 303.2 v1.6 M183.34 303.2 v1.6 M186.35 303.2 v1.6 M188.68 303.2 v1.6" stroke="#e2392c" stroke-width="0.5" fill="none"/>
<path d="M37.62 219.2 v1.6 M84.91 244.2 v1.6 M96.47 250.2 v1.6 M113.53 257.7 v1.6 M126.83 262.7 v1.6 M134.75 266.2 v1.6 M141.33 269.6 v1.6 M144.26 269.6 v1.6 M150.42 269.6 v1.6 M154.26 269.6 v1.6 M157.07 269.6 v1.6 M160.93 269.6 v1.6 M165.9 269.6 v1.6 M167.93 269.6 v1.6 M172.53 269.6 v1.6 M176.76 269.6 v1.6 M181.33 269.6 v1.6 M183.94 269.6 v1.6 M189.51 269.6 v1.6 M195.59 269.6 v1.6 M201.92 269.6 v1.6 M205.53 269.6 v1.6 M211.08 269.6 v1.6 M214.99 269.6 v1.6" stroke="#2a7ab8" stroke-width="0.5" fill="none"/>
<path d="M12.2 203.3 V358.4 H225.6" fill="none" stroke="#7a7a7a" stroke-width="0.9"/>
<text x="4.4" y="352.95" font-size="3.5" fill="#333" stroke="#333" stroke-width="0.04" textLength="6.2" lengthAdjust="spacingAndGlyphs">0.00</text>
<text x="4.4" y="317.68" font-size="3.5" fill="#333" stroke="#333" stroke-width="0.04" textLength="6.2" lengthAdjust="spacingAndGlyphs">0.25</text>
<text x="4.4" y="282.4" font-size="3.5" fill="#333" stroke="#333" stroke-width="0.04" textLength="6.2" lengthAdjust="spacingAndGlyphs">0.50</text>
<text x="4.4" y="247.12" font-size="3.5" fill="#333" stroke="#333" stroke-width="0.04" textLength="6.2" lengthAdjust="spacingAndGlyphs">0.75</text>
<text x="4.4" y="211.85" font-size="3.5" fill="#333" stroke="#333" stroke-width="0.04" textLength="6.2" lengthAdjust="spacingAndGlyphs">1.00</text>
<text x="21.5" y="362.3" font-size="3.1" text-anchor="middle" fill="#333" stroke="#333" stroke-width="0.05">0</text>
<text x="60.52" y="362.3" font-size="3.1" text-anchor="middle" fill="#333" stroke="#333" stroke-width="0.05">2.5</text>
<text x="99.54" y="362.3" font-size="3.1" text-anchor="middle" fill="#333" stroke="#333" stroke-width="0.05">5</text>
<text x="138.56" y="362.3" font-size="3.1" text-anchor="middle" fill="#333" stroke="#333" stroke-width="0.05">7.5</text>
<text x="177.58" y="362.3" font-size="3.1" text-anchor="middle" fill="#333" stroke="#333" stroke-width="0.05">10</text>
<text x="216.6" y="362.3" font-size="3.1" text-anchor="middle" fill="#333" stroke="#333" stroke-width="0.05">12.5</text>
<path d="M11 351.5 H12.2 M11 316.23 H12.2 M11 280.95 H12.2 M11 245.68 H12.2 M11 210.4 H12.2 M21.5 358.4 V359.6 M60.52 358.4 V359.6 M99.54 358.4 V359.6 M138.56 358.4 V359.6 M177.58 358.4 V359.6 M216.6 358.4 V359.6" stroke="#7a7a7a" stroke-width="0.6"/>
<text x="119.05" y="366" font-size="3.4" text-anchor="middle" fill="#222" stroke="#222" stroke-width="0.05">Time(years)</text>
<text transform="translate(1.9 280.95) rotate(-90)" x="0" y="1.2" font-size="3.4" text-anchor="middle" fill="#222" stroke="#222" stroke-width="0.06">Survival probability</text>
<text x="25.7" y="324.9" font-size="3.7" fill="#222" textLength="17.5" lengthAdjust="spacingAndGlyphs">p = 0.0032</text>
<text x="73" y="198.1" font-size="2.9" fill="#111" stroke="#111" stroke-width="0.08" textLength="13.3" lengthAdjust="spacingAndGlyphs">LINC00861</text>
<rect x="88" y="195.2" width="4.1" height="4.3" fill="#f2c5aa"/>
<path d="M88 197.1 h4.1" stroke="#e2392c" stroke-width="0.9"/>
<text x="93.5" y="198.1" font-size="2.9" fill="#111" stroke="#111" stroke-width="0.08" textLength="32.7" lengthAdjust="spacingAndGlyphs">LINC00861 high expression</text>
<rect x="127.8" y="195.2" width="4.1" height="4.3" fill="#c7d0ea"/>
<path d="M127.8 197.1 h4.1" stroke="#2a7ab8" stroke-width="0.9"/>
<text x="133.4" y="198.1" font-size="2.9" fill="#111" stroke="#111" stroke-width="0.08" textLength="31.6" lengthAdjust="spacingAndGlyphs">LINC00861 low expression</text>
<text x="4.8" y="196.1" font-size="13.7" fill="#231f20" stroke="#231f20" stroke-width="0.7">D</text>
<clipPath id="cE"><path d="M250.6 207.8 L252.2 207.8 L252.2 208.44 L253.89 208.44 L253.89 210 L255 210 L255.57 210 L255.57 210.66 L258.81 210.66 L258.81 211.33 L260.2 211.33 L260.2 212 L261.6 212 L263.03 212 L263.03 212.44 L264.34 212.44 L264.34 212.82 L266.58 212.82 L266.58 213.3 L268.1 213.3 L269.75 213.3 L269.75 215.3 L271.4 215.3 L271.83 215.3 L271.83 216.5 L273.96 216.5 L273.96 217.2 L274.7 217.2 L275.9 217.2 L275.9 217.87 L277.3 217.87 L277.3 218.5 L278.7 218.5 L279.31 218.5 L279.31 219.37 L281.64 219.37 L281.64 220.15 L283.62 220.15 L283.62 220.5 L284.6 220.5 L285.29 220.5 L285.29 220.94 L287.95 220.94 L287.95 221.29 L290.41 221.29 L290.41 221.8 L291.1 221.8 L292.53 221.8 L292.53 222.29 L294.16 222.29 L294.16 223.1 L295.7 223.1 L296.66 223.1 L296.66 224.4 L298.84 224.4 L298.84 225.8 L300 225.8 L301.12 225.8 L301.12 226.76 L304.3 226.76 L304.3 227.5 L305 227.5 L307 227.5 L307 228 L307.84 228 L307.84 228.89 L309.94 228.89 L309.94 229.48 L312.48 229.48 L312.48 230 L313 230 L314.64 230 L314.64 230.96 L317.18 230.96 L317.18 232 L318 232 L319 232 L319 236 L320 236 L321.46 236 L321.46 237.41 L323.43 237.41 L323.43 240 L324 240 L325.16 240 L325.16 240.2 L326.89 240.2 L326.89 240.46 L329.55 240.46 L329.55 240.76 L331.88 240.76 L331.88 241 L333 241 L334.47 241 L334.47 241.9 L336.28 241.9 L336.28 243 L337 243 L338.64 243 L338.64 243.84 L341.23 243.84 L341.23 244.5 L342 244.5 L342.89 244.5 L342.89 245.18 L345.71 245.18 L345.71 245.44 L347.57 245.44 L347.57 246 L349 246 L350.12 246 L350.12 247.27 L351.75 247.27 L351.75 249 L353 249 L354.5 249 L354.5 251 L356 251 L356.67 251 L356.67 251.25 L359.35 251.25 L359.35 251.48 L361.91 251.48 L361.91 251.83 L363.6 251.83 L363.6 252.02 L365.5 252.02 L365.5 252.22 L367.88 252.22 L367.88 252.5 L369 252.5 L402 252.5 L402 253 L424.4 253 L424.4 297 L402.4 297 L402.4 280 L402 280 L369.5 280 L369.5 277.5 L369 277.5 L368 277.5 L368 277.18 L365.37 277.18 L365.37 276.87 L363.37 276.87 L363.37 276.68 L361.07 276.68 L361.07 276.46 L359.19 276.46 L359.19 276.21 L357.08 276.21 L357.08 276 L356 276 L355.5 276 L355.5 273 L355 273 L353.5 273 L353.5 270 L352 270 L350.49 270 L350.49 269 L348.53 269 L348.53 268 L347 268 L346 268 L346 266 L345 266 L343.88 266 L343.88 264.71 L342.11 264.71 L342.11 263.5 L341 263.5 L339.92 263.5 L339.92 263.05 L338.07 263.05 L338.07 262.57 L336.46 262.57 L336.46 262 L335 262 L333.5 262 L333.5 259.5 L332 259.5 L330.32 259.5 L330.32 258.86 L329.04 258.86 L329.04 258.18 L325.96 258.18 L325.96 257.67 L324.59 257.67 L324.59 257 L323 257 L322.34 257 L322.34 255.26 L320.58 255.26 L320.58 253 L319.5 253 L319.5 248 L319 248 L318.35 248 L318.35 247.27 L316.12 247.27 L316.12 246.56 L314.18 246.56 L314.18 246 L313 246 L312.24 246 L312.24 245.34 L310.46 245.34 L310.46 244.01 L307.73 244.01 L307.73 243 L307 243 L306 243 L306 241.5 L305 241.5 L303.61 241.5 L303.61 240.44 L300.7 240.44 L300.7 238.9 L300 238.9 L298.46 238.9 L298.46 237.67 L296.41 237.67 L296.41 236.9 L295.7 236.9 L295.2 236.9 L295.2 235.98 L292.57 235.98 L292.57 235 L291.8 235 L290.57 235 L290.57 234.19 L289.23 234.19 L289.23 233.7 L287.9 233.7 L286.55 233.7 L286.55 232.3 L285.2 232.3 L284.01 232.3 L284.01 230.78 L281.15 230.78 L281.15 229.7 L280 229.7 L278.33 229.7 L278.33 228.49 L275.77 228.49 L275.77 227.1 L274.7 227.1 L273.61 227.1 L273.61 225.2 L271.21 225.2 L271.21 224.1 L270.1 224.1 L269 224.1 L269 222.79 L266.29 222.79 L266.29 221.2 L264.9 221.2 L263.96 221.2 L263.96 219.74 L261.54 219.74 L261.54 218.07 L259.73 218.07 L259.73 216.6 L259 216.6 L257.5 216.6 L257.5 212 L256 212 L254.15 212 L254.15 210.38 L251.44 210.38 L251.44 207.8 L250.6 207.8 Z"/></clipPath>
<path d="M250.6 207.8 L252.2 207.8 L252.2 208.44 L253.89 208.44 L253.89 210 L255 210 L255.57 210 L255.57 210.66 L258.81 210.66 L258.81 211.33 L260.2 211.33 L260.2 212 L261.6 212 L263.03 212 L263.03 212.44 L264.34 212.44 L264.34 212.82 L266.58 212.82 L266.58 213.3 L268.1 213.3 L269.75 213.3 L269.75 215.3 L271.4 215.3 L271.83 215.3 L271.83 216.5 L273.96 216.5 L273.96 217.2 L274.7 217.2 L275.9 217.2 L275.9 217.87 L277.3 217.87 L277.3 218.5 L278.7 218.5 L279.31 218.5 L279.31 219.37 L281.64 219.37 L281.64 220.15 L283.62 220.15 L283.62 220.5 L284.6 220.5 L285.29 220.5 L285.29 220.94 L287.95 220.94 L287.95 221.29 L290.41 221.29 L290.41 221.8 L291.1 221.8 L292.53 221.8 L292.53 222.29 L294.16 222.29 L294.16 223.1 L295.7 223.1 L296.66 223.1 L296.66 224.4 L298.84 224.4 L298.84 225.8 L300 225.8 L301.12 225.8 L301.12 226.76 L304.3 226.76 L304.3 227.5 L305 227.5 L307 227.5 L307 228 L307.84 228 L307.84 228.89 L309.94 228.89 L309.94 229.48 L312.48 229.48 L312.48 230 L313 230 L314.64 230 L314.64 230.96 L317.18 230.96 L317.18 232 L318 232 L319 232 L319 236 L320 236 L321.46 236 L321.46 237.41 L323.43 237.41 L323.43 240 L324 240 L325.16 240 L325.16 240.2 L326.89 240.2 L326.89 240.46 L329.55 240.46 L329.55 240.76 L331.88 240.76 L331.88 241 L333 241 L334.47 241 L334.47 241.9 L336.28 241.9 L336.28 243 L337 243 L338.64 243 L338.64 243.84 L341.23 243.84 L341.23 244.5 L342 244.5 L342.89 244.5 L342.89 245.18 L345.71 245.18 L345.71 245.44 L347.57 245.44 L347.57 246 L349 246 L350.12 246 L350.12 247.27 L351.75 247.27 L351.75 249 L353 249 L354.5 249 L354.5 251 L356 251 L356.67 251 L356.67 251.25 L359.35 251.25 L359.35 251.48 L361.91 251.48 L361.91 251.83 L363.6 251.83 L363.6 252.02 L365.5 252.02 L365.5 252.22 L367.88 252.22 L367.88 252.5 L369 252.5 L402 252.5 L402 253 L424.4 253 L424.4 297 L402.4 297 L402.4 280 L402 280 L369.5 280 L369.5 277.5 L369 277.5 L368 277.5 L368 277.18 L365.37 277.18 L365.37 276.87 L363.37 276.87 L363.37 276.68 L361.07 276.68 L361.07 276.46 L359.19 276.46 L359.19 276.21 L357.08 276.21 L357.08 276 L356 276 L355.5 276 L355.5 273 L355 273 L353.5 273 L353.5 270 L352 270 L350.49 270 L350.49 269 L348.53 269 L348.53 268 L347 268 L346 268 L346 266 L345 266 L343.88 266 L343.88 264.71 L342.11 264.71 L342.11 263.5 L341 263.5 L339.92 263.5 L339.92 263.05 L338.07 263.05 L338.07 262.57 L336.46 262.57 L336.46 262 L335 262 L333.5 262 L333.5 259.5 L332 259.5 L330.32 259.5 L330.32 258.86 L329.04 258.86 L329.04 258.18 L325.96 258.18 L325.96 257.67 L324.59 257.67 L324.59 257 L323 257 L322.34 257 L322.34 255.26 L320.58 255.26 L320.58 253 L319.5 253 L319.5 248 L319 248 L318.35 248 L318.35 247.27 L316.12 247.27 L316.12 246.56 L314.18 246.56 L314.18 246 L313 246 L312.24 246 L312.24 245.34 L310.46 245.34 L310.46 244.01 L307.73 244.01 L307.73 243 L307 243 L306 243 L306 241.5 L305 241.5 L303.61 241.5 L303.61 240.44 L300.7 240.44 L300.7 238.9 L300 238.9 L298.46 238.9 L298.46 237.67 L296.41 237.67 L296.41 236.9 L295.7 236.9 L295.2 236.9 L295.2 235.98 L292.57 235.98 L292.57 235 L291.8 235 L290.57 235 L290.57 234.19 L289.23 234.19 L289.23 233.7 L287.9 233.7 L286.55 233.7 L286.55 232.3 L285.2 232.3 L284.01 232.3 L284.01 230.78 L281.15 230.78 L281.15 229.7 L280 229.7 L278.33 229.7 L278.33 228.49 L275.77 228.49 L275.77 227.1 L274.7 227.1 L273.61 227.1 L273.61 225.2 L271.21 225.2 L271.21 224.1 L270.1 224.1 L269 224.1 L269 222.79 L266.29 222.79 L266.29 221.2 L264.9 221.2 L263.96 221.2 L263.96 219.74 L261.54 219.74 L261.54 218.07 L259.73 218.07 L259.73 216.6 L259 216.6 L257.5 216.6 L257.5 212 L256 212 L254.15 212 L254.15 210.38 L251.44 210.38 L251.44 207.8 L250.6 207.8 Z" fill="#f2c5aa"/>
<path d="M250.6 207.8 L252.16 207.8 L252.16 210.07 L253.71 210.07 L253.71 211.3 L255 211.3 L256.46 211.3 L256.46 213.3 L257.7 213.3 L257.7 215.3 L259 215.3 L259.54 215.3 L259.54 216.34 L262.01 216.34 L262.01 217.93 L263.91 217.93 L263.91 218.5 L264.9 218.5 L266.25 218.5 L266.25 219.92 L269.45 219.92 L269.45 221.2 L270.1 221.2 L271.46 221.2 L271.46 222.5 L273.42 222.5 L273.42 223.8 L274.7 223.8 L275.83 223.8 L275.83 224.94 L279.27 224.94 L279.27 226.4 L280 226.4 L280.78 226.4 L280.78 228.16 L283.74 228.16 L283.74 229.7 L285.2 229.7 L286.22 229.7 L286.22 232.13 L288.41 232.13 L288.41 235 L289 235 L289.94 235 L289.94 236.79 L292.12 236.79 L292.12 238 L293 238 L294.03 238 L294.03 239.92 L296.32 239.92 L296.32 241 L297 241 L298.48 241 L298.48 242.35 L300.33 242.35 L300.33 244 L301 244 L302.39 244 L302.39 245.87 L304.19 245.87 L304.19 247 L305 247 L306 247 L306 249 L307 249 L307.92 249 L307.92 249.79 L309.66 249.79 L309.66 250.67 L311.79 250.67 L311.79 251.5 L313 251.5 L313.86 251.5 L313.86 252.25 L316.35 252.25 L316.35 253 L318 253 L318.85 253 L318.85 255.02 L321.49 255.02 L321.49 257 L322 257 L332 257 L332 257.5 L333.5 257.5 L333.5 260 L335 260 L336.29 260 L336.29 260.88 L337.81 260.88 L337.81 261.3 L340.19 261.3 L340.19 262 L341 262 L342.34 262 L342.34 262.77 L344.09 262.77 L344.09 264 L345 264 L346 264 L346 265.88 L348.05 265.88 L348.05 267 L349 267 L350 267 L350 269 L351 269 L352.29 269 L352.29 270.2 L355.37 270.2 L355.37 272 L356 272 L356.65 272 L356.65 272.31 L358.89 272.31 L358.89 272.58 L361.44 272.58 L361.44 272.76 L363.93 272.76 L363.93 272.95 L365.87 272.95 L365.87 273.32 L368.25 273.32 L368.25 273.5 L369 273.5 L402 273.5 L403.5 273.5 L403.5 275 L405 275 L444 275 L444 308 L405 308 L404.5 308 L404.5 297 L404 297 L362 297 L360.71 297 L360.71 296.02 L359.11 296.02 L359.11 294.77 L356.75 294.77 L356.75 294.08 L354.87 294.08 L354.87 293 L354 293 L352.63 293 L352.63 292.05 L350.95 292.05 L350.95 290.67 L348.73 290.67 L348.73 290 L348 290 L347.46 290 L347.46 289.07 L344.88 289.07 L344.88 287.22 L343.22 287.22 L343.22 285.33 L340.85 285.33 L340.85 284 L340 284 L338.63 284 L338.63 283.28 L337.34 283.28 L337.34 281.8 L334.77 281.8 L334.77 281 L334 281 L332.7 281 L332.7 280.74 L330.81 280.74 L330.81 280.52 L327.85 280.52 L327.85 280.28 L325.83 280.28 L325.83 280 L325 280 L323.5 280 L323.5 277 L322 277 L321.33 277 L321.33 275.46 L318.62 275.46 L318.62 273 L318 273 L316.61 273 L316.61 271.9 L314.29 271.9 L314.29 270 L313 270 L311.79 270 L311.79 268.49 L310.47 268.49 L310.47 267.31 L307.69 267.31 L307.69 266 L307 266 L306 266 L306 263 L305 263 L304.29 263 L304.29 260.48 L301.98 260.48 L301.98 259 L301 259 L299.72 259 L299.72 256.82 L298.22 256.82 L298.22 255 L297 255 L296.45 255 L296.45 253.86 L294 253.86 L294 253 L293 253 L291.8 253 L291.8 251.1 L290.32 251.1 L290.32 250 L289 250 L287.5 250 L287.5 247 L286 247 L284.65 247 L284.65 243.5 L283.3 243.5 L282.3 243.5 L282.3 240.9 L281.3 240.9 L280.77 240.9 L280.77 239.51 L279.18 239.51 L279.18 237.6 L278 237.6 L277.27 237.6 L277.27 236.11 L275.48 236.11 L275.48 235 L274.7 235 L274.2 235 L274.2 233.7 L271.86 233.7 L271.86 232.3 L271.4 232.3 L269.75 232.3 L269.75 229.7 L268.1 229.7 L266.5 229.7 L266.5 227.7 L264.9 227.7 L263.25 227.7 L263.25 223.8 L261.6 223.8 L260.65 223.8 L260.65 221.49 L259.19 221.49 L259.19 220.5 L258.3 220.5 L257.28 220.5 L257.28 218.6 L255.55 218.6 L255.55 215.9 L255 215.9 L253.71 215.9 L253.71 212.04 L252 212.04 L252 207.8 L250.6 207.8 Z" fill="#c7d0ea"/>
<path d="M250.6 207.8 L252.16 207.8 L252.16 210.07 L253.71 210.07 L253.71 211.3 L255 211.3 L256.46 211.3 L256.46 213.3 L257.7 213.3 L257.7 215.3 L259 215.3 L259.54 215.3 L259.54 216.34 L262.01 216.34 L262.01 217.93 L263.91 217.93 L263.91 218.5 L264.9 218.5 L266.25 218.5 L266.25 219.92 L269.45 219.92 L269.45 221.2 L270.1 221.2 L271.46 221.2 L271.46 222.5 L273.42 222.5 L273.42 223.8 L274.7 223.8 L275.83 223.8 L275.83 224.94 L279.27 224.94 L279.27 226.4 L280 226.4 L280.78 226.4 L280.78 228.16 L283.74 228.16 L283.74 229.7 L285.2 229.7 L286.22 229.7 L286.22 232.13 L288.41 232.13 L288.41 235 L289 235 L289.94 235 L289.94 236.79 L292.12 236.79 L292.12 238 L293 238 L294.03 238 L294.03 239.92 L296.32 239.92 L296.32 241 L297 241 L298.48 241 L298.48 242.35 L300.33 242.35 L300.33 244 L301 244 L302.39 244 L302.39 245.87 L304.19 245.87 L304.19 247 L305 247 L306 247 L306 249 L307 249 L307.92 249 L307.92 249.79 L309.66 249.79 L309.66 250.67 L311.79 250.67 L311.79 251.5 L313 251.5 L313.86 251.5 L313.86 252.25 L316.35 252.25 L316.35 253 L318 253 L318.85 253 L318.85 255.02 L321.49 255.02 L321.49 257 L322 257 L332 257 L332 257.5 L333.5 257.5 L333.5 260 L335 260 L336.29 260 L336.29 260.88 L337.81 260.88 L337.81 261.3 L340.19 261.3 L340.19 262 L341 262 L342.34 262 L342.34 262.77 L344.09 262.77 L344.09 264 L345 264 L346 264 L346 265.88 L348.05 265.88 L348.05 267 L349 267 L350 267 L350 269 L351 269 L352.29 269 L352.29 270.2 L355.37 270.2 L355.37 272 L356 272 L356.65 272 L356.65 272.31 L358.89 272.31 L358.89 272.58 L361.44 272.58 L361.44 272.76 L363.93 272.76 L363.93 272.95 L365.87 272.95 L365.87 273.32 L368.25 273.32 L368.25 273.5 L369 273.5 L402 273.5 L403.5 273.5 L403.5 275 L405 275 L444 275 L444 308 L405 308 L404.5 308 L404.5 297 L404 297 L362 297 L360.71 297 L360.71 296.02 L359.11 296.02 L359.11 294.77 L356.75 294.77 L356.75 294.08 L354.87 294.08 L354.87 293 L354 293 L352.63 293 L352.63 292.05 L350.95 292.05 L350.95 290.67 L348.73 290.67 L348.73 290 L348 290 L347.46 290 L347.46 289.07 L344.88 289.07 L344.88 287.22 L343.22 287.22 L343.22 285.33 L340.85 285.33 L340.85 284 L340 284 L338.63 284 L338.63 283.28 L337.34 283.28 L337.34 281.8 L334.77 281.8 L334.77 281 L334 281 L332.7 281 L332.7 280.74 L330.81 280.74 L330.81 280.52 L327.85 280.52 L327.85 280.28 L325.83 280.28 L325.83 280 L325 280 L323.5 280 L323.5 277 L322 277 L321.33 277 L321.33 275.46 L318.62 275.46 L318.62 273 L318 273 L316.61 273 L316.61 271.9 L314.29 271.9 L314.29 270 L313 270 L311.79 270 L311.79 268.49 L310.47 268.49 L310.47 267.31 L307.69 267.31 L307.69 266 L307 266 L306 266 L306 263 L305 263 L304.29 263 L304.29 260.48 L301.98 260.48 L301.98 259 L301 259 L299.72 259 L299.72 256.82 L298.22 256.82 L298.22 255 L297 255 L296.45 255 L296.45 253.86 L294 253.86 L294 253 L293 253 L291.8 253 L291.8 251.1 L290.32 251.1 L290.32 250 L289 250 L287.5 250 L287.5 247 L286 247 L284.65 247 L284.65 243.5 L283.3 243.5 L282.3 243.5 L282.3 240.9 L281.3 240.9 L280.77 240.9 L280.77 239.51 L279.18 239.51 L279.18 237.6 L278 237.6 L277.27 237.6 L277.27 236.11 L275.48 236.11 L275.48 235 L274.7 235 L274.2 235 L274.2 233.7 L271.86 233.7 L271.86 232.3 L271.4 232.3 L269.75 232.3 L269.75 229.7 L268.1 229.7 L266.5 229.7 L266.5 227.7 L264.9 227.7 L263.25 227.7 L263.25 223.8 L261.6 223.8 L260.65 223.8 L260.65 221.49 L259.19 221.49 L259.19 220.5 L258.3 220.5 L257.28 220.5 L257.28 218.6 L255.55 218.6 L255.55 215.9 L255 215.9 L253.71 215.9 L253.71 212.04 L252 212.04 L252 207.8 L250.6 207.8 Z" fill="#c4a9b1" clip-path="url(#cE)"/>
<path d="M250.6 278.55 H347 V349.3" fill="none" stroke="#6a6a6a" stroke-width="0.7" stroke-dasharray="0.9 0.9"/>
<path d="M250.6 207.8 L251.71 207.8 L251.71 209.79 L253.95 209.79 L253.95 210.7 L255 210.7 L255.88 210.7 L255.88 211.68 L258.16 211.68 L258.16 213.3 L259 213.3 L259.87 213.3 L259.87 214.21 L261.52 214.21 L261.52 214.9 L262.9 214.9 L263.97 214.9 L263.97 215.47 L267.01 215.47 L267.01 216.6 L268.1 216.6 L269.45 216.6 L269.45 218.5 L270.8 218.5 L272.4 218.5 L272.4 221.2 L274 221.2 L275.35 221.2 L275.35 223.8 L276.7 223.8 L277.41 223.8 L277.41 224.27 L279.18 224.27 L279.18 225.1 L280 225.1 L280.79 225.1 L280.79 225.51 L282.66 225.51 L282.66 225.8 L283.9 225.8 L284.68 225.8 L284.68 226.24 L286.8 226.24 L286.8 227.1 L287.9 227.1 L291.8 227.1 L291.8 227.7 L293.15 227.7 L293.15 228.75 L295.08 228.75 L295.08 229.7 L295.7 229.7 L296.14 229.7 L296.14 230.87 L298.32 230.87 L298.32 232.3 L299 232.3 L299.91 232.3 L299.91 233.28 L302.16 233.28 L302.16 234 L303 234 L307 234 L307 234.5 L308.35 234.5 L308.35 236.04 L309.85 236.04 L309.85 237 L311 237 L311.62 237 L311.62 238.25 L314.41 238.25 L314.41 239 L315 239 L316.5 239 L316.5 240 L318 240 L319 240 L319 244 L320 244 L321.5 244 L321.5 248 L323 248 L324 248 L324 250 L325 250 L331 250 L332.5 250 L332.5 252 L334 252 L335 252 L335 253.5 L336 253.5 L341 253.5 L341 254 L342.5 254 L342.5 255.5 L344 255.5 L345.5 255.5 L345.5 257 L347 257 L348.5 257 L348.5 258 L350 258 L351 258 L351 261 L352 261 L353.5 261 L353.5 263.5 L355 263.5 L355.5 263.5 L355.5 265 L356 265 L367 265 L368 265 L368 268 L369 268 L402 268 L402.4 268 L402.4 278 L424.4 278" fill="none" stroke="#e2392c" stroke-width="1.0"/>
<path d="M250.6 207.8 L251.06 207.8 L251.06 209.41 L252.76 209.41 L252.76 211 L254 211 L254.5 211 L254.5 213.9 L255 213.9 L256.3 213.9 L256.3 215.3 L257.6 215.3 L258.95 215.3 L258.95 219.9 L260.3 219.9 L263.5 219.9 L263.5 220.5 L264.2 220.5 L264.2 225.1 L264.9 225.1 L266.5 225.1 L266.5 226.1 L268.1 226.1 L269.75 226.1 L269.75 227.7 L271.4 227.7 L272.7 227.7 L272.7 229.1 L274 229.1 L275 229.1 L275 231.7 L276 231.7 L276.66 231.7 L276.66 232.33 L278.38 232.33 L278.38 233 L279.3 233 L280.3 233 L280.3 235 L281.3 235 L282.6 235 L282.6 237.6 L283.9 237.6 L285.2 237.6 L285.2 239.6 L286.5 239.6 L287.5 239.6 L287.5 242.9 L288.5 242.9 L289.75 242.9 L289.75 247 L291 247 L292.42 247 L292.42 247.8 L294.35 247.8 L294.35 249 L296 249 L297.22 249 L297.22 250.67 L298.75 250.67 L298.75 252 L300 252 L301.5 252 L301.5 255 L303 255 L303.85 255 L303.85 255.88 L305.5 255.88 L305.5 257 L307 257 L307.79 257 L307.79 258.28 L309.54 258.28 L309.54 259.5 L311 259.5 L311.55 259.5 L311.55 260.33 L313.74 260.33 L313.74 261 L315 261 L316 261 L316 262 L317 262 L318.5 262 L318.5 266 L320 266 L320.71 266 L320.71 266.64 L323.41 266.64 L323.41 268 L324 268 L331 268 L332 268 L332 271 L333 271 L334.5 271 L334.5 274 L336 274 L337.5 274 L337.5 275 L339 275 L340.5 275 L340.5 276.5 L342 276.5 L346 276.5 L346 277 L347 277 L347 279.5 L348 279.5 L349 279.5 L349 281 L350 281 L350.89 281 L350.89 281.41 L353.25 281.41 L353.25 281.61 L355.33 281.61 L355.33 282 L356 282 L357.45 282 L357.45 283.14 L358.92 283.14 L358.92 284 L360 284 L361 284 L361 287 L362 287 L404 287 L404.5 287 L404.5 294 L405 294 L444 294" fill="none" stroke="#2a7ab8" stroke-width="1.0"/>
<path d="M290.56 226.3 v1.6 M305.28 233.2 v1.6 M327.06 249.2 v1.6 M336.91 252.7 v1.6 M357.66 264.2 v1.6 M362.22 264.2 v1.6 M370.06 267.2 v1.6 M375.86 267.2 v1.6 M378.08 267.2 v1.6 M383.6 267.2 v1.6 M389.63 267.2 v1.6 M392.93 267.2 v1.6 M397.66 267.2 v1.6 M404.48 277.2 v1.6 M409.19 277.2 v1.6 M412.44 277.2 v1.6 M414.74 277.2 v1.6 M418.53 277.2 v1.6 M422.59 277.2 v1.6" stroke="#e2392c" stroke-width="0.5" fill="none"/>
<path d="M261.72 219.1 v1.6 M326.21 267.2 v1.6 M343.28 275.7 v1.6 M363.83 286.2 v1.6 M368.06 286.2 v1.6 M374.74 286.2 v1.6 M378.49 286.2 v1.6 M381.99 286.2 v1.6 M388.41 286.2 v1.6 M391.12 286.2 v1.6 M395.94 286.2 v1.6 M399.61 286.2 v1.6 M406.9 293.2 v1.6 M412.7 293.2 v1.6 M415.55 293.2 v1.6 M420.88 293.2 v1.6 M425.87 293.2 v1.6 M430.18 293.2 v1.6 M436.01 293.2 v1.6 M442.16 293.2 v1.6" stroke="#2a7ab8" stroke-width="0.5" fill="none"/>
<path d="M241 200.8 V356.1 H455.3" fill="none" stroke="#7a7a7a" stroke-width="0.9"/>
<text x="233.2" y="350.75" font-size="3.5" fill="#333" stroke="#333" stroke-width="0.04" textLength="6.2" lengthAdjust="spacingAndGlyphs">0.00</text>
<text x="233.2" y="315.38" font-size="3.5" fill="#333" stroke="#333" stroke-width="0.04" textLength="6.2" lengthAdjust="spacingAndGlyphs">0.25</text>
<text x="233.2" y="280" font-size="3.5" fill="#333" stroke="#333" stroke-width="0.04" textLength="6.2" lengthAdjust="spacingAndGlyphs">0.50</text>
<text x="233.2" y="244.62" font-size="3.5" fill="#333" stroke="#333" stroke-width="0.04" textLength="6.2" lengthAdjust="spacingAndGlyphs">0.75</text>
<text x="233.2" y="209.25" font-size="3.5" fill="#333" stroke="#333" stroke-width="0.04" textLength="6.2" lengthAdjust="spacingAndGlyphs">1.00</text>
<text x="250.6" y="360" font-size="3.1" text-anchor="middle" fill="#333" stroke="#333" stroke-width="0.05">0</text>
<text x="289.6" y="360" font-size="3.1" text-anchor="middle" fill="#333" stroke="#333" stroke-width="0.05">2.5</text>
<text x="328.6" y="360" font-size="3.1" text-anchor="middle" fill="#333" stroke="#333" stroke-width="0.05">5</text>
<text x="367.6" y="360" font-size="3.1" text-anchor="middle" fill="#333" stroke="#333" stroke-width="0.05">7.5</text>
<text x="406.6" y="360" font-size="3.1" text-anchor="middle" fill="#333" stroke="#333" stroke-width="0.05">10</text>
<text x="445.6" y="360" font-size="3.1" text-anchor="middle" fill="#333" stroke="#333" stroke-width="0.05">12.5</text>
<path d="M239.8 349.3 H241 M239.8 313.93 H241 M239.8 278.55 H241 M239.8 243.18 H241 M239.8 207.8 H241 M250.6 356.1 V357.3 M289.6 356.1 V357.3 M328.6 356.1 V357.3 M367.6 356.1 V357.3 M406.6 356.1 V357.3 M445.6 356.1 V357.3" stroke="#7a7a7a" stroke-width="0.6"/>
<text x="348.1" y="363.7" font-size="3.4" text-anchor="middle" fill="#222" stroke="#222" stroke-width="0.05">Time(years)</text>
<text transform="translate(230.7 278.55) rotate(-90)" x="0" y="1.2" font-size="3.4" text-anchor="middle" fill="#222" stroke="#222" stroke-width="0.06">Survival probability</text>
<text x="254.9" y="322.2" font-size="3.7" fill="#222" textLength="17.2" lengthAdjust="spacingAndGlyphs">p = 0.0011</text>
<text x="302.1" y="195.7" font-size="2.9" fill="#111" stroke="#111" stroke-width="0.08" textLength="13.4" lengthAdjust="spacingAndGlyphs">LINC02747</text>
<rect x="317.1" y="192.8" width="4.1" height="4.3" fill="#f2c5aa"/>
<path d="M317.1 194.7 h4.1" stroke="#e2392c" stroke-width="0.9"/>
<text x="323" y="195.7" font-size="2.9" fill="#111" stroke="#111" stroke-width="0.08" textLength="32.2" lengthAdjust="spacingAndGlyphs">LINC02747 high expression</text>
<rect x="356.9" y="192.8" width="4.1" height="4.3" fill="#c7d0ea"/>
<path d="M356.9 194.7 h4.1" stroke="#2a7ab8" stroke-width="0.9"/>
<text x="362.4" y="195.7" font-size="2.9" fill="#111" stroke="#111" stroke-width="0.08" textLength="31.7" lengthAdjust="spacingAndGlyphs">LINC02747 low expression</text>
<text x="232.1" y="194.3" font-size="13.7" fill="#231f20" stroke="#231f20" stroke-width="0.7">E</text>
<clipPath id="cF"><path d="M478.3 207.6 L479.13 207.6 L479.13 208.75 L481.31 208.75 L481.31 210 L483 210 L484.2 210 L484.2 211.59 L485.95 211.59 L485.95 213 L487 213 L487.97 213 L487.97 214.28 L489.86 214.28 L489.86 216 L491 216 L491.51 216 L491.51 217.08 L494.49 217.08 L494.49 218 L495 218 L496.22 218 L496.22 220.04 L498.48 220.04 L498.48 221 L499 221 L499.99 221 L499.99 222.91 L501.93 222.91 L501.93 224 L503 224 L503.51 224 L503.51 224.8 L506.42 224.8 L506.42 226 L507 226 L508.44 226 L508.44 227.01 L510.15 227.01 L510.15 228 L511 228 L511.64 228 L511.64 229.51 L513.53 229.51 L513.53 231 L515 231 L515.8 231 L515.8 231.98 L517.69 231.98 L517.69 233 L519 233 L520.43 233 L520.43 233.92 L521.67 233.92 L521.67 235 L523 235 L524.24 235 L524.24 235.98 L525.83 235.98 L525.83 237 L527 237 L528.03 237 L528.03 237.68 L530.59 237.68 L530.59 239 L532 239 L533.33 239 L533.33 240.09 L534.74 240.09 L534.74 241 L536 241 L537.13 241 L537.13 241.67 L539.32 241.67 L539.32 243 L540 243 L540.99 243 L540.99 243.89 L543 243.89 L543 244.93 L544.66 244.93 L544.66 246 L546 246 L547.5 246 L547.5 248.5 L549 248.5 L550.5 248.5 L550.5 255 L552 255 L552.66 255 L552.66 255.22 L554.94 255.22 L554.94 255.52 L557.47 255.52 L557.47 255.67 L558.59 255.67 L558.59 256 L560 256 L561 256 L561 260 L562 260 L563.61 260 L563.61 260.28 L566.03 260.28 L566.03 260.76 L568.34 260.76 L568.34 261.11 L570.31 261.11 L570.31 261.74 L572.54 261.74 L572.54 262 L574 262 L575 262 L575 266 L576 266 L577.4 266 L577.4 266.71 L579.99 266.71 L579.99 267.34 L582.48 267.34 L582.48 267.91 L584 267.91 L584 268.42 L586.55 268.42 L586.55 269 L588 269 L588.59 269 L588.59 269.53 L590.82 269.53 L590.82 270.13 L592.96 270.13 L592.96 270.61 L595.47 270.61 L595.47 271 L596 271 L632 271 L632.5 271 L632.5 273 L633 273 L652 273 L652 326 L632 326 L631 326 L631 315 L630 315 L629.5 315 L629.5 299 L629 299 L589 299 L587.73 299 L587.73 297.91 L585.97 297.91 L585.97 296.51 L583.13 296.51 L583.13 295.37 L581.71 295.37 L581.71 293.95 L579.56 293.95 L579.56 293 L578 293 L577.21 293 L577.21 291.03 L574.8 291.03 L574.8 288 L574 288 L572.52 288 L572.52 285.15 L570.87 285.15 L570.87 283 L570 283 L561 283 L560.5 283 L560.5 280 L560 280 L558.5 280 L558.5 275 L557 275 L556.28 275 L556.28 274.33 L553.64 274.33 L553.64 273.42 L552.27 273.42 L552.27 273 L551 273 L549.89 273 L549.89 272.01 L548.33 272.01 L548.33 270 L547 270 L546.5 270 L546.5 266 L546 266 L545.49 266 L545.49 264.98 L542.61 264.98 L542.61 264 L542 264 L541.05 264 L541.05 262.76 L539.36 262.76 L539.36 262 L538 262 L536.91 262 L536.91 259.93 L534.58 259.93 L534.58 258 L534 258 L532.5 258 L532.5 256 L531 256 L529.5 256 L529.5 253 L528 253 L526.61 253 L526.61 251.78 L525.07 251.78 L525.07 250 L524 250 L522.99 250 L522.99 248.1 L520.75 248.1 L520.75 247 L520 247 L518.75 247 L518.75 245.89 L517.36 245.89 L517.36 244 L516 244 L515.39 244 L515.39 242.78 L512.68 242.78 L512.68 241 L512 241 L511.06 241 L511.06 239.62 L509.03 239.62 L509.03 238 L508 238 L506.87 238 L506.87 237.24 L505.16 237.24 L505.16 236 L504 236 L503.18 236 L503.18 235.17 L500.69 235.17 L500.69 233 L500 233 L498.84 233 L498.84 230.84 L496.8 230.84 L496.8 229 L496 229 L495.45 229 L495.45 227.75 L493.07 227.75 L493.07 226 L492 226 L491.18 226 L491.18 223.84 L488.56 223.84 L488.56 222 L488 222 L486.5 222 L486.5 218 L485 218 L483.5 218 L483.5 213 L482 213 L481.5 213 L481.5 210.34 L479.66 210.34 L479.66 207.6 L478.3 207.6 Z"/></clipPath>
<path d="M478.3 207.6 L479.13 207.6 L479.13 208.75 L481.31 208.75 L481.31 210 L483 210 L484.2 210 L484.2 211.59 L485.95 211.59 L485.95 213 L487 213 L487.97 213 L487.97 214.28 L489.86 214.28 L489.86 216 L491 216 L491.51 216 L491.51 217.08 L494.49 217.08 L494.49 218 L495 218 L496.22 218 L496.22 220.04 L498.48 220.04 L498.48 221 L499 221 L499.99 221 L499.99 222.91 L501.93 222.91 L501.93 224 L503 224 L503.51 224 L503.51 224.8 L506.42 224.8 L506.42 226 L507 226 L508.44 226 L508.44 227.01 L510.15 227.01 L510.15 228 L511 228 L511.64 228 L511.64 229.51 L513.53 229.51 L513.53 231 L515 231 L515.8 231 L515.8 231.98 L517.69 231.98 L517.69 233 L519 233 L520.43 233 L520.43 233.92 L521.67 233.92 L521.67 235 L523 235 L524.24 235 L524.24 235.98 L525.83 235.98 L525.83 237 L527 237 L528.03 237 L528.03 237.68 L530.59 237.68 L530.59 239 L532 239 L533.33 239 L533.33 240.09 L534.74 240.09 L534.74 241 L536 241 L537.13 241 L537.13 241.67 L539.32 241.67 L539.32 243 L540 243 L540.99 243 L540.99 243.89 L543 243.89 L543 244.93 L544.66 244.93 L544.66 246 L546 246 L547.5 246 L547.5 248.5 L549 248.5 L550.5 248.5 L550.5 255 L552 255 L552.66 255 L552.66 255.22 L554.94 255.22 L554.94 255.52 L557.47 255.52 L557.47 255.67 L558.59 255.67 L558.59 256 L560 256 L561 256 L561 260 L562 260 L563.61 260 L563.61 260.28 L566.03 260.28 L566.03 260.76 L568.34 260.76 L568.34 261.11 L570.31 261.11 L570.31 261.74 L572.54 261.74 L572.54 262 L574 262 L575 262 L575 266 L576 266 L577.4 266 L577.4 266.71 L579.99 266.71 L579.99 267.34 L582.48 267.34 L582.48 267.91 L584 267.91 L584 268.42 L586.55 268.42 L586.55 269 L588 269 L588.59 269 L588.59 269.53 L590.82 269.53 L590.82 270.13 L592.96 270.13 L592.96 270.61 L595.47 270.61 L595.47 271 L596 271 L632 271 L632.5 271 L632.5 273 L633 273 L652 273 L652 326 L632 326 L631 326 L631 315 L630 315 L629.5 315 L629.5 299 L629 299 L589 299 L587.73 299 L587.73 297.91 L585.97 297.91 L585.97 296.51 L583.13 296.51 L583.13 295.37 L581.71 295.37 L581.71 293.95 L579.56 293.95 L579.56 293 L578 293 L577.21 293 L577.21 291.03 L574.8 291.03 L574.8 288 L574 288 L572.52 288 L572.52 285.15 L570.87 285.15 L570.87 283 L570 283 L561 283 L560.5 283 L560.5 280 L560 280 L558.5 280 L558.5 275 L557 275 L556.28 275 L556.28 274.33 L553.64 274.33 L553.64 273.42 L552.27 273.42 L552.27 273 L551 273 L549.89 273 L549.89 272.01 L548.33 272.01 L548.33 270 L547 270 L546.5 270 L546.5 266 L546 266 L545.49 266 L545.49 264.98 L542.61 264.98 L542.61 264 L542 264 L541.05 264 L541.05 262.76 L539.36 262.76 L539.36 262 L538 262 L536.91 262 L536.91 259.93 L534.58 259.93 L534.58 258 L534 258 L532.5 258 L532.5 256 L531 256 L529.5 256 L529.5 253 L528 253 L526.61 253 L526.61 251.78 L525.07 251.78 L525.07 250 L524 250 L522.99 250 L522.99 248.1 L520.75 248.1 L520.75 247 L520 247 L518.75 247 L518.75 245.89 L517.36 245.89 L517.36 244 L516 244 L515.39 244 L515.39 242.78 L512.68 242.78 L512.68 241 L512 241 L511.06 241 L511.06 239.62 L509.03 239.62 L509.03 238 L508 238 L506.87 238 L506.87 237.24 L505.16 237.24 L505.16 236 L504 236 L503.18 236 L503.18 235.17 L500.69 235.17 L500.69 233 L500 233 L498.84 233 L498.84 230.84 L496.8 230.84 L496.8 229 L496 229 L495.45 229 L495.45 227.75 L493.07 227.75 L493.07 226 L492 226 L491.18 226 L491.18 223.84 L488.56 223.84 L488.56 222 L488 222 L486.5 222 L486.5 218 L485 218 L483.5 218 L483.5 213 L482 213 L481.5 213 L481.5 210.34 L479.66 210.34 L479.66 207.6 L478.3 207.6 Z" fill="#f2c5aa"/>
<path d="M478.3 207.6 L479.86 207.6 L479.86 208.32 L481.38 208.32 L481.38 209 L483 209 L484.45 209 L484.45 209.62 L486.22 209.62 L486.22 210.5 L487 210.5 L487.6 210.5 L487.6 210.99 L490.05 210.99 L490.05 212 L491 212 L492.43 212 L492.43 213.36 L494.18 213.36 L494.18 214 L495 214 L495.95 214 L495.95 215.04 L498.34 215.04 L498.34 216 L499 216 L499.52 216 L499.52 217.28 L501.61 217.28 L501.61 218 L503 218 L504.05 218 L504.05 219.31 L505.79 219.31 L505.79 220 L507 220 L507.64 220 L507.64 221.15 L510.38 221.15 L510.38 222 L511 222 L512.31 222 L512.31 223.17 L514.45 223.17 L514.45 224.5 L515 224.5 L515.65 224.5 L515.65 225.45 L518 225.45 L518 227 L519 227 L519.54 227 L519.54 228.03 L521.68 228.03 L521.68 229 L523 229 L523.89 229 L523.89 230.06 L525.98 230.06 L525.98 231 L527 231 L527.89 231 L527.89 231.49 L530.37 231.49 L530.37 232.5 L531 232.5 L532.5 232.5 L532.5 234 L534 234 L534.72 234 L534.72 234.88 L537.39 234.88 L537.39 235.34 L539.09 235.34 L539.09 236 L540 236 L540.97 236 L540.97 236.52 L543.08 236.52 L543.08 237.17 L544.89 237.17 L544.89 238 L546 238 L547.5 238 L547.5 241 L549 241 L550.61 241 L550.61 241.18 L551.76 241.18 L551.76 241.29 L554.03 241.29 L554.03 241.51 L556.77 241.51 L556.77 241.69 L558.5 241.69 L558.5 241.8 L560.67 241.8 L560.67 242 L562 242 L562.5 242 L562.5 246 L563 246 L564.07 246 L564.07 246.85 L566.03 246.85 L566.03 247.5 L567 247.5 L568.43 247.5 L568.43 247.98 L570.79 247.98 L570.79 248.47 L572.93 248.47 L572.93 248.65 L575.02 248.65 L575.02 249 L576 249 L577.3 249 L577.3 250.22 L579.37 250.22 L579.37 251.16 L581.44 251.16 L581.44 252 L582 252 L583.26 252 L583.26 253.19 L585.24 253.19 L585.24 254 L586 254 L586.85 254 L586.85 254.47 L589.05 254.47 L589.05 255 L590 255 L590.82 255 L590.82 255.59 L593.49 255.59 L593.49 255.95 L594.98 255.95 L594.98 256.5 L596 256.5 L672 256.5 L672 257 L672 281 L597 281 L596.5 281 L596.5 280 L596 280 L594.98 280 L594.98 278.55 L592.51 278.55 L592.51 277.45 L590.63 277.45 L590.63 276.09 L589.44 276.09 L589.44 274 L588 274 L587.27 274 L587.27 273.4 L584.81 273.4 L584.81 272.43 L583.28 272.43 L583.28 271.78 L581.26 271.78 L581.26 270.91 L579.21 270.91 L579.21 270 L578 270 L577.05 270 L577.05 268.94 L575.09 268.94 L575.09 268 L574 268 L573.18 268 L573.18 267.31 L569.91 267.31 L569.91 266.35 L568.32 266.35 L568.32 264.93 L565.17 264.93 L565.17 263.64 L562.79 263.64 L562.79 263 L562 263 L561 263 L561 260 L560 260 L559.44 260 L559.44 259.69 L556.77 259.69 L556.77 259.23 L554.97 259.23 L554.97 258.82 L551.76 258.82 L551.76 258.47 L550.06 258.47 L550.06 258 L549 258 L547.5 258 L547.5 255 L546 255 L544.55 255 L544.55 254.14 L542.91 254.14 L542.91 252.93 L540.56 252.93 L540.56 252 L540 252 L539.15 252 L539.15 251.35 L537.25 251.35 L537.25 250.04 L534.83 250.04 L534.83 249 L534 249 L533.38 249 L533.38 247.44 L531.04 247.44 L531.04 246 L530 246 L528.84 246 L528.84 243.92 L527.38 243.92 L527.38 243 L526 243 L525.1 243 L525.1 241.08 L523.46 241.08 L523.46 240 L522 240 L521.15 240 L521.15 238.78 L519.36 238.78 L519.36 238 L518 238 L516.9 238 L516.9 236.17 L514.72 236.17 L514.72 235 L514 235 L512.66 235 L512.66 234.01 L510.52 234.01 L510.52 233 L510 233 L509.4 233 L509.4 232.12 L506.98 232.12 L506.98 230 L506 230 L504.93 230 L504.93 228.9 L503.27 228.9 L503.27 227 L502 227 L501.08 227 L501.08 226.3 L498.68 226.3 L498.68 225 L498 225 L497.42 225 L497.42 223.27 L494.84 223.27 L494.84 222 L494 222 L493.23 222 L493.23 220.24 L490.81 220.24 L490.81 219 L490 219 L488.67 219 L488.67 217.41 L486.8 217.41 L486.8 216 L486 216 L484.95 216 L484.95 214.22 L483.37 214.22 L483.37 212 L482 212 L480.94 212 L480.94 209.97 L478.98 209.97 L478.98 207.6 L478.3 207.6 Z" fill="#c7d0ea"/>
<path d="M478.3 207.6 L479.86 207.6 L479.86 208.32 L481.38 208.32 L481.38 209 L483 209 L484.45 209 L484.45 209.62 L486.22 209.62 L486.22 210.5 L487 210.5 L487.6 210.5 L487.6 210.99 L490.05 210.99 L490.05 212 L491 212 L492.43 212 L492.43 213.36 L494.18 213.36 L494.18 214 L495 214 L495.95 214 L495.95 215.04 L498.34 215.04 L498.34 216 L499 216 L499.52 216 L499.52 217.28 L501.61 217.28 L501.61 218 L503 218 L504.05 218 L504.05 219.31 L505.79 219.31 L505.79 220 L507 220 L507.64 220 L507.64 221.15 L510.38 221.15 L510.38 222 L511 222 L512.31 222 L512.31 223.17 L514.45 223.17 L514.45 224.5 L515 224.5 L515.65 224.5 L515.65 225.45 L518 225.45 L518 227 L519 227 L519.54 227 L519.54 228.03 L521.68 228.03 L521.68 229 L523 229 L523.89 229 L523.89 230.06 L525.98 230.06 L525.98 231 L527 231 L527.89 231 L527.89 231.49 L530.37 231.49 L530.37 232.5 L531 232.5 L532.5 232.5 L532.5 234 L534 234 L534.72 234 L534.72 234.88 L537.39 234.88 L537.39 235.34 L539.09 235.34 L539.09 236 L540 236 L540.97 236 L540.97 236.52 L543.08 236.52 L543.08 237.17 L544.89 237.17 L544.89 238 L546 238 L547.5 238 L547.5 241 L549 241 L550.61 241 L550.61 241.18 L551.76 241.18 L551.76 241.29 L554.03 241.29 L554.03 241.51 L556.77 241.51 L556.77 241.69 L558.5 241.69 L558.5 241.8 L560.67 241.8 L560.67 242 L562 242 L562.5 242 L562.5 246 L563 246 L564.07 246 L564.07 246.85 L566.03 246.85 L566.03 247.5 L567 247.5 L568.43 247.5 L568.43 247.98 L570.79 247.98 L570.79 248.47 L572.93 248.47 L572.93 248.65 L575.02 248.65 L575.02 249 L576 249 L577.3 249 L577.3 250.22 L579.37 250.22 L579.37 251.16 L581.44 251.16 L581.44 252 L582 252 L583.26 252 L583.26 253.19 L585.24 253.19 L585.24 254 L586 254 L586.85 254 L586.85 254.47 L589.05 254.47 L589.05 255 L590 255 L590.82 255 L590.82 255.59 L593.49 255.59 L593.49 255.95 L594.98 255.95 L594.98 256.5 L596 256.5 L672 256.5 L672 257 L672 281 L597 281 L596.5 281 L596.5 280 L596 280 L594.98 280 L594.98 278.55 L592.51 278.55 L592.51 277.45 L590.63 277.45 L590.63 276.09 L589.44 276.09 L589.44 274 L588 274 L587.27 274 L587.27 273.4 L584.81 273.4 L584.81 272.43 L583.28 272.43 L583.28 271.78 L581.26 271.78 L581.26 270.91 L579.21 270.91 L579.21 270 L578 270 L577.05 270 L577.05 268.94 L575.09 268.94 L575.09 268 L574 268 L573.18 268 L573.18 267.31 L569.91 267.31 L569.91 266.35 L568.32 266.35 L568.32 264.93 L565.17 264.93 L565.17 263.64 L562.79 263.64 L562.79 263 L562 263 L561 263 L561 260 L560 260 L559.44 260 L559.44 259.69 L556.77 259.69 L556.77 259.23 L554.97 259.23 L554.97 258.82 L551.76 258.82 L551.76 258.47 L550.06 258.47 L550.06 258 L549 258 L547.5 258 L547.5 255 L546 255 L544.55 255 L544.55 254.14 L542.91 254.14 L542.91 252.93 L540.56 252.93 L540.56 252 L540 252 L539.15 252 L539.15 251.35 L537.25 251.35 L537.25 250.04 L534.83 250.04 L534.83 249 L534 249 L533.38 249 L533.38 247.44 L531.04 247.44 L531.04 246 L530 246 L528.84 246 L528.84 243.92 L527.38 243.92 L527.38 243 L526 243 L525.1 243 L525.1 241.08 L523.46 241.08 L523.46 240 L522 240 L521.15 240 L521.15 238.78 L519.36 238.78 L519.36 238 L518 238 L516.9 238 L516.9 236.17 L514.72 236.17 L514.72 235 L514 235 L512.66 235 L512.66 234.01 L510.52 234.01 L510.52 233 L510 233 L509.4 233 L509.4 232.12 L506.98 232.12 L506.98 230 L506 230 L504.93 230 L504.93 228.9 L503.27 228.9 L503.27 227 L502 227 L501.08 227 L501.08 226.3 L498.68 226.3 L498.68 225 L498 225 L497.42 225 L497.42 223.27 L494.84 223.27 L494.84 222 L494 222 L493.23 222 L493.23 220.24 L490.81 220.24 L490.81 219 L490 219 L488.67 219 L488.67 217.41 L486.8 217.41 L486.8 216 L486 216 L484.95 216 L484.95 214.22 L483.37 214.22 L483.37 212 L482 212 L480.94 212 L480.94 209.97 L478.98 209.97 L478.98 207.6 L478.3 207.6 Z" fill="#c4a9b1" clip-path="url(#cF)"/>
<path d="M478.3 278.05 H573.6 V348.5" fill="none" stroke="#6a6a6a" stroke-width="0.7" stroke-dasharray="0.9 0.9"/>
<path d="M478.3 207.6 L479.65 207.6 L479.65 210 L481 210 L482 210 L482 212 L483 212 L484 212 L484 215 L485 215 L486.5 215 L486.5 218 L488 218 L489.5 218 L489.5 219.5 L491 219.5 L492 219.5 L492 222 L493 222 L494.5 222 L494.5 223.5 L496 223.5 L497.5 223.5 L497.5 225 L499 225 L500.5 225 L500.5 228 L502 228 L503.5 228 L503.5 231 L505 231 L505.86 231 L505.86 231.95 L508.49 231.95 L508.49 233 L509 233 L510.5 233 L510.5 234 L512 234 L513.5 234 L513.5 237 L515 237 L516.5 237 L516.5 240 L518 240 L518.59 240 L518.59 240.73 L520.53 240.73 L520.53 242 L522 242 L523 242 L523 243.59 L525.06 243.59 L525.06 245 L526 245 L527.5 245 L527.5 248 L529 248 L529.87 248 L529.87 248.64 L531.65 248.64 L531.65 250 L533 250 L534.42 250 L534.42 251.06 L535.66 251.06 L535.66 253 L537 253 L538.5 253 L538.5 254.5 L540 254.5 L544 254.5 L544 255 L545 255 L545 258 L546 258 L547 258 L547 262 L548 262 L549.5 262 L549.5 265 L551 265 L552 265 L552 267 L553 267 L559 267 L559.5 267 L559.5 271 L560 271 L564 271 L564 271.5 L569 271.5 L569 272 L569.5 272 L569.5 274 L570 274 L571.5 274 L571.5 275 L573 275 L573.5 275 L573.5 278 L574 278 L575 278 L575 280 L576 280 L577 280 L577 282.4 L578 282.4 L579.14 282.4 L579.14 282.46 L580.84 282.46 L580.84 282.62 L583.3 282.62 L583.3 282.7 L584.96 282.7 L584.96 282.88 L586.82 282.88 L586.82 283 L588 283 L588.5 283 L588.5 286 L589 286 L629 286 L629.5 286 L629.5 297 L630 297 L631 297 L631 307 L632 307 L652 307" fill="none" stroke="#e2392c" stroke-width="1.0"/>
<path d="M478.3 207.6 L479.44 207.6 L479.44 209.97 L480.67 209.97 L480.67 211 L482 211 L483.36 211 L483.36 211.84 L484.56 211.84 L484.56 212.5 L486 212.5 L487.42 212.5 L487.42 213.85 L489.44 213.85 L489.44 215 L490 215 L490.75 215 L490.75 216.52 L492.76 216.52 L492.76 217.5 L494 217.5 L497 217.5 L497 218 L498.5 218 L498.5 219.5 L500 219.5 L501.5 219.5 L501.5 222 L503 222 L504.5 222 L504.5 224.5 L506 224.5 L507.5 224.5 L507.5 226 L509 226 L510.5 226 L510.5 228 L512 228 L513.5 228 L513.5 231 L515 231 L516.5 231 L516.5 233 L518 233 L518.7 233 L518.7 234.12 L521.26 234.12 L521.26 235 L522 235 L523.49 235 L523.49 236.18 L524.72 236.18 L524.72 237 L526 237 L527.36 237 L527.36 238.55 L529.37 238.55 L529.37 239.5 L530 239.5 L531.32 239.5 L531.32 239.88 L532.78 239.88 L532.78 240.5 L534 240.5 L535.5 240.5 L535.5 243 L537 243 L537.66 243 L537.66 243.65 L540.18 243.65 L540.18 244.42 L542.1 244.42 L542.1 245.5 L543 245.5 L544.5 245.5 L544.5 247 L546 247 L547.5 247 L547.5 250.5 L549 250.5 L561 250.5 L562 250.5 L562 255 L563 255 L564.5 255 L564.5 256.5 L566 256.5 L567.5 256.5 L567.5 258 L569 258 L575 258 L575 258.5 L576 258.5 L576 260 L577 260 L578.5 260 L578.5 261 L580 261 L581 261 L581 263.5 L582 263.5 L583 263.5 L583 265 L584 265 L587 265 L587 265.5 L588 265.5 L588 267 L589 267 L595 267 L595 267.5 L596 267.5 L596 269.6 L597 269.6 L672 269.6" fill="none" stroke="#2a7ab8" stroke-width="1.0"/>
<path d="M541.71 253.7 v1.6 M555.57 266.2 v1.6 M558.61 266.2 v1.6 M561.52 270.2 v1.6 M566.53 270.7 v1.6 M591.53 285.2 v1.6 M598.5 285.2 v1.6 M601.99 285.2 v1.6 M604.11 285.2 v1.6 M606.67 285.2 v1.6 M613.54 285.2 v1.6 M615.59 285.2 v1.6 M622.15 285.2 v1.6 M624.9 285.2 v1.6 M633 306.2 v1.6 M635.84 306.2 v1.6 M641.25 306.2 v1.6 M643.7 306.2 v1.6 M647.4 306.2 v1.6" stroke="#e2392c" stroke-width="0.5" fill="none"/>
<path d="M496.23 216.7 v1.6 M551.76 249.7 v1.6 M553.92 249.7 v1.6 M557.1 249.7 v1.6 M571.18 257.2 v1.6 M573.37 257.2 v1.6 M585.26 264.2 v1.6 M590.01 266.2 v1.6 M592.11 266.2 v1.6 M598.43 268.8 v1.6 M604.83 268.8 v1.6 M607.43 268.8 v1.6 M611.86 268.8 v1.6 M614.54 268.8 v1.6 M618.69 268.8 v1.6 M621.58 268.8 v1.6 M627.01 268.8 v1.6 M629.75 268.8 v1.6 M635.44 268.8 v1.6 M639.94 268.8 v1.6 M642.5 268.8 v1.6 M646.27 268.8 v1.6 M650.75 268.8 v1.6 M657.35 268.8 v1.6 M661.09 268.8 v1.6 M664.17 268.8 v1.6 M671.01 268.8 v1.6" stroke="#2a7ab8" stroke-width="0.5" fill="none"/>
<path d="M468.4 200.4 V355.4 H683.5" fill="none" stroke="#7a7a7a" stroke-width="0.9"/>
<text x="460.6" y="349.95" font-size="3.5" fill="#333" stroke="#333" stroke-width="0.04" textLength="6.2" lengthAdjust="spacingAndGlyphs">0.00</text>
<text x="460.6" y="314.72" font-size="3.5" fill="#333" stroke="#333" stroke-width="0.04" textLength="6.2" lengthAdjust="spacingAndGlyphs">0.25</text>
<text x="460.6" y="279.5" font-size="3.5" fill="#333" stroke="#333" stroke-width="0.04" textLength="6.2" lengthAdjust="spacingAndGlyphs">0.50</text>
<text x="460.6" y="244.27" font-size="3.5" fill="#333" stroke="#333" stroke-width="0.04" textLength="6.2" lengthAdjust="spacingAndGlyphs">0.75</text>
<text x="460.6" y="209.05" font-size="3.5" fill="#333" stroke="#333" stroke-width="0.04" textLength="6.2" lengthAdjust="spacingAndGlyphs">1.00</text>
<text x="478.3" y="359.3" font-size="3.1" text-anchor="middle" fill="#333" stroke="#333" stroke-width="0.05">0</text>
<text x="517.24" y="359.3" font-size="3.1" text-anchor="middle" fill="#333" stroke="#333" stroke-width="0.05">2.5</text>
<text x="556.18" y="359.3" font-size="3.1" text-anchor="middle" fill="#333" stroke="#333" stroke-width="0.05">5</text>
<text x="595.12" y="359.3" font-size="3.1" text-anchor="middle" fill="#333" stroke="#333" stroke-width="0.05">7.5</text>
<text x="634.06" y="359.3" font-size="3.1" text-anchor="middle" fill="#333" stroke="#333" stroke-width="0.05">10</text>
<text x="673" y="359.3" font-size="3.1" text-anchor="middle" fill="#333" stroke="#333" stroke-width="0.05">12.5</text>
<path d="M467.2 348.5 H468.4 M467.2 313.27 H468.4 M467.2 278.05 H468.4 M467.2 242.82 H468.4 M467.2 207.6 H468.4 M478.3 355.4 V356.6 M517.24 355.4 V356.6 M556.18 355.4 V356.6 M595.12 355.4 V356.6 M634.06 355.4 V356.6 M673 355.4 V356.6" stroke="#7a7a7a" stroke-width="0.6"/>
<text x="575.65" y="363" font-size="3.4" text-anchor="middle" fill="#222" stroke="#222" stroke-width="0.05">Time(years)</text>
<text transform="translate(458.1 278.05) rotate(-90)" x="0" y="1.2" font-size="3.4" text-anchor="middle" fill="#222" stroke="#222" stroke-width="0.06">Survival probability</text>
<text x="482" y="321.8" font-size="3.7" fill="#222" textLength="16" lengthAdjust="spacingAndGlyphs">p = 0.015</text>
<text x="529" y="195.1" font-size="2.9" fill="#111" stroke="#111" stroke-width="0.08" textLength="14" lengthAdjust="spacingAndGlyphs">LINC01615</text>
<rect x="544.5" y="192.2" width="4.1" height="4.3" fill="#f2c5aa"/>
<path d="M544.5 194.1 h4.1" stroke="#e2392c" stroke-width="0.9"/>
<text x="550.2" y="195.1" font-size="2.9" fill="#111" stroke="#111" stroke-width="0.08" textLength="32.8" lengthAdjust="spacingAndGlyphs">LINC01615 high expression</text>
<rect x="584.4" y="192.2" width="4.1" height="4.3" fill="#c7d0ea"/>
<path d="M584.4 194.1 h4.1" stroke="#2a7ab8" stroke-width="0.9"/>
<text x="589.7" y="195.1" font-size="2.9" fill="#111" stroke="#111" stroke-width="0.08" textLength="32.3" lengthAdjust="spacingAndGlyphs">LINC01615 low expression</text>
<text x="460" y="194.3" font-size="13.7" fill="#231f20" stroke="#231f20" stroke-width="0.7">F</text>
<clipPath id="cG"><path d="M24.2 394.3 L24.94 394.3 L24.94 396 L26.68 396 L26.68 397.07 L28.59 397.07 L28.59 398 L30 398 L31.06 398 L31.06 399.58 L32.86 399.58 L32.86 401 L34 401 L35.15 401 L35.15 401.9 L37.04 401.9 L37.04 404 L38 404 L39.48 404 L39.48 404.94 L41.37 404.94 L41.37 406 L42 406 L43.02 406 L43.02 407.73 L45.65 407.73 L45.65 409 L47 409 L48.11 409 L48.11 410.56 L50.64 410.56 L50.64 411.5 L52 411.5 L52.63 411.5 L52.63 412.55 L55.88 412.55 L55.88 415 L57 415 L58.11 415 L58.11 417.62 L59.88 417.62 L59.88 419 L61 419 L62.5 419 L62.5 422 L64 422 L64.62 422 L64.62 423.54 L67.34 423.54 L67.34 425 L68 425 L68.55 425 L68.55 426.43 L71.19 426.43 L71.19 428 L72 428 L73.05 428 L73.05 429.26 L74.82 429.26 L74.82 431 L76 431 L77.25 431 L77.25 433.24 L79.35 433.24 L79.35 434 L80 434 L80.73 434 L80.73 434.84 L83.13 434.84 L83.13 435.75 L85.24 435.75 L85.24 437 L86 437 L87.12 437 L87.12 438.26 L89.78 438.26 L89.78 440 L91 440 L92 440 L92 445 L93 445 L93.82 445 L93.82 447.43 L96.13 447.43 L96.13 450 L97 450 L98.41 450 L98.41 450.57 L99.97 450.57 L99.97 450.97 L102.22 450.97 L102.22 451.58 L104.02 451.58 L104.02 452 L105 452 L105.64 452 L105.64 453.73 L108.43 453.73 L108.43 455 L109 455 L110.53 455 L110.53 455.67 L112.2 455.67 L112.2 456.33 L114.45 456.33 L114.45 457 L116 457 L117.33 457 L117.33 458.16 L119.39 458.16 L119.39 459 L121.37 459 L121.37 460 L122 460 L123.32 460 L123.32 460.39 L124.62 460.39 L124.62 461.03 L126.65 461.03 L126.65 462 L128 462 L128.5 462 L128.5 463 L129 463 L192.4 463 L192.4 519 L178 519 L177 519 L177 507 L176 507 L175.5 507 L175.5 490 L175 490 L129 490 L128.26 490 L128.26 488.77 L125.57 488.77 L125.57 487.06 L123.83 487.06 L123.83 484.98 L122.17 484.98 L122.17 484 L121 484 L120.42 484 L120.42 483.23 L118.08 483.23 L118.08 482.04 L115.89 482.04 L115.89 481 L115 481 L113.91 481 L113.91 479.53 L111.8 479.53 L111.8 477.92 L110.21 477.92 L110.21 477 L109 477 L107.87 477 L107.87 475.76 L106.12 475.76 L106.12 474.82 L104.29 474.82 L104.29 473 L103 473 L101.92 473 L101.92 471.71 L98.74 471.71 L98.74 471 L98 471 L97 471 L97 468 L96 468 L94.5 468 L94.5 463 L93 463 L92 463 L92 458 L91 458 L89.82 458 L89.82 457.41 L87.77 457.41 L87.77 456.93 L86.22 456.93 L86.22 456 L85 456 L83.38 456 L83.38 454.46 L80.65 454.46 L80.65 453 L80 453 L78.59 453 L78.59 449.76 L75.92 449.76 L75.92 447 L75 447 L74.18 447 L74.18 445.52 L71.65 445.52 L71.65 444 L71 444 L70 444 L70 442 L69 442 L67.5 442 L67.5 439 L66 439 L64.5 439 L64.5 436 L63 436 L61.5 436 L61.5 432 L60 432 L58.5 432 L58.5 429 L57 429 L55.98 429 L55.98 427.67 L53.95 427.67 L53.95 426 L53 426 L51.9 426 L51.9 424.55 L49.59 424.55 L49.59 423 L49 423 L47.5 423 L47.5 420 L46 420 L44.5 420 L44.5 417 L43 417 L41.5 417 L41.5 414 L40 414 L38.5 414 L38.5 411 L37 411 L35.5 411 L35.5 408 L34 408 L32.5 408 L32.5 404 L31 404 L29.5 404 L29.5 400 L28 400 L27.34 400 L27.34 397.46 L25.01 397.46 L25.01 394.3 L24.2 394.3 Z"/></clipPath>
<path d="M24.2 394.3 L24.94 394.3 L24.94 396 L26.68 396 L26.68 397.07 L28.59 397.07 L28.59 398 L30 398 L31.06 398 L31.06 399.58 L32.86 399.58 L32.86 401 L34 401 L35.15 401 L35.15 401.9 L37.04 401.9 L37.04 404 L38 404 L39.48 404 L39.48 404.94 L41.37 404.94 L41.37 406 L42 406 L43.02 406 L43.02 407.73 L45.65 407.73 L45.65 409 L47 409 L48.11 409 L48.11 410.56 L50.64 410.56 L50.64 411.5 L52 411.5 L52.63 411.5 L52.63 412.55 L55.88 412.55 L55.88 415 L57 415 L58.11 415 L58.11 417.62 L59.88 417.62 L59.88 419 L61 419 L62.5 419 L62.5 422 L64 422 L64.62 422 L64.62 423.54 L67.34 423.54 L67.34 425 L68 425 L68.55 425 L68.55 426.43 L71.19 426.43 L71.19 428 L72 428 L73.05 428 L73.05 429.26 L74.82 429.26 L74.82 431 L76 431 L77.25 431 L77.25 433.24 L79.35 433.24 L79.35 434 L80 434 L80.73 434 L80.73 434.84 L83.13 434.84 L83.13 435.75 L85.24 435.75 L85.24 437 L86 437 L87.12 437 L87.12 438.26 L89.78 438.26 L89.78 440 L91 440 L92 440 L92 445 L93 445 L93.82 445 L93.82 447.43 L96.13 447.43 L96.13 450 L97 450 L98.41 450 L98.41 450.57 L99.97 450.57 L99.97 450.97 L102.22 450.97 L102.22 451.58 L104.02 451.58 L104.02 452 L105 452 L105.64 452 L105.64 453.73 L108.43 453.73 L108.43 455 L109 455 L110.53 455 L110.53 455.67 L112.2 455.67 L112.2 456.33 L114.45 456.33 L114.45 457 L116 457 L117.33 457 L117.33 458.16 L119.39 458.16 L119.39 459 L121.37 459 L121.37 460 L122 460 L123.32 460 L123.32 460.39 L124.62 460.39 L124.62 461.03 L126.65 461.03 L126.65 462 L128 462 L128.5 462 L128.5 463 L129 463 L192.4 463 L192.4 519 L178 519 L177 519 L177 507 L176 507 L175.5 507 L175.5 490 L175 490 L129 490 L128.26 490 L128.26 488.77 L125.57 488.77 L125.57 487.06 L123.83 487.06 L123.83 484.98 L122.17 484.98 L122.17 484 L121 484 L120.42 484 L120.42 483.23 L118.08 483.23 L118.08 482.04 L115.89 482.04 L115.89 481 L115 481 L113.91 481 L113.91 479.53 L111.8 479.53 L111.8 477.92 L110.21 477.92 L110.21 477 L109 477 L107.87 477 L107.87 475.76 L106.12 475.76 L106.12 474.82 L104.29 474.82 L104.29 473 L103 473 L101.92 473 L101.92 471.71 L98.74 471.71 L98.74 471 L98 471 L97 471 L97 468 L96 468 L94.5 468 L94.5 463 L93 463 L92 463 L92 458 L91 458 L89.82 458 L89.82 457.41 L87.77 457.41 L87.77 456.93 L86.22 456.93 L86.22 456 L85 456 L83.38 456 L83.38 454.46 L80.65 454.46 L80.65 453 L80 453 L78.59 453 L78.59 449.76 L75.92 449.76 L75.92 447 L75 447 L74.18 447 L74.18 445.52 L71.65 445.52 L71.65 444 L71 444 L70 444 L70 442 L69 442 L67.5 442 L67.5 439 L66 439 L64.5 439 L64.5 436 L63 436 L61.5 436 L61.5 432 L60 432 L58.5 432 L58.5 429 L57 429 L55.98 429 L55.98 427.67 L53.95 427.67 L53.95 426 L53 426 L51.9 426 L51.9 424.55 L49.59 424.55 L49.59 423 L49 423 L47.5 423 L47.5 420 L46 420 L44.5 420 L44.5 417 L43 417 L41.5 417 L41.5 414 L40 414 L38.5 414 L38.5 411 L37 411 L35.5 411 L35.5 408 L34 408 L32.5 408 L32.5 404 L31 404 L29.5 404 L29.5 400 L28 400 L27.34 400 L27.34 397.46 L25.01 397.46 L25.01 394.3 L24.2 394.3 Z" fill="#f2c5aa"/>
<path d="M24.2 394.3 L25.4 394.3 L25.4 394.85 L28.28 394.85 L28.28 395.5 L29 395.5 L30.09 395.5 L30.09 396.56 L31.96 396.56 L31.96 397 L33 397 L33.91 397 L33.91 397.63 L35.97 397.63 L35.97 398.5 L37 398.5 L38 398.5 L38 401 L39 401 L43 401 L43 401.5 L43.99 401.5 L43.99 402.1 L46.01 402.1 L46.01 402.5 L47 402.5 L48 402.5 L48 405 L49 405 L50.55 405 L50.55 405.8 L52.63 405.8 L52.63 406.5 L54 406.5 L55.32 406.5 L55.32 406.97 L58.09 406.97 L58.09 408 L59 408 L59.9 408 L59.9 409.01 L62.22 409.01 L62.22 409.5 L64 409.5 L64.74 409.5 L64.74 410.19 L68.07 410.19 L68.07 410.5 L69 410.5 L70.48 410.5 L70.48 411.81 L73.01 411.81 L73.01 412.5 L74 412.5 L75.49 412.5 L75.49 413.46 L77.65 413.46 L77.65 414 L79 414 L80.5 414 L80.5 416 L82 416 L83.32 416 L83.32 416.63 L85.37 416.63 L85.37 417.5 L86 417.5 L91 417.5 L91 418 L92 418 L92 421.5 L93 421.5 L93.83 421.5 L93.83 421.68 L96.05 421.68 L96.05 421.92 L98.15 421.92 L98.15 422.21 L100.97 422.21 L100.97 422.36 L102.81 422.36 L102.81 422.78 L104.93 422.78 L104.93 423 L106 423 L107 423 L107 426 L108 426 L109.63 426 L109.63 426.37 L111.31 426.37 L111.31 426.6 L113.64 426.6 L113.64 426.92 L115.86 426.92 L115.86 427.47 L118.84 427.47 L118.84 428 L120 428 L121 428 L121 431 L122 431 L123.08 431 L123.08 431.93 L124.87 431.93 L124.87 432.95 L127.3 432.95 L127.3 434 L128 434 L128.55 434 L128.55 434.44 L130.81 434.44 L130.81 435.33 L133.03 435.33 L133.03 436 L134 436 L135.3 436 L135.3 436.51 L136.79 436.51 L136.79 437.11 L139.21 437.11 L139.21 437.57 L141.3 437.57 L141.3 438 L142 438 L218 438 L218 463 L142 463 L141.05 463 L141.05 462.2 L138.6 462.2 L138.6 460.92 L137.06 460.92 L137.06 460.24 L134.57 460.24 L134.57 459 L134 459 L132.75 459 L132.75 458.3 L130.95 458.3 L130.95 456.83 L128.83 456.83 L128.83 455 L128 455 L126.84 455 L126.84 454.21 L125.47 454.21 L125.47 452.08 L123.1 452.08 L123.1 451 L122 451 L121 451 L121 448 L120 448 L119.24 448 L119.24 447.15 L116.96 447.15 L116.96 446.38 L113.9 446.38 L113.9 445 L113 445 L111.87 445 L111.87 443.75 L109.7 443.75 L109.7 443 L108 443 L107 443 L107 439 L106 439 L105.38 439 L105.38 438.79 L102.75 438.79 L102.75 438.58 L100.85 438.58 L100.85 438.37 L98.25 438.37 L98.25 438.28 L96.02 438.28 L96.02 438.09 L94.11 438.09 L94.11 438 L93 438 L92.5 438 L92.5 434 L92 434 L91.18 434 L91.18 433.66 L88.93 433.66 L88.93 433.06 L87.23 433.06 L87.23 432.65 L84.96 432.65 L84.96 432 L84 432 L82.5 432 L82.5 430 L81 430 L79.88 430 L79.88 429.62 L77.53 429.62 L77.53 429 L77 429 L76.3 429 L76.3 428.07 L73.65 428.07 L73.65 427.5 L73 427.5 L72.41 427.5 L72.41 426.65 L69.65 426.65 L69.65 426 L69 426 L68.08 426 L68.08 425.25 L65.73 425.25 L65.73 424 L65 424 L63.54 424 L63.54 422.85 L62.2 422.85 L62.2 421.5 L61 421.5 L60.19 421.5 L60.19 420.51 L58.41 420.51 L58.41 419 L57 419 L55.64 419 L55.64 417.29 L53.81 417.29 L53.81 416.5 L52 416.5 L50.6 416.5 L50.6 414.44 L48.71 414.44 L48.71 413.5 L48 413.5 L47.34 413.5 L47.34 412.27 L44.71 412.27 L44.71 411.04 L42.79 411.04 L42.79 410 L42 410 L41.13 410 L41.13 407.29 L38.33 407.29 L38.33 406 L37 406 L35.87 406 L35.87 403.51 L32.71 403.51 L32.71 402.5 L32 402.5 L31.14 402.5 L31.14 401.49 L28.93 401.49 L28.93 399 L28 399 L27 399 L27 396.81 L25.56 396.81 L25.56 394.3 L24.2 394.3 Z" fill="#c7d0ea"/>
<path d="M24.2 394.3 L25.4 394.3 L25.4 394.85 L28.28 394.85 L28.28 395.5 L29 395.5 L30.09 395.5 L30.09 396.56 L31.96 396.56 L31.96 397 L33 397 L33.91 397 L33.91 397.63 L35.97 397.63 L35.97 398.5 L37 398.5 L38 398.5 L38 401 L39 401 L43 401 L43 401.5 L43.99 401.5 L43.99 402.1 L46.01 402.1 L46.01 402.5 L47 402.5 L48 402.5 L48 405 L49 405 L50.55 405 L50.55 405.8 L52.63 405.8 L52.63 406.5 L54 406.5 L55.32 406.5 L55.32 406.97 L58.09 406.97 L58.09 408 L59 408 L59.9 408 L59.9 409.01 L62.22 409.01 L62.22 409.5 L64 409.5 L64.74 409.5 L64.74 410.19 L68.07 410.19 L68.07 410.5 L69 410.5 L70.48 410.5 L70.48 411.81 L73.01 411.81 L73.01 412.5 L74 412.5 L75.49 412.5 L75.49 413.46 L77.65 413.46 L77.65 414 L79 414 L80.5 414 L80.5 416 L82 416 L83.32 416 L83.32 416.63 L85.37 416.63 L85.37 417.5 L86 417.5 L91 417.5 L91 418 L92 418 L92 421.5 L93 421.5 L93.83 421.5 L93.83 421.68 L96.05 421.68 L96.05 421.92 L98.15 421.92 L98.15 422.21 L100.97 422.21 L100.97 422.36 L102.81 422.36 L102.81 422.78 L104.93 422.78 L104.93 423 L106 423 L107 423 L107 426 L108 426 L109.63 426 L109.63 426.37 L111.31 426.37 L111.31 426.6 L113.64 426.6 L113.64 426.92 L115.86 426.92 L115.86 427.47 L118.84 427.47 L118.84 428 L120 428 L121 428 L121 431 L122 431 L123.08 431 L123.08 431.93 L124.87 431.93 L124.87 432.95 L127.3 432.95 L127.3 434 L128 434 L128.55 434 L128.55 434.44 L130.81 434.44 L130.81 435.33 L133.03 435.33 L133.03 436 L134 436 L135.3 436 L135.3 436.51 L136.79 436.51 L136.79 437.11 L139.21 437.11 L139.21 437.57 L141.3 437.57 L141.3 438 L142 438 L218 438 L218 463 L142 463 L141.05 463 L141.05 462.2 L138.6 462.2 L138.6 460.92 L137.06 460.92 L137.06 460.24 L134.57 460.24 L134.57 459 L134 459 L132.75 459 L132.75 458.3 L130.95 458.3 L130.95 456.83 L128.83 456.83 L128.83 455 L128 455 L126.84 455 L126.84 454.21 L125.47 454.21 L125.47 452.08 L123.1 452.08 L123.1 451 L122 451 L121 451 L121 448 L120 448 L119.24 448 L119.24 447.15 L116.96 447.15 L116.96 446.38 L113.9 446.38 L113.9 445 L113 445 L111.87 445 L111.87 443.75 L109.7 443.75 L109.7 443 L108 443 L107 443 L107 439 L106 439 L105.38 439 L105.38 438.79 L102.75 438.79 L102.75 438.58 L100.85 438.58 L100.85 438.37 L98.25 438.37 L98.25 438.28 L96.02 438.28 L96.02 438.09 L94.11 438.09 L94.11 438 L93 438 L92.5 438 L92.5 434 L92 434 L91.18 434 L91.18 433.66 L88.93 433.66 L88.93 433.06 L87.23 433.06 L87.23 432.65 L84.96 432.65 L84.96 432 L84 432 L82.5 432 L82.5 430 L81 430 L79.88 430 L79.88 429.62 L77.53 429.62 L77.53 429 L77 429 L76.3 429 L76.3 428.07 L73.65 428.07 L73.65 427.5 L73 427.5 L72.41 427.5 L72.41 426.65 L69.65 426.65 L69.65 426 L69 426 L68.08 426 L68.08 425.25 L65.73 425.25 L65.73 424 L65 424 L63.54 424 L63.54 422.85 L62.2 422.85 L62.2 421.5 L61 421.5 L60.19 421.5 L60.19 420.51 L58.41 420.51 L58.41 419 L57 419 L55.64 419 L55.64 417.29 L53.81 417.29 L53.81 416.5 L52 416.5 L50.6 416.5 L50.6 414.44 L48.71 414.44 L48.71 413.5 L48 413.5 L47.34 413.5 L47.34 412.27 L44.71 412.27 L44.71 411.04 L42.79 411.04 L42.79 410 L42 410 L41.13 410 L41.13 407.29 L38.33 407.29 L38.33 406 L37 406 L35.87 406 L35.87 403.51 L32.71 403.51 L32.71 402.5 L32 402.5 L31.14 402.5 L31.14 401.49 L28.93 401.49 L28.93 399 L28 399 L27 399 L27 396.81 L25.56 396.81 L25.56 394.3 L24.2 394.3 Z" fill="#c4a9b1" clip-path="url(#cG)"/>
<path d="M24.2 464.8 H105.6 V535.3" fill="none" stroke="#6a6a6a" stroke-width="0.7" stroke-dasharray="0.9 0.9"/>
<path d="M24.2 394.3 L25.6 394.3 L25.6 397 L27 397 L28.5 397 L28.5 400 L30 400 L31.5 400 L31.5 402.5 L33 402.5 L34.5 402.5 L34.5 405 L36 405 L37 405 L37 408 L38 408 L39.5 408 L39.5 409.5 L41 409.5 L42.5 409.5 L42.5 412 L44 412 L45 412 L45 415 L46 415 L47.5 415 L47.5 417 L49 417 L50.5 417 L50.5 419 L52 419 L53.5 419 L53.5 421 L55 421 L56.5 421 L56.5 423 L58 423 L59 423 L59 426 L60 426 L61 426 L61 430 L62 430 L63.5 430 L63.5 433 L65 433 L66.5 433 L66.5 435 L68 435 L69.5 435 L69.5 437 L71 437 L72.5 437 L72.5 439 L74 439 L75.5 439 L75.5 441.5 L77 441.5 L78.5 441.5 L78.5 443.5 L80 443.5 L80.96 443.5 L80.96 444.58 L82.53 444.58 L82.53 445.5 L84 445.5 L85.15 445.5 L85.15 447.7 L86.63 447.7 L86.63 449 L88 449 L91 449 L91 449.5 L92 449.5 L92 455 L93 455 L93.87 455 L93.87 458.35 L96.16 458.35 L96.16 461 L97 461 L97.5 461 L97.5 462 L98 462 L105 462 L105.5 462 L105.5 464.5 L106 464.5 L107.5 464.5 L107.5 466 L109 466 L110.44 466 L110.44 466.75 L111.83 466.75 L111.83 467.5 L113 467.5 L114.5 467.5 L114.5 469.5 L116 469.5 L117.5 469.5 L117.5 472 L119 472 L120.23 472 L120.23 473.48 L122.31 473.48 L122.31 475 L124 475 L124.77 475 L124.77 475.9 L127.75 475.9 L127.75 478 L129 478 L175 478 L175.5 478 L175.5 489 L176 489 L177 489 L177 501 L178 501 L192.4 501" fill="none" stroke="#e2392c" stroke-width="1.0"/>
<path d="M24.2 394.3 L25.12 394.3 L25.12 395.99 L26.73 395.99 L26.73 397 L28 397 L29.5 397 L29.5 399 L31 399 L32.5 399 L32.5 401 L34 401 L35.5 401 L35.5 402 L37 402 L38 402 L38 404.5 L39 404.5 L39.87 404.5 L39.87 405.01 L41.7 405.01 L41.7 405.5 L43 405.5 L43.63 405.5 L43.63 406.06 L45.74 406.06 L45.74 406.5 L47 406.5 L48 406.5 L48 409.5 L49 409.5 L50.5 409.5 L50.5 410.5 L52 410.5 L53.5 410.5 L53.5 412.5 L55 412.5 L56.39 412.5 L56.39 413.66 L57.52 413.66 L57.52 414.5 L59 414.5 L60.29 414.5 L60.29 415.09 L62.07 415.09 L62.07 415.5 L63 415.5 L64.25 415.5 L64.25 416.43 L65.65 416.43 L65.65 417 L67 417 L67.89 417 L67.89 418.18 L70.02 418.18 L70.02 419 L71 419 L71.58 419 L71.58 419.54 L74.08 419.54 L74.08 420.5 L75 420.5 L76.28 420.5 L76.28 420.9 L78.21 420.9 L78.21 421.5 L79 421.5 L80.5 421.5 L80.5 423.5 L82 423.5 L83.5 423.5 L83.5 425 L85 425 L90 425 L91.5 425 L91.5 429 L93 429 L94 429 L94 430.5 L95 430.5 L104 430.5 L105.5 430.5 L105.5 432 L107 432 L108 432 L108 435 L109 435 L110.1 435 L110.1 435.43 L112.48 435.43 L112.48 436 L113 436 L114 436 L114 437 L115 437 L120 437 L120.5 437 L120.5 439.5 L121 439.5 L122.5 439.5 L122.5 441.5 L124 441.5 L125.19 441.5 L125.19 442.64 L127.31 442.64 L127.31 445 L128 445 L133 445 L134 445 L134 448 L135 448 L136.42 448 L136.42 448.27 L137.51 448.27 L137.51 448.69 L140.44 448.69 L140.44 449 L141 449 L141.75 449 L141.75 451.4 L142.5 451.4 L218 451.4" fill="none" stroke="#2a7ab8" stroke-width="1.0"/>
<path d="M89.62 448.2 v1.6 M98.98 461.2 v1.6 M102.2 461.2 v1.6 M131.16 477.2 v1.6 M133.91 477.2 v1.6 M137.64 477.2 v1.6 M140.34 477.2 v1.6 M143.33 477.2 v1.6 M146.43 477.2 v1.6 M150.08 477.2 v1.6 M156.96 477.2 v1.6 M163.95 477.2 v1.6 M169.91 477.2 v1.6 M174.3 477.2 v1.6 M180.36 500.2 v1.6 M186.9 500.2 v1.6" stroke="#e2392c" stroke-width="0.5" fill="none"/>
<path d="M87.07 424.2 v1.6 M97.05 429.7 v1.6 M103.28 429.7 v1.6 M115.98 436.2 v1.6 M129.5 444.2 v1.6 M132.31 444.2 v1.6 M144.65 450.6 v1.6 M150.37 450.6 v1.6 M153.05 450.6 v1.6 M159.19 450.6 v1.6 M165.88 450.6 v1.6 M172.4 450.6 v1.6 M178.12 450.6 v1.6 M184.29 450.6 v1.6 M190.3 450.6 v1.6 M195.25 450.6 v1.6 M199.43 450.6 v1.6 M205.55 450.6 v1.6 M211.47 450.6 v1.6" stroke="#2a7ab8" stroke-width="0.5" fill="none"/>
<path d="M14.5 387.2 V542 H227.5" fill="none" stroke="#7a7a7a" stroke-width="0.9"/>
<text x="6.7" y="536.75" font-size="3.5" fill="#333" stroke="#333" stroke-width="0.04" textLength="6.2" lengthAdjust="spacingAndGlyphs">0.00</text>
<text x="6.7" y="501.5" font-size="3.5" fill="#333" stroke="#333" stroke-width="0.04" textLength="6.2" lengthAdjust="spacingAndGlyphs">0.25</text>
<text x="6.7" y="466.25" font-size="3.5" fill="#333" stroke="#333" stroke-width="0.04" textLength="6.2" lengthAdjust="spacingAndGlyphs">0.50</text>
<text x="6.7" y="431" font-size="3.5" fill="#333" stroke="#333" stroke-width="0.04" textLength="6.2" lengthAdjust="spacingAndGlyphs">0.75</text>
<text x="6.7" y="395.75" font-size="3.5" fill="#333" stroke="#333" stroke-width="0.04" textLength="6.2" lengthAdjust="spacingAndGlyphs">1.00</text>
<text x="24.2" y="545.9" font-size="3.1" text-anchor="middle" fill="#333" stroke="#333" stroke-width="0.05">0</text>
<text x="63.16" y="545.9" font-size="3.1" text-anchor="middle" fill="#333" stroke="#333" stroke-width="0.05">2.5</text>
<text x="102.12" y="545.9" font-size="3.1" text-anchor="middle" fill="#333" stroke="#333" stroke-width="0.05">5</text>
<text x="141.08" y="545.9" font-size="3.1" text-anchor="middle" fill="#333" stroke="#333" stroke-width="0.05">7.5</text>
<text x="180.04" y="545.9" font-size="3.1" text-anchor="middle" fill="#333" stroke="#333" stroke-width="0.05">10</text>
<text x="219" y="545.9" font-size="3.1" text-anchor="middle" fill="#333" stroke="#333" stroke-width="0.05">12.5</text>
<path d="M13.3 535.3 H14.5 M13.3 500.05 H14.5 M13.3 464.8 H14.5 M13.3 429.55 H14.5 M13.3 394.3 H14.5 M24.2 542 V543.2 M63.16 542 V543.2 M102.12 542 V543.2 M141.08 542 V543.2 M180.04 542 V543.2 M219 542 V543.2" stroke="#7a7a7a" stroke-width="0.6"/>
<text x="121.6" y="549.6" font-size="3.4" text-anchor="middle" fill="#222" stroke="#222" stroke-width="0.05">Time(years)</text>
<text transform="translate(4.2 464.8) rotate(-90)" x="0" y="1.2" font-size="3.4" text-anchor="middle" fill="#222" stroke="#222" stroke-width="0.06">Survival probability</text>
<text x="27.5" y="508.6" font-size="3.7" fill="#222" textLength="17.8" lengthAdjust="spacingAndGlyphs">p < 0.0001</text>
<text x="73.4" y="382.1" font-size="2.9" fill="#111" stroke="#111" stroke-width="0.08" textLength="13.9" lengthAdjust="spacingAndGlyphs">PLAC2-DT</text>
<rect x="89.9" y="379.2" width="4.1" height="4.3" fill="#f2c5aa"/>
<path d="M89.9 381.1 h4.1" stroke="#e2392c" stroke-width="0.9"/>
<text x="95.4" y="382.1" font-size="2.9" fill="#111" stroke="#111" stroke-width="0.08" textLength="33.6" lengthAdjust="spacingAndGlyphs">PLAC2-DT high expression</text>
<rect x="130.7" y="379.2" width="4.1" height="4.3" fill="#c7d0ea"/>
<path d="M130.7 381.1 h4.1" stroke="#2a7ab8" stroke-width="0.9"/>
<text x="136.2" y="382.1" font-size="2.9" fill="#111" stroke="#111" stroke-width="0.08" textLength="33.6" lengthAdjust="spacingAndGlyphs">PLAC2-DT low expression</text>
<text x="5.2" y="382.9" font-size="13.7" fill="#231f20" stroke="#231f20" stroke-width="0.7">G</text>
</svg>
</body></html>
